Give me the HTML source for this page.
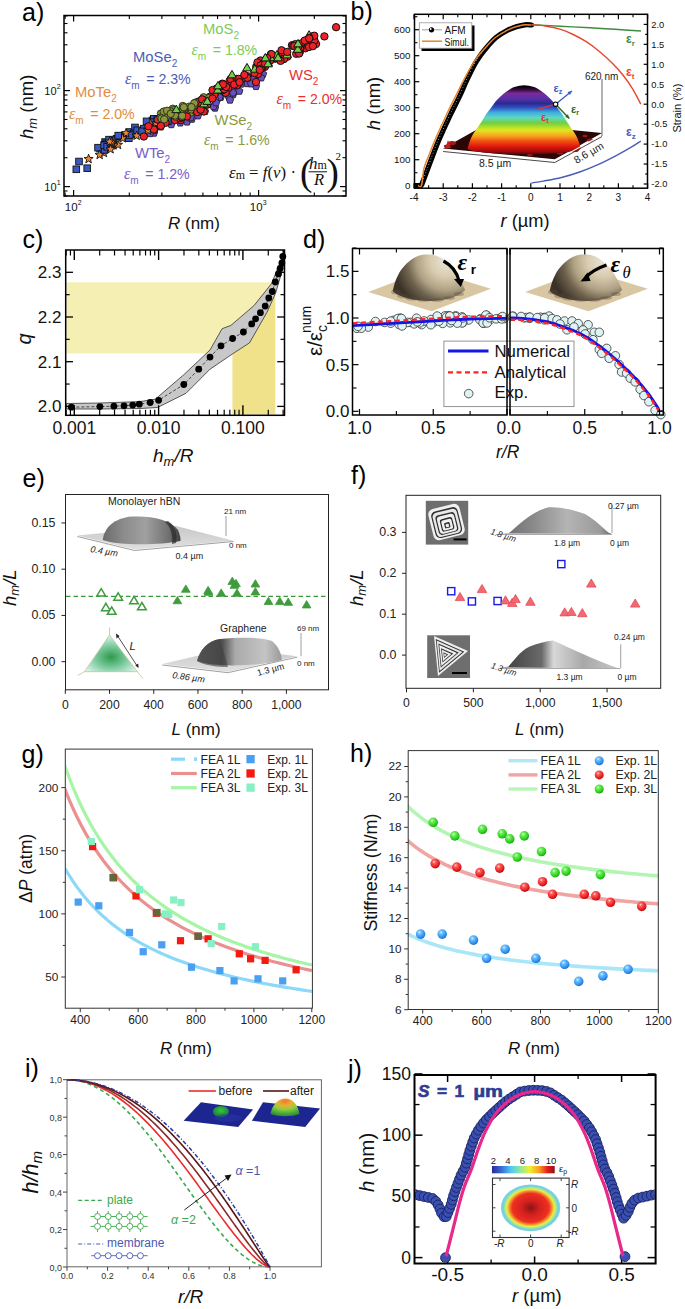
<!DOCTYPE html>
<html><head><meta charset="utf-8"><title>figure</title>
<style>html,body{margin:0;padding:0;background:#fff;overflow:hidden;} svg{display:block;}</style></head>
<body><svg width="685" height="1309" viewBox="0 0 685 1309">
<defs><linearGradient id="rainbow" gradientUnits="userSpaceOnUse" x1="0" y1="86.5" x2="0" y2="154.5">
<stop offset="0" stop-color="#0a000a"/><stop offset="0.05" stop-color="#3a0c40"/><stop offset="0.1" stop-color="#7a2a9a"/>
<stop offset="0.175" stop-color="#5a30a8"/><stop offset="0.25" stop-color="#2a2a90"/><stop offset="0.31" stop-color="#3050c0"/>
<stop offset="0.385" stop-color="#40b0e0"/><stop offset="0.46" stop-color="#60d8c0"/><stop offset="0.535" stop-color="#70d040"/>
<stop offset="0.64" stop-color="#e0e820"/><stop offset="0.73" stop-color="#f8a020"/><stop offset="0.805" stop-color="#f05010"/>
<stop offset="0.88" stop-color="#e01810"/><stop offset="0.955" stop-color="#a00a0a"/><stop offset="1" stop-color="#500505"/></linearGradient>
<radialGradient id="beigeL" gradientUnits="userSpaceOnUse" cx="447" cy="260" r="54" fx="446" fy="261"><stop offset="0" stop-color="#ebe4d4"/><stop offset="0.3" stop-color="#d8ccb0"/><stop offset="0.55" stop-color="#b0a284"/><stop offset="0.75" stop-color="#6e624e"/><stop offset="1" stop-color="#3a3226"/></radialGradient>
<radialGradient id="beigeR" gradientUnits="userSpaceOnUse" cx="604" cy="260" r="54" fx="603" fy="261"><stop offset="0" stop-color="#ebe4d4"/><stop offset="0.3" stop-color="#d8ccb0"/><stop offset="0.55" stop-color="#b0a284"/><stop offset="0.75" stop-color="#6e624e"/><stop offset="1" stop-color="#3a3226"/></radialGradient>
<linearGradient id="grayDomeL" x1="0" y1="0" x2="1" y2="0"><stop offset="0" stop-color="#6a6a6a"/><stop offset="0.25" stop-color="#8a8a8a"/><stop offset="0.55" stop-color="#a0a0a0"/><stop offset="0.85" stop-color="#707070"/><stop offset="1" stop-color="#404040"/></linearGradient>
<linearGradient id="grayPlate" x1="0" y1="0" x2="0" y2="1"><stop offset="0" stop-color="#c8c8c8"/><stop offset="1" stop-color="#e0e0e0"/></linearGradient>
<linearGradient id="grapheneL" x1="0" y1="0" x2="1" y2="0"><stop offset="0" stop-color="#707070"/><stop offset="0.3" stop-color="#505050"/><stop offset="0.45" stop-color="#aaaaaa"/><stop offset="0.8" stop-color="#c4c4c4"/><stop offset="1" stop-color="#9a9a9a"/></linearGradient>
<radialGradient id="triG" cx="0.5" cy="0.6" r="0.6"><stop offset="0" stop-color="#2e9a4a"/><stop offset="0.5" stop-color="#7ccba0"/><stop offset="1" stop-color="#e2f5ee"/></radialGradient>
<linearGradient id="pyrA" x1="0" y1="0" x2="1" y2="0"><stop offset="0" stop-color="#6a6a6a"/><stop offset="0.3" stop-color="#8a8a8a"/><stop offset="0.6" stop-color="#b4b4b4"/><stop offset="0.9" stop-color="#9a9a9a"/><stop offset="1" stop-color="#6a6a6a"/></linearGradient>
<linearGradient id="pyrB" x1="0" y1="0" x2="1" y2="0"><stop offset="0" stop-color="#3a3a3a"/><stop offset="0.35" stop-color="#6a6a6a"/><stop offset="0.45" stop-color="#d8d8d8"/><stop offset="0.7" stop-color="#a8a8a8"/><stop offset="1" stop-color="#c8c8c8"/></linearGradient>
<radialGradient id="sphB" cx="0.38" cy="0.32" r="0.7"><stop offset="0" stop-color="#d8f0ff"/><stop offset="0.25" stop-color="#6cc0ff"/><stop offset="0.8" stop-color="#2a8ae8"/><stop offset="1" stop-color="#1a6ad0"/></radialGradient>
<radialGradient id="sphR" cx="0.38" cy="0.32" r="0.7"><stop offset="0" stop-color="#ffd8d8"/><stop offset="0.25" stop-color="#ff5a5a"/><stop offset="0.8" stop-color="#e01818"/><stop offset="1" stop-color="#b80808"/></radialGradient>
<radialGradient id="sphG" cx="0.38" cy="0.32" r="0.7"><stop offset="0" stop-color="#e0ffd8"/><stop offset="0.25" stop-color="#6cf05a"/><stop offset="0.8" stop-color="#28c818"/><stop offset="1" stop-color="#18a010"/></radialGradient>
<radialGradient id="bumpG" cx="0.5" cy="0.4" r="0.6"><stop offset="0" stop-color="#3ac83a"/><stop offset="1" stop-color="#1a7a3a"/></radialGradient>
<radialGradient id="bumpO" cx="0.5" cy="0.15" r="0.85"><stop offset="0" stop-color="#f07a30"/><stop offset="0.3" stop-color="#e8b030"/><stop offset="0.55" stop-color="#8ad040"/><stop offset="1" stop-color="#2a8a3a"/></radialGradient>
<linearGradient id="cbar" x1="0" y1="0" x2="1" y2="0"><stop offset="0" stop-color="#2a2a9a"/><stop offset="0.15" stop-color="#3a6ad8"/><stop offset="0.3" stop-color="#50c8f0"/><stop offset="0.45" stop-color="#90e8a0"/><stop offset="0.6" stop-color="#f0f030"/><stop offset="0.75" stop-color="#f8a020"/><stop offset="0.88" stop-color="#e82020"/><stop offset="1" stop-color="#901010"/></linearGradient>
<radialGradient id="ell" cx="0.5" cy="0.5" r="0.5"><stop offset="0" stop-color="#8a1414"/><stop offset="0.3" stop-color="#d42020"/><stop offset="0.62" stop-color="#ee3020"/><stop offset="0.72" stop-color="#f49030"/><stop offset="0.8" stop-color="#e8f040"/><stop offset="0.88" stop-color="#a0e0a0"/><stop offset="0.92" stop-color="#70d4e0"/><stop offset="1" stop-color="#78d0e8"/></radialGradient></defs>
<rect x="0" y="0" width="685" height="1309" fill="#fff"/>
<text x="22" y="21" fill="#000" text-anchor="start" style="font-family:'Liberation Sans', sans-serif;font-size:25px;" >a)</text>
<line x1="73.6" y1="196" x2="73.6" y2="190" stroke="#000" stroke-width="1.2" />
<line x1="73.6" y1="15.5" x2="73.6" y2="21.5" stroke="#000" stroke-width="1.2" />
<line x1="258.6" y1="196" x2="258.6" y2="190" stroke="#000" stroke-width="1.2" />
<line x1="258.6" y1="15.5" x2="258.6" y2="21.5" stroke="#000" stroke-width="1.2" />
<line x1="65.13" y1="196" x2="65.13" y2="192.5" stroke="#000" stroke-width="1.1" />
<line x1="65.13" y1="15.5" x2="65.13" y2="19" stroke="#000" stroke-width="1.1" />
<line x1="129.29" y1="196" x2="129.29" y2="192.5" stroke="#000" stroke-width="1.1" />
<line x1="129.29" y1="15.5" x2="129.29" y2="19" stroke="#000" stroke-width="1.1" />
<line x1="161.87" y1="196" x2="161.87" y2="192.5" stroke="#000" stroke-width="1.1" />
<line x1="161.87" y1="15.5" x2="161.87" y2="19" stroke="#000" stroke-width="1.1" />
<line x1="184.98" y1="196" x2="184.98" y2="192.5" stroke="#000" stroke-width="1.1" />
<line x1="184.98" y1="15.5" x2="184.98" y2="19" stroke="#000" stroke-width="1.1" />
<line x1="202.91" y1="196" x2="202.91" y2="192.5" stroke="#000" stroke-width="1.1" />
<line x1="202.91" y1="15.5" x2="202.91" y2="19" stroke="#000" stroke-width="1.1" />
<line x1="217.56" y1="196" x2="217.56" y2="192.5" stroke="#000" stroke-width="1.1" />
<line x1="217.56" y1="15.5" x2="217.56" y2="19" stroke="#000" stroke-width="1.1" />
<line x1="229.94" y1="196" x2="229.94" y2="192.5" stroke="#000" stroke-width="1.1" />
<line x1="229.94" y1="15.5" x2="229.94" y2="19" stroke="#000" stroke-width="1.1" />
<line x1="240.67" y1="196" x2="240.67" y2="192.5" stroke="#000" stroke-width="1.1" />
<line x1="240.67" y1="15.5" x2="240.67" y2="19" stroke="#000" stroke-width="1.1" />
<line x1="250.13" y1="196" x2="250.13" y2="192.5" stroke="#000" stroke-width="1.1" />
<line x1="250.13" y1="15.5" x2="250.13" y2="19" stroke="#000" stroke-width="1.1" />
<line x1="314.29" y1="196" x2="314.29" y2="192.5" stroke="#000" stroke-width="1.1" />
<line x1="314.29" y1="15.5" x2="314.29" y2="19" stroke="#000" stroke-width="1.1" />
<line x1="64" y1="186.6" x2="70" y2="186.6" stroke="#000" stroke-width="1.2" />
<line x1="346" y1="186.6" x2="340" y2="186.6" stroke="#000" stroke-width="1.2" />
<line x1="64" y1="90.6" x2="70" y2="90.6" stroke="#000" stroke-width="1.2" />
<line x1="346" y1="90.6" x2="340" y2="90.6" stroke="#000" stroke-width="1.2" />
<line x1="64" y1="195.9" x2="67.5" y2="195.9" stroke="#000" stroke-width="1.1" />
<line x1="346" y1="195.9" x2="342.5" y2="195.9" stroke="#000" stroke-width="1.1" />
<line x1="64" y1="190.99" x2="67.5" y2="190.99" stroke="#000" stroke-width="1.1" />
<line x1="346" y1="190.99" x2="342.5" y2="190.99" stroke="#000" stroke-width="1.1" />
<line x1="64" y1="157.7" x2="67.5" y2="157.7" stroke="#000" stroke-width="1.1" />
<line x1="346" y1="157.7" x2="342.5" y2="157.7" stroke="#000" stroke-width="1.1" />
<line x1="64" y1="140.8" x2="67.5" y2="140.8" stroke="#000" stroke-width="1.1" />
<line x1="346" y1="140.8" x2="342.5" y2="140.8" stroke="#000" stroke-width="1.1" />
<line x1="64" y1="128.8" x2="67.5" y2="128.8" stroke="#000" stroke-width="1.1" />
<line x1="346" y1="128.8" x2="342.5" y2="128.8" stroke="#000" stroke-width="1.1" />
<line x1="64" y1="119.5" x2="67.5" y2="119.5" stroke="#000" stroke-width="1.1" />
<line x1="346" y1="119.5" x2="342.5" y2="119.5" stroke="#000" stroke-width="1.1" />
<line x1="64" y1="111.9" x2="67.5" y2="111.9" stroke="#000" stroke-width="1.1" />
<line x1="346" y1="111.9" x2="342.5" y2="111.9" stroke="#000" stroke-width="1.1" />
<line x1="64" y1="105.47" x2="67.5" y2="105.47" stroke="#000" stroke-width="1.1" />
<line x1="346" y1="105.47" x2="342.5" y2="105.47" stroke="#000" stroke-width="1.1" />
<line x1="64" y1="99.9" x2="67.5" y2="99.9" stroke="#000" stroke-width="1.1" />
<line x1="346" y1="99.9" x2="342.5" y2="99.9" stroke="#000" stroke-width="1.1" />
<line x1="64" y1="94.99" x2="67.5" y2="94.99" stroke="#000" stroke-width="1.1" />
<line x1="346" y1="94.99" x2="342.5" y2="94.99" stroke="#000" stroke-width="1.1" />
<line x1="64" y1="61.7" x2="67.5" y2="61.7" stroke="#000" stroke-width="1.1" />
<line x1="346" y1="61.7" x2="342.5" y2="61.7" stroke="#000" stroke-width="1.1" />
<line x1="64" y1="44.8" x2="67.5" y2="44.8" stroke="#000" stroke-width="1.1" />
<line x1="346" y1="44.8" x2="342.5" y2="44.8" stroke="#000" stroke-width="1.1" />
<line x1="64" y1="32.8" x2="67.5" y2="32.8" stroke="#000" stroke-width="1.1" />
<line x1="346" y1="32.8" x2="342.5" y2="32.8" stroke="#000" stroke-width="1.1" />
<line x1="64" y1="23.5" x2="67.5" y2="23.5" stroke="#000" stroke-width="1.1" />
<line x1="346" y1="23.5" x2="342.5" y2="23.5" stroke="#000" stroke-width="1.1" />
<line x1="64" y1="15.9" x2="67.5" y2="15.9" stroke="#000" stroke-width="1.1" />
<line x1="346" y1="15.9" x2="342.5" y2="15.9" stroke="#000" stroke-width="1.1" />
<rect x="64" y="15.5" width="282" height="180.5" fill="none" stroke="#000" stroke-width="1.5" />
<polygon points="228.03,90.82 231.74,93.52 230.33,97.88 225.74,97.88 224.33,93.52" stroke="#222" fill="#6a4ec8" stroke-width="0.9" />
<polygon points="220.75,93.42 224.45,96.11 223.04,100.47 218.45,100.47 217.04,96.11" stroke="#222" fill="#6a4ec8" stroke-width="0.9" />
<polygon points="171.39,117.45 175.1,120.15 173.68,124.51 169.1,124.51 167.68,120.15" stroke="#222" fill="#6a4ec8" stroke-width="0.9" />
<polygon points="153.97,129.16 157.68,131.85 156.26,136.21 151.68,136.21 150.26,131.85" stroke="#222" fill="#6a4ec8" stroke-width="0.9" />
<polygon points="215,104.1 218.71,106.79 217.29,111.16 212.71,111.16 211.29,106.79" stroke="#222" fill="#6a4ec8" stroke-width="0.9" />
<polygon points="259.85,72.7 263.56,75.39 262.15,79.75 257.56,79.75 256.15,75.39" stroke="#222" fill="#6a4ec8" stroke-width="0.9" />
<polygon points="246.98,79.61 250.69,82.31 249.27,86.67 244.69,86.67 243.27,82.31" stroke="#222" fill="#6a4ec8" stroke-width="0.9" />
<polygon points="217.61,94.81 221.32,97.51 219.9,101.87 215.32,101.87 213.9,97.51" stroke="#222" fill="#6a4ec8" stroke-width="0.9" />
<polygon points="187.08,118.06 190.79,120.76 189.37,125.12 184.79,125.12 183.37,120.76" stroke="#222" fill="#6a4ec8" stroke-width="0.9" />
<polygon points="232.85,87.97 236.56,90.66 235.15,95.02 230.56,95.02 229.15,90.66" stroke="#222" fill="#6a4ec8" stroke-width="0.9" />
<polygon points="232.1,86.67 235.81,89.37 234.4,93.73 229.81,93.73 228.39,89.37" stroke="#222" fill="#6a4ec8" stroke-width="0.9" />
<polygon points="233.07,90.71 236.78,93.41 235.36,97.77 230.78,97.77 229.36,93.41" stroke="#222" fill="#6a4ec8" stroke-width="0.9" />
<polygon points="229.11,93.6 232.82,96.29 231.4,100.65 226.81,100.65 225.4,96.29" stroke="#222" fill="#6a4ec8" stroke-width="0.9" />
<polygon points="205.05,107.54 208.76,110.24 207.34,114.6 202.75,114.6 201.34,110.24" stroke="#222" fill="#6a4ec8" stroke-width="0.9" />
<polygon points="191.84,115.18 195.55,117.88 194.13,122.24 189.54,122.24 188.13,117.88" stroke="#222" fill="#6a4ec8" stroke-width="0.9" />
<polygon points="219.57,93.32 223.28,96.02 221.87,100.38 217.28,100.38 215.86,96.02" stroke="#222" fill="#6a4ec8" stroke-width="0.9" />
<polygon points="171.3,120.64 175.01,123.34 173.59,127.7 169.01,127.7 167.59,123.34" stroke="#222" fill="#6a4ec8" stroke-width="0.9" />
<polygon points="167.44,115.58 171.15,118.27 169.73,122.63 165.15,122.63 163.73,118.27" stroke="#222" fill="#6a4ec8" stroke-width="0.9" />
<polygon points="239.26,87.22 242.97,89.91 241.55,94.27 236.97,94.27 235.55,89.91" stroke="#222" fill="#6a4ec8" stroke-width="0.9" />
<polygon points="263,70.1 266.71,72.79 265.29,77.16 260.71,77.16 259.29,72.79" stroke="#222" fill="#6a4ec8" stroke-width="0.9" />
<polygon points="160.28,122.41 163.99,125.11 162.57,129.47 157.99,129.47 156.57,125.11" stroke="#222" fill="#6a4ec8" stroke-width="0.9" />
<polygon points="256,82.5 259.71,85.19 258.29,89.56 253.71,89.56 252.29,85.19" stroke="#222" fill="#6a4ec8" stroke-width="0.9" />
<polygon points="201.03,104.03 204.74,106.73 203.32,111.09 198.74,111.09 197.32,106.73" stroke="#222" fill="#6a4ec8" stroke-width="0.9" />
<rect x="163.45" y="117.7" width="6.6" height="6.6" fill="#3a58c4" stroke="#111" stroke-width="0.9" />
<polygon points="214.94,95.23 218.65,97.92 217.23,102.28 212.65,102.28 211.23,97.92" stroke="#222" fill="#6a4ec8" stroke-width="0.9" />
<polygon points="261.27,73.86 264.97,76.55 263.56,80.91 258.97,80.91 257.56,76.55" stroke="#222" fill="#6a4ec8" stroke-width="0.9" />
<polygon points="241,80.1 244.71,82.79 243.29,87.16 238.71,87.16 237.29,82.79" stroke="#222" fill="#6a4ec8" stroke-width="0.9" />
<rect x="149.2" y="117.08" width="6.6" height="6.6" fill="#3a58c4" stroke="#111" stroke-width="0.9" />
<rect x="96.81" y="145.29" width="6.6" height="6.6" fill="#3a58c4" stroke="#111" stroke-width="0.9" />
<rect x="108.05" y="142.34" width="6.6" height="6.6" fill="#3a58c4" stroke="#111" stroke-width="0.9" />
<polygon points="154.34,126.49 158.05,129.18 156.63,133.54 152.05,133.54 150.63,129.18" stroke="#222" fill="#6a4ec8" stroke-width="0.9" />
<rect x="158.42" y="114.19" width="6.6" height="6.6" fill="#3a58c4" stroke="#111" stroke-width="0.9" />
<polygon points="150,129.6 153.71,132.29 152.29,136.66 147.71,136.66 146.29,132.29" stroke="#222" fill="#6a4ec8" stroke-width="0.9" />
<rect x="129.68" y="131.14" width="6.6" height="6.6" fill="#3a58c4" stroke="#111" stroke-width="0.9" />
<polygon points="213.53,102.7 217.24,105.4 215.82,109.76 211.24,109.76 209.82,105.4" stroke="#222" fill="#6a4ec8" stroke-width="0.9" />
<polygon points="197.89,111.86 201.6,114.55 200.18,118.92 195.59,118.92 194.18,114.55" stroke="#222" fill="#6a4ec8" stroke-width="0.9" />
<polygon points="230,96.1 233.71,98.79 232.29,103.16 227.71,103.16 226.29,98.79" stroke="#222" fill="#6a4ec8" stroke-width="0.9" />
<rect x="162.19" y="116" width="6.6" height="6.6" fill="#3a58c4" stroke="#111" stroke-width="0.9" />
<rect x="101.77" y="138.76" width="6.6" height="6.6" fill="#3a58c4" stroke="#111" stroke-width="0.9" />
<polygon points="233.08,88.94 236.79,91.63 235.37,95.99 230.79,95.99 229.37,91.63" stroke="#222" fill="#6a4ec8" stroke-width="0.9" />
<polygon points="160.82,122.95 164.53,125.65 163.11,130.01 158.53,130.01 157.11,125.65" stroke="#222" fill="#6a4ec8" stroke-width="0.9" />
<rect x="125.54" y="134.92" width="6.6" height="6.6" fill="#3a58c4" stroke="#111" stroke-width="0.9" />
<polygon points="153.82,123.47 157.53,126.16 156.12,130.53 151.53,130.53 150.11,126.16" stroke="#222" fill="#6a4ec8" stroke-width="0.9" />
<rect x="126.71" y="128.71" width="6.6" height="6.6" fill="#3a58c4" stroke="#111" stroke-width="0.9" />
<rect x="131.69" y="124.16" width="6.6" height="6.6" fill="#3a58c4" stroke="#111" stroke-width="0.9" />
<polygon points="216.09,98.71 219.8,101.41 218.39,105.77 213.8,105.77 212.39,101.41" stroke="#222" fill="#6a4ec8" stroke-width="0.9" />
<polygon points="159.57,119.94 163.27,122.64 161.86,127 157.27,127 155.86,122.64" stroke="#222" fill="#6a4ec8" stroke-width="0.9" />
<rect x="75.7" y="158.2" width="6.6" height="6.6" fill="#3a58c4" stroke="#111" stroke-width="0.9" />
<polygon points="251.09,79.88 254.8,82.58 253.38,86.94 248.8,86.94 247.38,82.58" stroke="#222" fill="#6a4ec8" stroke-width="0.9" />
<polygon points="180.27,119.01 183.98,121.7 182.56,126.06 177.98,126.06 176.56,121.7" stroke="#222" fill="#6a4ec8" stroke-width="0.9" />
<rect x="131.04" y="130.27" width="6.6" height="6.6" fill="#3a58c4" stroke="#111" stroke-width="0.9" />
<polygon points="252.91,72.79 256.62,75.48 255.2,79.85 250.62,79.85 249.2,75.48" stroke="#222" fill="#6a4ec8" stroke-width="0.9" />
<rect x="130.25" y="130.12" width="6.6" height="6.6" fill="#3a58c4" stroke="#111" stroke-width="0.9" />
<polygon points="190.7,113.79 194.41,116.48 192.99,120.84 188.41,120.84 186.99,116.48" stroke="#222" fill="#6a4ec8" stroke-width="0.9" />
<rect x="108.01" y="137.46" width="6.6" height="6.6" fill="#3a58c4" stroke="#111" stroke-width="0.9" />
<polygon points="117.45,132.21 118.62,135.39 122.01,135.53 119.35,137.63 120.27,140.89 117.45,139.01 114.63,140.89 115.54,137.63 112.88,135.53 116.27,135.39" stroke="#111" fill="#e8873a" stroke-width="0.9" />
<rect x="102.86" y="141.83" width="6.6" height="6.6" fill="#3a58c4" stroke="#111" stroke-width="0.9" />
<polygon points="113.77,139.33 114.94,142.51 118.33,142.65 115.67,144.75 116.59,148.01 113.77,146.13 110.95,148.01 111.87,144.75 109.2,142.65 112.59,142.51" stroke="#111" fill="#e8873a" stroke-width="0.9" />
<polygon points="114.22,134.99 115.39,138.17 118.78,138.31 116.12,140.41 117.04,143.67 114.22,141.79 111.39,143.67 112.31,140.41 109.65,138.31 113.04,138.17" stroke="#111" fill="#e8873a" stroke-width="0.9" />
<rect x="102.96" y="140.03" width="6.6" height="6.6" fill="#3a58c4" stroke="#111" stroke-width="0.9" />
<polygon points="157.87,116.96 159.05,120.14 162.44,120.27 159.77,122.37 160.69,125.64 157.87,123.76 155.05,125.64 155.97,122.37 153.31,120.27 156.7,120.14" stroke="#111" fill="#e8873a" stroke-width="0.9" />
<rect x="150.49" y="115.44" width="6.6" height="6.6" fill="#3a58c4" stroke="#111" stroke-width="0.9" />
<rect x="116.77" y="132.96" width="6.6" height="6.6" fill="#3a58c4" stroke="#111" stroke-width="0.9" />
<rect x="109.6" y="136.95" width="6.6" height="6.6" fill="#3a58c4" stroke="#111" stroke-width="0.9" />
<rect x="159.39" y="113.87" width="6.6" height="6.6" fill="#3a58c4" stroke="#111" stroke-width="0.9" />
<rect x="153.52" y="119.08" width="6.6" height="6.6" fill="#3a58c4" stroke="#111" stroke-width="0.9" />
<polygon points="122.65,133.47 123.82,136.65 127.21,136.79 124.55,138.89 125.47,142.15 122.65,140.27 119.83,142.15 120.75,138.89 118.08,136.79 121.47,136.65" stroke="#111" fill="#e8873a" stroke-width="0.9" />
<rect x="148.34" y="118.85" width="6.6" height="6.6" fill="#3a58c4" stroke="#111" stroke-width="0.9" />
<rect x="126.37" y="131.69" width="6.6" height="6.6" fill="#3a58c4" stroke="#111" stroke-width="0.9" />
<rect x="163.33" y="112.07" width="6.6" height="6.6" fill="#3a58c4" stroke="#111" stroke-width="0.9" />
<rect x="133.85" y="127.01" width="6.6" height="6.6" fill="#3a58c4" stroke="#111" stroke-width="0.9" />
<rect x="140.47" y="125.33" width="6.6" height="6.6" fill="#3a58c4" stroke="#111" stroke-width="0.9" />
<rect x="161.76" y="117.01" width="6.6" height="6.6" fill="#3a58c4" stroke="#111" stroke-width="0.9" />
<rect x="138.79" y="128.03" width="6.6" height="6.6" fill="#3a58c4" stroke="#111" stroke-width="0.9" />
<polygon points="103.22,144.42 104.39,147.6 107.78,147.74 105.12,149.84 106.04,153.1 103.22,151.22 100.4,153.1 101.32,149.84 98.65,147.74 102.04,147.6" stroke="#111" fill="#e8873a" stroke-width="0.9" />
<rect x="83.9" y="164.9" width="6.6" height="6.6" fill="#3a58c4" stroke="#111" stroke-width="0.9" />
<rect x="73" y="166" width="6.6" height="6.6" fill="#3a58c4" stroke="#111" stroke-width="0.9" />
<polygon points="103.92,148.13 105.1,151.31 108.49,151.45 105.83,153.55 106.74,156.81 103.92,154.93 101.1,156.81 102.02,153.55 99.36,151.45 102.75,151.31" stroke="#111" fill="#e8873a" stroke-width="0.9" />
<polygon points="117.99,140.06 119.16,143.24 122.55,143.37 119.89,145.47 120.81,148.74 117.99,146.86 115.16,148.74 116.08,145.47 113.42,143.37 116.81,143.24" stroke="#111" fill="#e8873a" stroke-width="0.9" />
<polygon points="150.32,118.37 151.49,121.55 154.88,121.68 152.22,123.78 153.14,127.05 150.32,125.17 147.49,127.05 148.41,123.78 145.75,121.68 149.14,121.55" stroke="#111" fill="#e8873a" stroke-width="0.9" />
<rect x="101.29" y="141.44" width="6.6" height="6.6" fill="#3a58c4" stroke="#111" stroke-width="0.9" />
<rect x="105.72" y="136.34" width="6.6" height="6.6" fill="#3a58c4" stroke="#111" stroke-width="0.9" />
<rect x="99.81" y="145.44" width="6.6" height="6.6" fill="#3a58c4" stroke="#111" stroke-width="0.9" />
<rect x="101.05" y="146.62" width="6.6" height="6.6" fill="#3a58c4" stroke="#111" stroke-width="0.9" />
<polygon points="163.99,116.38 165.17,119.56 168.56,119.7 165.9,121.8 166.82,125.06 163.99,123.18 161.17,125.06 162.09,121.8 159.43,119.7 162.82,119.56" stroke="#111" fill="#e8873a" stroke-width="0.9" />
<polygon points="136.65,130.94 137.82,134.12 141.21,134.26 138.55,136.36 139.47,139.62 136.65,137.74 133.82,139.62 134.74,136.36 132.08,134.26 135.47,134.12" stroke="#111" fill="#e8873a" stroke-width="0.9" />
<rect x="94.74" y="144.37" width="6.6" height="6.6" fill="#3a58c4" stroke="#111" stroke-width="0.9" />
<polygon points="99.67,150.09 100.85,153.27 104.24,153.41 101.57,155.51 102.49,158.77 99.67,156.89 96.85,158.77 97.77,155.51 95.1,153.41 98.49,153.27" stroke="#111" fill="#e8873a" stroke-width="0.9" />
<polygon points="113.45,140.52 114.63,143.7 118.02,143.84 115.35,145.94 116.27,149.2 113.45,147.32 110.63,149.2 111.55,145.94 108.89,143.84 112.27,143.7" stroke="#111" fill="#e8873a" stroke-width="0.9" />
<rect x="164.54" y="117.7" width="6.6" height="6.6" fill="#3a58c4" stroke="#111" stroke-width="0.9" />
<rect x="100.8" y="141.98" width="6.6" height="6.6" fill="#3a58c4" stroke="#111" stroke-width="0.9" />
<rect x="103.87" y="143.55" width="6.6" height="6.6" fill="#3a58c4" stroke="#111" stroke-width="0.9" />
<polygon points="155.95,118.39 157.13,121.58 160.52,121.71 157.85,123.81 158.77,127.08 155.95,125.19 153.13,127.08 154.05,123.81 151.39,121.71 154.78,121.58" stroke="#111" fill="#e8873a" stroke-width="0.9" />
<rect x="114.93" y="132.29" width="6.6" height="6.6" fill="#3a58c4" stroke="#111" stroke-width="0.9" />
<rect x="143.24" y="118.07" width="6.6" height="6.6" fill="#3a58c4" stroke="#111" stroke-width="0.9" />
<rect x="153.96" y="115.62" width="6.6" height="6.6" fill="#3a58c4" stroke="#111" stroke-width="0.9" />
<polygon points="88.6,154.2 89.78,157.38 93.17,157.52 90.5,159.62 91.42,162.88 88.6,161 85.78,162.88 86.7,159.62 84.03,157.52 87.42,157.38" stroke="#111" fill="#e8873a" stroke-width="0.9" />
<rect x="107.63" y="140.36" width="6.6" height="6.6" fill="#3a58c4" stroke="#111" stroke-width="0.9" />
<polygon points="111.54,138.37 112.71,141.56 116.1,141.69 113.44,143.79 114.36,147.06 111.54,145.17 108.72,147.06 109.64,143.79 106.97,141.69 110.36,141.56" stroke="#111" fill="#e8873a" stroke-width="0.9" />
<polygon points="111.71,136.93 112.89,140.11 116.28,140.24 113.62,142.34 114.54,145.61 111.71,143.73 108.89,145.61 109.81,142.34 107.15,140.24 110.54,140.11" stroke="#111" fill="#e8873a" stroke-width="0.9" />
<polygon points="159.68,118.1 160.86,121.29 164.25,121.42 161.58,123.52 162.5,126.79 159.68,124.9 156.86,126.79 157.78,123.52 155.12,121.42 158.51,121.29" stroke="#111" fill="#e8873a" stroke-width="0.9" />
<polygon points="163.18,113.41 164.36,116.6 167.75,116.73 165.08,118.83 166,122.1 163.18,120.21 160.36,122.1 161.28,118.83 158.62,116.73 162,116.6" stroke="#111" fill="#e8873a" stroke-width="0.9" />
<circle cx="180.66" cy="120.12" r="3.7" fill="#ec2229" stroke="#111" stroke-width="1" />
<circle cx="157.7" cy="119.65" r="3.7" fill="#ec2229" stroke="#111" stroke-width="1" />
<circle cx="185.33" cy="112.96" r="3.7" fill="#ec2229" stroke="#111" stroke-width="1" />
<polygon points="109.62,136.93 110.79,140.12 114.18,140.25 111.52,142.35 112.44,145.62 109.62,143.73 106.79,145.62 107.71,142.35 105.05,140.25 108.44,140.12" stroke="#111" fill="#e8873a" stroke-width="0.9" />
<polygon points="126.08,128.34 127.26,131.52 130.65,131.66 127.98,133.76 128.9,137.03 126.08,135.14 123.26,137.03 124.18,133.76 121.52,131.66 124.9,131.52" stroke="#111" fill="#e8873a" stroke-width="0.9" />
<polygon points="110.56,144.42 111.74,147.6 115.13,147.74 112.47,149.84 113.39,153.1 110.56,151.22 107.74,153.1 108.66,149.84 106,147.74 109.39,147.6" stroke="#111" fill="#e8873a" stroke-width="0.9" />
<polygon points="148.02,125.74 149.2,128.92 152.59,129.06 149.92,131.16 150.84,134.43 148.02,132.54 145.2,134.43 146.12,131.16 143.46,129.06 146.84,128.92" stroke="#111" fill="#e8873a" stroke-width="0.9" />
<circle cx="164.49" cy="119.97" r="3.7" fill="#ec2229" stroke="#111" stroke-width="1" />
<circle cx="194.92" cy="106.3" r="3.7" fill="#8a983a" stroke="#2a2a1a" stroke-width="0.9" />
<circle cx="190.73" cy="112.64" r="3.7" fill="#8a983a" stroke="#2a2a1a" stroke-width="0.9" />
<circle cx="176.35" cy="114.94" r="3.7" fill="#8a983a" stroke="#2a2a1a" stroke-width="0.9" />
<circle cx="191.29" cy="107.72" r="3.7" fill="#8a983a" stroke="#2a2a1a" stroke-width="0.9" />
<circle cx="153.86" cy="129.52" r="3.7" fill="#ec2229" stroke="#111" stroke-width="1" />
<circle cx="169.93" cy="114.19" r="3.7" fill="#8a983a" stroke="#2a2a1a" stroke-width="0.9" />
<circle cx="236" cy="84" r="3.7" fill="#8a983a" stroke="#2a2a1a" stroke-width="0.9" />
<circle cx="205.29" cy="102.96" r="3.7" fill="#8a983a" stroke="#2a2a1a" stroke-width="0.9" />
<circle cx="182.34" cy="109.73" r="3.7" fill="#ec2229" stroke="#111" stroke-width="1" />
<circle cx="143.8" cy="136.5" r="3.7" fill="#ec2229" stroke="#111" stroke-width="1" />
<circle cx="175.77" cy="117.01" r="3.7" fill="#8a983a" stroke="#2a2a1a" stroke-width="0.9" />
<circle cx="174.9" cy="120.1" r="3.7" fill="#ec2229" stroke="#111" stroke-width="1" />
<circle cx="195.56" cy="111.03" r="3.7" fill="#8a983a" stroke="#2a2a1a" stroke-width="0.9" />
<circle cx="195.43" cy="106.9" r="3.7" fill="#8a983a" stroke="#2a2a1a" stroke-width="0.9" />
<circle cx="182.03" cy="115.21" r="3.7" fill="#8a983a" stroke="#2a2a1a" stroke-width="0.9" />
<circle cx="160.96" cy="113.52" r="3.7" fill="#8a983a" stroke="#2a2a1a" stroke-width="0.9" />
<circle cx="172.79" cy="108.76" r="3.7" fill="#8a983a" stroke="#2a2a1a" stroke-width="0.9" />
<circle cx="165.58" cy="122.78" r="3.7" fill="#ec2229" stroke="#111" stroke-width="1" />
<circle cx="191.5" cy="109.41" r="3.7" fill="#8a983a" stroke="#2a2a1a" stroke-width="0.9" />
<circle cx="173.84" cy="110.19" r="3.7" fill="#8a983a" stroke="#2a2a1a" stroke-width="0.9" />
<circle cx="179.94" cy="118.18" r="3.7" fill="#ec2229" stroke="#111" stroke-width="1" />
<circle cx="201.48" cy="100.82" r="3.7" fill="#8a983a" stroke="#2a2a1a" stroke-width="0.9" />
<circle cx="195.71" cy="102.49" r="3.7" fill="#8a983a" stroke="#2a2a1a" stroke-width="0.9" />
<circle cx="166.81" cy="115.8" r="3.7" fill="#8a983a" stroke="#2a2a1a" stroke-width="0.9" />
<circle cx="175.45" cy="116.58" r="3.7" fill="#8a983a" stroke="#2a2a1a" stroke-width="0.9" />
<circle cx="175.05" cy="115.44" r="3.7" fill="#8a983a" stroke="#2a2a1a" stroke-width="0.9" />
<circle cx="160.54" cy="117.45" r="3.7" fill="#8a983a" stroke="#2a2a1a" stroke-width="0.9" />
<circle cx="197.16" cy="112.09" r="3.7" fill="#ec2229" stroke="#111" stroke-width="1" />
<circle cx="201.85" cy="107.39" r="3.7" fill="#8a983a" stroke="#2a2a1a" stroke-width="0.9" />
<circle cx="198.91" cy="101.46" r="3.7" fill="#ec2229" stroke="#111" stroke-width="1" />
<circle cx="181.71" cy="117.13" r="3.7" fill="#ec2229" stroke="#111" stroke-width="1" />
<circle cx="214.98" cy="93.12" r="3.7" fill="#ec2229" stroke="#111" stroke-width="1" />
<circle cx="186.93" cy="116.49" r="3.7" fill="#ec2229" stroke="#111" stroke-width="1" />
<circle cx="160.83" cy="125.84" r="3.7" fill="#ec2229" stroke="#111" stroke-width="1" />
<circle cx="182.1" cy="115.77" r="3.7" fill="#8a983a" stroke="#2a2a1a" stroke-width="0.9" />
<circle cx="200.37" cy="109.2" r="3.7" fill="#8a983a" stroke="#2a2a1a" stroke-width="0.9" />
<circle cx="204.01" cy="100.82" r="3.7" fill="#8a983a" stroke="#2a2a1a" stroke-width="0.9" />
<circle cx="324.4" cy="36.4" r="3.7" fill="#ec2229" stroke="#111" stroke-width="1" />
<circle cx="256" cy="82" r="3.7" fill="#ec2229" stroke="#111" stroke-width="1" />
<circle cx="281.07" cy="53.55" r="3.7" fill="#ec2229" stroke="#111" stroke-width="1" />
<circle cx="148.44" cy="126.26" r="3.7" fill="#ec2229" stroke="#111" stroke-width="1" />
<circle cx="229.57" cy="80.94" r="3.7" fill="#ec2229" stroke="#111" stroke-width="1" />
<circle cx="201.38" cy="105.74" r="3.7" fill="#ec2229" stroke="#111" stroke-width="1" />
<circle cx="214.49" cy="94.38" r="3.7" fill="#ec2229" stroke="#111" stroke-width="1" />
<circle cx="262.46" cy="61.04" r="3.7" fill="#ec2229" stroke="#111" stroke-width="1" />
<circle cx="316" cy="44" r="3.7" fill="#ec2229" stroke="#111" stroke-width="1" />
<circle cx="209.77" cy="96.85" r="3.7" fill="#ec2229" stroke="#111" stroke-width="1" />
<circle cx="170.13" cy="111.26" r="3.7" fill="#8a983a" stroke="#2a2a1a" stroke-width="0.9" />
<circle cx="163.73" cy="111.57" r="3.7" fill="#8a983a" stroke="#2a2a1a" stroke-width="0.9" />
<circle cx="189.16" cy="106.62" r="3.7" fill="#8a983a" stroke="#2a2a1a" stroke-width="0.9" />
<circle cx="203.73" cy="111.47" r="3.7" fill="#ec2229" stroke="#111" stroke-width="1" />
<circle cx="275.34" cy="58.5" r="3.7" fill="#ec2229" stroke="#111" stroke-width="1" />
<circle cx="221.39" cy="88.87" r="3.7" fill="#ec2229" stroke="#111" stroke-width="1" />
<circle cx="167.04" cy="110.79" r="3.7" fill="#8a983a" stroke="#2a2a1a" stroke-width="0.9" />
<circle cx="305.4" cy="48.26" r="3.7" fill="#ec2229" stroke="#111" stroke-width="1" />
<circle cx="200.3" cy="108.74" r="3.7" fill="#8a983a" stroke="#2a2a1a" stroke-width="0.9" />
<circle cx="281.54" cy="50.28" r="3.7" fill="#ec2229" stroke="#111" stroke-width="1" />
<circle cx="258" cy="74" r="3.7" fill="#ec2229" stroke="#111" stroke-width="1" />
<circle cx="267.61" cy="58.44" r="3.7" fill="#ec2229" stroke="#111" stroke-width="1" />
<circle cx="283.15" cy="59.12" r="3.7" fill="#ec2229" stroke="#111" stroke-width="1" />
<circle cx="306.52" cy="41.9" r="3.7" fill="#ec2229" stroke="#111" stroke-width="1" />
<circle cx="182.53" cy="108.81" r="3.7" fill="#8a983a" stroke="#2a2a1a" stroke-width="0.9" />
<circle cx="287.41" cy="56.69" r="3.7" fill="#ec2229" stroke="#111" stroke-width="1" />
<circle cx="194.22" cy="103.3" r="3.7" fill="#8a983a" stroke="#2a2a1a" stroke-width="0.9" />
<circle cx="275.39" cy="58.39" r="3.7" fill="#ec2229" stroke="#111" stroke-width="1" />
<circle cx="203.64" cy="97.31" r="3.7" fill="#8a983a" stroke="#2a2a1a" stroke-width="0.9" />
<circle cx="231.77" cy="82.95" r="3.7" fill="#ec2229" stroke="#111" stroke-width="1" />
<circle cx="270.75" cy="60.2" r="3.7" fill="#ec2229" stroke="#111" stroke-width="1" />
<circle cx="200.62" cy="109.67" r="3.7" fill="#ec2229" stroke="#111" stroke-width="1" />
<circle cx="299.12" cy="49.89" r="3.7" fill="#ec2229" stroke="#111" stroke-width="1" />
<circle cx="209.1" cy="98.01" r="3.7" fill="#8a983a" stroke="#2a2a1a" stroke-width="0.9" />
<circle cx="182.74" cy="105.98" r="3.7" fill="#8a983a" stroke="#2a2a1a" stroke-width="0.9" />
<circle cx="311.6" cy="41.6" r="3.7" fill="#ec2229" stroke="#111" stroke-width="1" />
<circle cx="230.62" cy="79.11" r="3.7" fill="#ec2229" stroke="#111" stroke-width="1" />
<circle cx="170.7" cy="113.78" r="3.7" fill="#8a983a" stroke="#2a2a1a" stroke-width="0.9" />
<circle cx="299.55" cy="48.13" r="3.7" fill="#ec2229" stroke="#111" stroke-width="1" />
<circle cx="299.74" cy="52.13" r="3.7" fill="#ec2229" stroke="#111" stroke-width="1" />
<circle cx="236.78" cy="78.91" r="3.7" fill="#ec2229" stroke="#111" stroke-width="1" />
<circle cx="300.98" cy="44.92" r="3.7" fill="#ec2229" stroke="#111" stroke-width="1" />
<circle cx="235.5" cy="84.5" r="3.7" fill="#8a983a" stroke="#2a2a1a" stroke-width="0.9" />
<circle cx="260.48" cy="60.5" r="3.7" fill="#ec2229" stroke="#111" stroke-width="1" />
<circle cx="184.05" cy="107.71" r="3.7" fill="#8a983a" stroke="#2a2a1a" stroke-width="0.9" />
<circle cx="314.28" cy="40.65" r="3.7" fill="#ec2229" stroke="#111" stroke-width="1" />
<circle cx="228.24" cy="88.06" r="3.7" fill="#ec2229" stroke="#111" stroke-width="1" />
<circle cx="224.57" cy="91.7" r="3.7" fill="#ec2229" stroke="#111" stroke-width="1" />
<circle cx="312" cy="36.53" r="3.7" fill="#ec2229" stroke="#111" stroke-width="1" />
<circle cx="259.33" cy="69.23" r="3.7" fill="#ec2229" stroke="#111" stroke-width="1" />
<circle cx="161.49" cy="118.47" r="3.7" fill="#8a983a" stroke="#2a2a1a" stroke-width="0.9" />
<circle cx="282.72" cy="59.11" r="3.7" fill="#ec2229" stroke="#111" stroke-width="1" />
<circle cx="183.76" cy="107.26" r="3.7" fill="#8a983a" stroke="#2a2a1a" stroke-width="0.9" />
<circle cx="270.91" cy="54.21" r="3.7" fill="#ec2229" stroke="#111" stroke-width="1" />
<circle cx="274.27" cy="57.45" r="3.7" fill="#ec2229" stroke="#111" stroke-width="1" />
<circle cx="216.58" cy="88.58" r="3.7" fill="#ec2229" stroke="#111" stroke-width="1" />
<circle cx="284" cy="59" r="3.7" fill="#ec2229" stroke="#111" stroke-width="1" />
<circle cx="164.19" cy="119.34" r="3.7" fill="#8a983a" stroke="#2a2a1a" stroke-width="0.9" />
<circle cx="191.46" cy="107.13" r="3.7" fill="#8a983a" stroke="#2a2a1a" stroke-width="0.9" />
<circle cx="247.53" cy="76.26" r="3.7" fill="#ec2229" stroke="#111" stroke-width="1" />
<circle cx="296.25" cy="53.79" r="3.7" fill="#ec2229" stroke="#111" stroke-width="1" />
<circle cx="225.74" cy="92.79" r="3.7" fill="#ec2229" stroke="#111" stroke-width="1" />
<circle cx="254.52" cy="73.06" r="3.7" fill="#ec2229" stroke="#111" stroke-width="1" />
<circle cx="202.1" cy="99.34" r="3.7" fill="#ec2229" stroke="#111" stroke-width="1" />
<circle cx="314.39" cy="40.5" r="3.7" fill="#ec2229" stroke="#111" stroke-width="1" />
<polygon points="268.05,58.17 272.42,65.62 263.68,65.62" stroke="#111" fill="#72d048" stroke-width="1" />
<circle cx="256.23" cy="66.67" r="3.7" fill="#ec2229" stroke="#111" stroke-width="1" />
<circle cx="241.93" cy="78.75" r="3.7" fill="#ec2229" stroke="#111" stroke-width="1" />
<circle cx="266.42" cy="62.64" r="3.7" fill="#ec2229" stroke="#111" stroke-width="1" />
<circle cx="263.24" cy="64.7" r="3.7" fill="#ec2229" stroke="#111" stroke-width="1" />
<circle cx="222.59" cy="90.07" r="3.7" fill="#ec2229" stroke="#111" stroke-width="1" />
<circle cx="257.52" cy="62.43" r="3.7" fill="#ec2229" stroke="#111" stroke-width="1" />
<polygon points="276.83,50.55 281.2,58 272.46,58" stroke="#111" fill="#72d048" stroke-width="1" />
<circle cx="224.1" cy="89.34" r="3.7" fill="#ec2229" stroke="#111" stroke-width="1" />
<circle cx="207.31" cy="104.7" r="3.7" fill="#ec2229" stroke="#111" stroke-width="1" />
<circle cx="309" cy="47" r="3.7" fill="#ec2229" stroke="#111" stroke-width="1" />
<circle cx="301.1" cy="43.47" r="3.7" fill="#ec2229" stroke="#111" stroke-width="1" />
<circle cx="291.96" cy="45.29" r="3.7" fill="#ec2229" stroke="#111" stroke-width="1" />
<circle cx="212.53" cy="90.08" r="3.7" fill="#ec2229" stroke="#111" stroke-width="1" />
<circle cx="293.21" cy="45.94" r="3.7" fill="#ec2229" stroke="#111" stroke-width="1" />
<polygon points="309.1,30.7 313.47,38.15 304.73,38.15" stroke="#111" fill="#72d048" stroke-width="1" />
<circle cx="314.27" cy="35.75" r="3.7" fill="#ec2229" stroke="#111" stroke-width="1" />
<circle cx="264.94" cy="66.86" r="3.7" fill="#ec2229" stroke="#111" stroke-width="1" />
<circle cx="238.57" cy="78.89" r="3.7" fill="#ec2229" stroke="#111" stroke-width="1" />
<circle cx="280.52" cy="60.86" r="3.7" fill="#ec2229" stroke="#111" stroke-width="1" />
<polygon points="287.07,50.43 291.44,57.88 282.7,57.88" stroke="#111" fill="#72d048" stroke-width="1" />
<polygon points="254.84,64.71 259.21,72.16 250.47,72.16" stroke="#111" fill="#72d048" stroke-width="1" />
<circle cx="262.58" cy="64.29" r="3.7" fill="#ec2229" stroke="#111" stroke-width="1" />
<circle cx="287.24" cy="51.9" r="3.7" fill="#ec2229" stroke="#111" stroke-width="1" />
<circle cx="300.45" cy="48.33" r="3.7" fill="#ec2229" stroke="#111" stroke-width="1" />
<circle cx="263.57" cy="63.42" r="3.7" fill="#ec2229" stroke="#111" stroke-width="1" />
<polygon points="261.85,61.8 266.22,69.25 257.48,69.25" stroke="#111" fill="#72d048" stroke-width="1" />
<circle cx="304.73" cy="40.56" r="3.7" fill="#ec2229" stroke="#111" stroke-width="1" />
<circle cx="237.17" cy="85.18" r="3.7" fill="#ec2229" stroke="#111" stroke-width="1" />
<polygon points="176.32,105.22 180.69,112.67 171.95,112.67" stroke="#111" fill="#72d048" stroke-width="1" />
<circle cx="300" cy="48" r="3.7" fill="#ec2229" stroke="#111" stroke-width="1" />
<polygon points="270.65,53.26 275.02,60.71 266.28,60.71" stroke="#111" fill="#72d048" stroke-width="1" />
<circle cx="212.38" cy="98.51" r="3.7" fill="#ec2229" stroke="#111" stroke-width="1" />
<circle cx="271.42" cy="54.15" r="3.7" fill="#ec2229" stroke="#111" stroke-width="1" />
<circle cx="260.8" cy="65.28" r="3.7" fill="#ec2229" stroke="#111" stroke-width="1" />
<circle cx="260.95" cy="68.71" r="3.7" fill="#ec2229" stroke="#111" stroke-width="1" />
<circle cx="222.9" cy="85.2" r="3.7" fill="#ec2229" stroke="#111" stroke-width="1" />
<circle cx="267.11" cy="58.09" r="3.7" fill="#ec2229" stroke="#111" stroke-width="1" />
<polygon points="225,81.4 229.37,88.85 220.63,88.85" stroke="#111" fill="#72d048" stroke-width="1" />
<circle cx="222.3" cy="83.67" r="3.7" fill="#ec2229" stroke="#111" stroke-width="1" />
<circle cx="221.78" cy="85.6" r="3.7" fill="#ec2229" stroke="#111" stroke-width="1" />
<circle cx="247.27" cy="77.8" r="3.7" fill="#ec2229" stroke="#111" stroke-width="1" />
<polygon points="204.01,99.49 208.38,106.94 199.64,106.94" stroke="#111" fill="#72d048" stroke-width="1" />
<circle cx="265.1" cy="63.72" r="3.7" fill="#ec2229" stroke="#111" stroke-width="1" />
<polygon points="278,53.4 282.37,60.85 273.63,60.85" stroke="#111" fill="#72d048" stroke-width="1" />
<circle cx="312.91" cy="46.13" r="3.7" fill="#ec2229" stroke="#111" stroke-width="1" />
<circle cx="299.15" cy="53.49" r="3.7" fill="#ec2229" stroke="#111" stroke-width="1" />
<circle cx="234.24" cy="84.57" r="3.7" fill="#ec2229" stroke="#111" stroke-width="1" />
<circle cx="244.34" cy="74.87" r="3.7" fill="#ec2229" stroke="#111" stroke-width="1" />
<circle cx="239.53" cy="82.18" r="3.7" fill="#ec2229" stroke="#111" stroke-width="1" />
<circle cx="259.67" cy="69.9" r="3.7" fill="#ec2229" stroke="#111" stroke-width="1" />
<circle cx="295.48" cy="44.12" r="3.7" fill="#ec2229" stroke="#111" stroke-width="1" />
<circle cx="226.13" cy="86.9" r="3.7" fill="#ec2229" stroke="#111" stroke-width="1" />
<circle cx="294.38" cy="45.94" r="3.7" fill="#ec2229" stroke="#111" stroke-width="1" />
<circle cx="309.37" cy="37.89" r="3.7" fill="#ec2229" stroke="#111" stroke-width="1" />
<circle cx="309.18" cy="38.39" r="3.7" fill="#ec2229" stroke="#111" stroke-width="1" />
<circle cx="298.2" cy="47.12" r="3.7" fill="#ec2229" stroke="#111" stroke-width="1" />
<circle cx="336.1" cy="27.2" r="3.7" fill="#ec2229" stroke="#111" stroke-width="1" />
<circle cx="223.02" cy="84.38" r="3.7" fill="#ec2229" stroke="#111" stroke-width="1" />
<polygon points="232,70.4 236.37,77.85 227.63,77.85" stroke="#111" fill="#72d048" stroke-width="1" />
<polygon points="268,59.4 272.37,66.85 263.63,66.85" stroke="#111" fill="#72d048" stroke-width="1" />
<polygon points="297.84,44.87 302.21,52.32 293.47,52.32" stroke="#111" fill="#72d048" stroke-width="1" />
<polygon points="217.71,85.62 222.08,93.07 213.34,93.07" stroke="#111" fill="#72d048" stroke-width="1" />
<polygon points="265.33,53.44 269.7,60.89 260.96,60.89" stroke="#111" fill="#72d048" stroke-width="1" />
<polygon points="298,39.4 302.37,46.85 293.63,46.85" stroke="#111" fill="#72d048" stroke-width="1" />
<polygon points="247,63.4 251.37,70.85 242.63,70.85" stroke="#111" fill="#72d048" stroke-width="1" />
<polygon points="218,81.4 222.37,88.85 213.63,88.85" stroke="#111" fill="#72d048" stroke-width="1" />
<polygon points="207.28,96.9 211.65,104.36 202.91,104.36" stroke="#111" fill="#72d048" stroke-width="1" />
<text x="203" y="33.7" fill="#7ccc55" style="font-family:'Liberation Sans', sans-serif;font-size:14.8px">MoS<tspan font-size="10" dy="5">2</tspan></text>
<text x="191.5" y="55.3" fill="#7ccc55" style="font-family:'Liberation Sans', sans-serif;font-size:14.2px"><tspan font-family="Liberation Serif" font-style="italic" font-size="16">ε</tspan><tspan font-size="10" dy="5">m</tspan><tspan dy="-5" dx="6.5">= 1.8%</tspan></text>
<text x="133" y="61.5" fill="#4c5bb5" style="font-family:'Liberation Sans', sans-serif;font-size:14.8px">MoSe<tspan font-size="10" dy="5">2</tspan></text>
<text x="125" y="84" fill="#4c5bb5" style="font-family:'Liberation Sans', sans-serif;font-size:14.2px"><tspan font-family="Liberation Serif" font-style="italic" font-size="16">ε</tspan><tspan font-size="10" dy="5">m</tspan><tspan dy="-5" dx="6.5">= 2.3%</tspan></text>
<text x="75" y="97.2" fill="#e48a3c" style="font-family:'Liberation Sans', sans-serif;font-size:14.8px">MoTe<tspan font-size="10" dy="5">2</tspan></text>
<text x="69" y="118.7" fill="#e48a3c" style="font-family:'Liberation Sans', sans-serif;font-size:14.2px"><tspan font-family="Liberation Serif" font-style="italic" font-size="16">ε</tspan><tspan font-size="10" dy="5">m</tspan><tspan dy="-5" dx="6.5">= 2.0%</tspan></text>
<text x="289" y="79.9" fill="#e8312f" style="font-family:'Liberation Sans', sans-serif;font-size:14.8px">WS<tspan font-size="10" dy="5">2</tspan></text>
<text x="276.5" y="103.8" fill="#e8312f" style="font-family:'Liberation Sans', sans-serif;font-size:14.2px"><tspan font-family="Liberation Serif" font-style="italic" font-size="16">ε</tspan><tspan font-size="10" dy="5">m</tspan><tspan dy="-5" dx="6.5">= 2.0%</tspan></text>
<text x="214.5" y="124.5" fill="#8a9a3c" style="font-family:'Liberation Sans', sans-serif;font-size:14.8px">WSe<tspan font-size="10" dy="5">2</tspan></text>
<text x="204" y="145" fill="#8a9a3c" style="font-family:'Liberation Sans', sans-serif;font-size:14.2px"><tspan font-family="Liberation Serif" font-style="italic" font-size="16">ε</tspan><tspan font-size="10" dy="5">m</tspan><tspan dy="-5" dx="6.5">= 1.6%</tspan></text>
<text x="135" y="157.9" fill="#7a5ccc" style="font-family:'Liberation Sans', sans-serif;font-size:14.8px">WTe<tspan font-size="10" dy="5">2</tspan></text>
<text x="124" y="179" fill="#7a5ccc" style="font-family:'Liberation Sans', sans-serif;font-size:14.2px"><tspan font-family="Liberation Serif" font-style="italic" font-size="16">ε</tspan><tspan font-size="10" dy="5">m</tspan><tspan dy="-5" dx="6.5">= 1.2%</tspan></text>
<text x="229" y="178" fill="#111" textLength="67" lengthAdjust="spacingAndGlyphs" style="font-family:Liberation Serif;font-size:17px"><tspan font-style="italic">ε</tspan><tspan font-size="12" dy="1">m</tspan><tspan dy="-1"> = </tspan><tspan font-style="italic">f</tspan>(<tspan font-style="italic">ν</tspan>) ·</text>
<text x="300" y="185" fill="#111" style="font-family:Liberation Serif;font-size:37px">(</text>
<text x="326.5" y="185" fill="#111" style="font-family:Liberation Serif;font-size:37px">)</text>
<text x="309" y="169" fill="#111" style="font-family:Liberation Serif;font-size:17px"><tspan font-style="italic">h</tspan><tspan font-size="12">m</tspan></text>
<line x1="308.5" y1="171.8" x2="327" y2="171.8" stroke="#111" stroke-width="1" />
<text x="314" y="185.4" fill="#111" style="font-family:Liberation Serif;font-size:16.5px;font-style:italic">R</text>
<text x="335.5" y="160" fill="#111" style="font-family:Liberation Serif;font-size:11px">2</text>
<text x="77.6" y="211" fill="#111" text-anchor="end" style="font-family:'Liberation Sans', sans-serif;font-size:11.5px;" >10</text>
<text x="77.8" y="205" fill="#111" text-anchor="start" style="font-family:'Liberation Sans', sans-serif;font-size:7px;" >2</text>
<text x="262.6" y="211" fill="#111" text-anchor="end" style="font-family:'Liberation Sans', sans-serif;font-size:11.5px;" >10</text>
<text x="262.8" y="205" fill="#111" text-anchor="start" style="font-family:'Liberation Sans', sans-serif;font-size:7px;" >3</text>
<text x="56.6" y="190.6" fill="#111" text-anchor="end" style="font-family:'Liberation Sans', sans-serif;font-size:11px;" >10</text>
<text x="56.8" y="185.1" fill="#111" text-anchor="start" style="font-family:'Liberation Sans', sans-serif;font-size:7px;" >1</text>
<text x="56.6" y="94.6" fill="#111" text-anchor="end" style="font-family:'Liberation Sans', sans-serif;font-size:11px;" >10</text>
<text x="56.8" y="89.1" fill="#111" text-anchor="start" style="font-family:'Liberation Sans', sans-serif;font-size:7px;" >2</text>
<text x="168" y="229" fill="#111" text-anchor="start" style="font-family:'Liberation Sans', sans-serif;font-size:17px;" ><tspan font-style="italic">R</tspan> (nm)</text>
<text transform="translate(33,139) rotate(-90)" style="font-family:'Liberation Sans', sans-serif;font-size:18.5px;" fill="#111"><tspan font-style="italic">h</tspan><tspan font-style="italic" font-size="13" dy="4">m</tspan><tspan dy="-4"> (nm)</tspan></text>
<text x="350.5" y="20" fill="#000" text-anchor="start" style="font-family:'Liberation Sans', sans-serif;font-size:25px;" >b)</text>
<line x1="414" y1="188.2" x2="414" y2="183.2" stroke="#000" stroke-width="1.2" />
<line x1="414" y1="14.3" x2="414" y2="19.3" stroke="#000" stroke-width="1.2" />
<line x1="443.2" y1="188.2" x2="443.2" y2="183.2" stroke="#000" stroke-width="1.2" />
<line x1="443.2" y1="14.3" x2="443.2" y2="19.3" stroke="#000" stroke-width="1.2" />
<line x1="472.4" y1="188.2" x2="472.4" y2="183.2" stroke="#000" stroke-width="1.2" />
<line x1="472.4" y1="14.3" x2="472.4" y2="19.3" stroke="#000" stroke-width="1.2" />
<line x1="501.6" y1="188.2" x2="501.6" y2="183.2" stroke="#000" stroke-width="1.2" />
<line x1="501.6" y1="14.3" x2="501.6" y2="19.3" stroke="#000" stroke-width="1.2" />
<line x1="530.8" y1="188.2" x2="530.8" y2="183.2" stroke="#000" stroke-width="1.2" />
<line x1="530.8" y1="14.3" x2="530.8" y2="19.3" stroke="#000" stroke-width="1.2" />
<line x1="560" y1="188.2" x2="560" y2="183.2" stroke="#000" stroke-width="1.2" />
<line x1="560" y1="14.3" x2="560" y2="19.3" stroke="#000" stroke-width="1.2" />
<line x1="589.2" y1="188.2" x2="589.2" y2="183.2" stroke="#000" stroke-width="1.2" />
<line x1="589.2" y1="14.3" x2="589.2" y2="19.3" stroke="#000" stroke-width="1.2" />
<line x1="618.4" y1="188.2" x2="618.4" y2="183.2" stroke="#000" stroke-width="1.2" />
<line x1="618.4" y1="14.3" x2="618.4" y2="19.3" stroke="#000" stroke-width="1.2" />
<line x1="647.6" y1="188.2" x2="647.6" y2="183.2" stroke="#000" stroke-width="1.2" />
<line x1="647.6" y1="14.3" x2="647.6" y2="19.3" stroke="#000" stroke-width="1.2" />
<line x1="428.6" y1="188.2" x2="428.6" y2="185.2" stroke="#000" stroke-width="1.1" />
<line x1="428.6" y1="14.3" x2="428.6" y2="17.3" stroke="#000" stroke-width="1.1" />
<line x1="457.8" y1="188.2" x2="457.8" y2="185.2" stroke="#000" stroke-width="1.1" />
<line x1="457.8" y1="14.3" x2="457.8" y2="17.3" stroke="#000" stroke-width="1.1" />
<line x1="487" y1="188.2" x2="487" y2="185.2" stroke="#000" stroke-width="1.1" />
<line x1="487" y1="14.3" x2="487" y2="17.3" stroke="#000" stroke-width="1.1" />
<line x1="516.2" y1="188.2" x2="516.2" y2="185.2" stroke="#000" stroke-width="1.1" />
<line x1="516.2" y1="14.3" x2="516.2" y2="17.3" stroke="#000" stroke-width="1.1" />
<line x1="545.4" y1="188.2" x2="545.4" y2="185.2" stroke="#000" stroke-width="1.1" />
<line x1="545.4" y1="14.3" x2="545.4" y2="17.3" stroke="#000" stroke-width="1.1" />
<line x1="574.6" y1="188.2" x2="574.6" y2="185.2" stroke="#000" stroke-width="1.1" />
<line x1="574.6" y1="14.3" x2="574.6" y2="17.3" stroke="#000" stroke-width="1.1" />
<line x1="603.8" y1="188.2" x2="603.8" y2="185.2" stroke="#000" stroke-width="1.1" />
<line x1="603.8" y1="14.3" x2="603.8" y2="17.3" stroke="#000" stroke-width="1.1" />
<line x1="633" y1="188.2" x2="633" y2="185.2" stroke="#000" stroke-width="1.1" />
<line x1="633" y1="14.3" x2="633" y2="17.3" stroke="#000" stroke-width="1.1" />
<line x1="414.5" y1="185.7" x2="419.3" y2="185.7" stroke="#000" stroke-width="1.2" />
<line x1="414.5" y1="159.7" x2="419.3" y2="159.7" stroke="#000" stroke-width="1.2" />
<line x1="414.5" y1="133.7" x2="419.3" y2="133.7" stroke="#000" stroke-width="1.2" />
<line x1="414.5" y1="107.7" x2="419.3" y2="107.7" stroke="#000" stroke-width="1.2" />
<line x1="414.5" y1="81.7" x2="419.3" y2="81.7" stroke="#000" stroke-width="1.2" />
<line x1="414.5" y1="55.7" x2="419.3" y2="55.7" stroke="#000" stroke-width="1.2" />
<line x1="414.5" y1="29.7" x2="419.3" y2="29.7" stroke="#000" stroke-width="1.2" />
<line x1="414.5" y1="172.7" x2="417.4" y2="172.7" stroke="#000" stroke-width="1.1" />
<line x1="414.5" y1="146.7" x2="417.4" y2="146.7" stroke="#000" stroke-width="1.1" />
<line x1="414.5" y1="120.7" x2="417.4" y2="120.7" stroke="#000" stroke-width="1.1" />
<line x1="414.5" y1="94.7" x2="417.4" y2="94.7" stroke="#000" stroke-width="1.1" />
<line x1="414.5" y1="68.7" x2="417.4" y2="68.7" stroke="#000" stroke-width="1.1" />
<line x1="414.5" y1="42.7" x2="417.4" y2="42.7" stroke="#000" stroke-width="1.1" />
<line x1="414.5" y1="16.7" x2="417.4" y2="16.7" stroke="#000" stroke-width="1.1" />
<line x1="647.5" y1="184" x2="643.7" y2="184" stroke="#000" stroke-width="1.2" />
<line x1="647.5" y1="164.05" x2="643.7" y2="164.05" stroke="#000" stroke-width="1.2" />
<line x1="647.5" y1="144.1" x2="643.7" y2="144.1" stroke="#000" stroke-width="1.2" />
<line x1="647.5" y1="124.15" x2="643.7" y2="124.15" stroke="#000" stroke-width="1.2" />
<line x1="647.5" y1="104.2" x2="643.7" y2="104.2" stroke="#000" stroke-width="1.2" />
<line x1="647.5" y1="84.25" x2="643.7" y2="84.25" stroke="#000" stroke-width="1.2" />
<line x1="647.5" y1="64.3" x2="643.7" y2="64.3" stroke="#000" stroke-width="1.2" />
<line x1="647.5" y1="44.35" x2="643.7" y2="44.35" stroke="#000" stroke-width="1.2" />
<line x1="647.5" y1="24.4" x2="643.7" y2="24.4" stroke="#000" stroke-width="1.2" />
<line x1="647.5" y1="174.03" x2="645.1" y2="174.03" stroke="#000" stroke-width="1.1" />
<line x1="647.5" y1="154.07" x2="645.1" y2="154.07" stroke="#000" stroke-width="1.1" />
<line x1="647.5" y1="134.12" x2="645.1" y2="134.12" stroke="#000" stroke-width="1.1" />
<line x1="647.5" y1="114.17" x2="645.1" y2="114.17" stroke="#000" stroke-width="1.1" />
<line x1="647.5" y1="94.23" x2="645.1" y2="94.23" stroke="#000" stroke-width="1.1" />
<line x1="647.5" y1="74.28" x2="645.1" y2="74.28" stroke="#000" stroke-width="1.1" />
<line x1="647.5" y1="54.33" x2="645.1" y2="54.33" stroke="#000" stroke-width="1.1" />
<line x1="647.5" y1="34.38" x2="645.1" y2="34.38" stroke="#000" stroke-width="1.1" />
<line x1="647.5" y1="14.43" x2="645.1" y2="14.43" stroke="#000" stroke-width="1.1" />
<rect x="414.5" y="183" width="8" height="5" fill="#000" stroke="none" stroke-width="1" />
<path d="M421.8,184.5 C422.77,181.95 425.72,174.18 427.6,169.2 C429.48,164.22 431.22,159.47 433.1,154.6 C434.98,149.73 436.03,146.6 438.9,140 C441.77,133.4 446.95,122.08 450.3,115 C453.65,107.92 456.23,103.33 459,97.5 C461.77,91.67 464.23,85.62 466.9,80 C469.57,74.38 472.7,67.97 475,63.8 C477.3,59.63 478.58,57.92 480.7,55 C482.82,52.08 485.15,49.22 487.7,46.3 C490.25,43.38 492.7,40.17 496,37.5 C499.3,34.83 504.12,32.08 507.5,30.3 C510.88,28.52 513.38,27.72 516.3,26.8 C519.22,25.88 522.45,25.1 525,24.8 C527.55,24.5 530.5,24.97 531.6,25" stroke="#000" fill="none" stroke-width="5.2" stroke-linecap="round"/>
<path d="M421.2,184.5 C422.17,181.95 425.12,174.18 427,169.2 C428.88,164.22 430.62,159.47 432.5,154.6 C434.38,149.73 435.43,146.6 438.3,140 C441.17,133.4 446.35,122.08 449.7,115 C453.05,107.92 455.63,103.33 458.4,97.5 C461.17,91.67 463.63,85.62 466.3,80 C468.97,74.38 472.1,67.97 474.4,63.8 C476.7,59.63 477.98,57.92 480.1,55 C482.22,52.08 484.55,49.22 487.1,46.3 C489.65,43.38 492.1,40.17 495.4,37.5 C498.7,34.83 503.52,32.08 506.9,30.3 C510.28,28.52 512.78,27.72 515.7,26.8 C518.62,25.88 521.85,25.1 524.4,24.8 C526.95,24.5 529.9,24.97 531,25" stroke="#fff" fill="none" stroke-width="0.9" stroke-dasharray="0.8 2.2" opacity="0.85"/>
<path d="M418,185.6 C418.58,185.6 420.5,188.47 421.5,185.6 C422.5,182.73 422.67,173.7 424,168.4 C425.33,163.1 427.62,158.67 429.5,153.8 C431.38,148.93 432.43,145.8 435.3,139.2 C438.17,132.6 443.35,121.28 446.7,114.2 C450.05,107.12 452.5,102.5 455.4,96.7 C458.3,90.9 461.16,84.95 464.1,79.4 C467.04,73.85 470.54,67.53 473.06,63.42 C475.59,59.3 476.96,57.61 479.23,54.73 C481.51,51.86 483.99,49.03 486.7,46.15 C489.4,43.27 492.07,40.11 495.47,37.47 C498.87,34.83 503.69,32.08 507.1,30.3 C510.51,28.52 512.98,27.72 515.9,26.8 C518.82,25.88 522.05,25.1 524.6,24.8 C527.15,24.5 530.1,24.97 531.2,25" stroke="#e8852a" fill="none" stroke-width="1.5" />
<path d="M531.5,24.7 C536.25,24.95 550.25,25.68 560,26.2 C569.75,26.72 580.83,27.28 590,27.8 C599.17,28.32 606.5,28.77 615,29.3 C623.5,29.83 636.67,30.72 641,31" stroke="#3d8c3d" fill="none" stroke-width="1.4" />
<path d="M531.5,24.7 C533.75,24.92 540.25,25.25 545,26 C549.75,26.75 555.32,27.78 560,29.2 C564.68,30.62 568.72,32.42 573.1,34.5 C577.48,36.58 581.92,38.87 586.3,41.7 C590.68,44.53 595.02,47.88 599.4,51.5 C603.78,55.12 608.65,59.45 612.6,63.4 C616.55,67.35 619.82,71.05 623.1,75.2 C626.38,79.35 629.35,83.48 632.3,88.3 C635.25,93.12 639.38,101.47 640.8,104.1" stroke="#e8452e" fill="none" stroke-width="1.4" />
<path d="M531.4,183 C533.37,182.68 538.18,182.02 543.2,181.1 C548.22,180.18 555.42,179.02 561.5,177.5 C567.58,175.98 573.62,174.13 579.7,172 C585.78,169.87 591.92,167.43 598,164.7 C604.08,161.97 610.73,158.48 616.2,155.6 C621.67,152.72 626.68,149.83 630.8,147.4 C634.92,144.97 639.22,142.07 640.9,141" stroke="#4a5cb8" fill="none" stroke-width="1.4" />
<text x="626" y="43" fill="#3d8c3d" style="font-family:'Liberation Sans', sans-serif;font-size:12px;font-weight:bold">ε<tspan font-size="8" dy="3">r</tspan></text>
<text x="626" y="76" fill="#e8452e" style="font-family:'Liberation Sans', sans-serif;font-size:12px;font-weight:bold">ε<tspan font-size="8" dy="3">t</tspan></text>
<text x="626" y="136" fill="#4a5cb8" style="font-family:'Liberation Sans', sans-serif;font-size:12px;font-weight:bold">ε<tspan font-size="8" dy="3">z</tspan></text>
<rect x="421.5" y="25.5" width="53" height="25.5" fill="#000" stroke="none" stroke-width="1" />
<rect x="419.3" y="22.8" width="52.5" height="25.4" fill="#fff" stroke="#999" stroke-width="0.8" />
<line x1="422" y1="29.8" x2="442" y2="29.8" stroke="#888" stroke-width="0.8" />
<circle cx="431.5" cy="29.8" r="2.6" fill="#000" stroke="none" stroke-width="1" />
<circle cx="430.7" cy="29" r="0.9" fill="#fff" stroke="none" stroke-width="1" />
<line x1="422" y1="41.2" x2="442" y2="41.2" stroke="#e8852a" stroke-width="1.5" />
<text x="444.5" y="33.5" fill="#111" text-anchor="start" style="font-family:'Liberation Sans', sans-serif;font-size:10px;" >AFM</text>
<text x="444.5" y="45.5" fill="#111" textLength="24.5" lengthAdjust="spacingAndGlyphs" style="font-family:'Liberation Sans', sans-serif;font-size:10px">Simul.</text>
<polygon points="443.1,148.5 490.3,122 602,133 554.8,159.3" stroke="none" fill="#2a0606" stroke-width="1" />
<ellipse cx="447" cy="146" rx="3.2" ry="1.6" fill="#a01818" stroke="none" stroke-width="1" />
<ellipse cx="452" cy="143" rx="4" ry="2" fill="#a01818" stroke="none" stroke-width="1" />
<ellipse cx="560" cy="153" rx="3.2" ry="1.6" fill="#a01818" stroke="none" stroke-width="1" />
<ellipse cx="575" cy="150" rx="4" ry="2" fill="#a01818" stroke="none" stroke-width="1" />
<ellipse cx="590" cy="140" rx="3.2" ry="1.6" fill="#a01818" stroke="none" stroke-width="1" />
<ellipse cx="585" cy="136" rx="2.56" ry="1.28" fill="#a01818" stroke="none" stroke-width="1" />
<ellipse cx="530" cy="155" rx="2.88" ry="1.44" fill="#a01818" stroke="none" stroke-width="1" />
<ellipse cx="505" cy="152" rx="3.2" ry="1.6" fill="#a01818" stroke="none" stroke-width="1" />
<polygon points="445,149 448,140 451,148" stroke="none" fill="#c02020" stroke-width="1" />
<path d="M467.7,149 C467.78,148.53 467.45,148.42 468.2,146.2 C468.95,143.98 469.98,139.77 472.2,135.7 C474.42,131.63 479.22,125.33 481.5,121.8 C483.78,118.27 484.25,116.93 485.9,114.5 C487.55,112.07 489.57,109.63 491.4,107.2 C493.23,104.77 494.6,102.33 496.9,99.9 C499.2,97.47 502.82,94.5 505.2,92.6 C507.58,90.7 509.49,89.47 511.2,88.5 C512.91,87.53 513.28,87.33 515.45,86.8 C517.62,86.27 521.28,85.3 524.2,85.3 C527.12,85.3 530.78,86.27 532.95,86.8 C535.12,87.33 535.49,87.53 537.2,88.5 C538.91,89.47 540.82,90.7 543.2,92.6 C545.58,94.5 549.2,97.47 551.5,99.9 C553.8,102.33 555.17,104.77 557,107.2 C558.83,109.63 560.85,112.07 562.5,114.5 C564.15,116.93 564.62,118.27 566.9,121.8 C569.18,125.33 573.98,131.63 576.2,135.7 C578.42,139.77 579.45,143.98 580.2,146.2 C580.95,148.42 580.62,148.53 580.7,149 C568,156 480,156 467.7,149 Z" stroke="none" fill="url(#rainbow)" stroke-width="1" />
<polyline points="443.1,150 554.8,161 602,135" stroke="#fff" fill="none" stroke-width="1.2" />
<polyline points="443.1,151.5 554.8,162.5 602,136.5" stroke="#333" fill="none" stroke-width="0.9" />
<line x1="602" y1="79" x2="602" y2="136" stroke="#555" stroke-width="0.9" />
<text x="585" y="80" fill="#222" text-anchor="start" style="font-family:'Liberation Sans', sans-serif;font-size:10px;" >620 nm</text>
<text x="479" y="167" fill="#222" text-anchor="start" style="font-family:'Liberation Sans', sans-serif;font-size:10.5px;" >8.5 µm</text>
<text transform="translate(576.5,164) rotate(-30)" style="font-family:'Liberation Sans', sans-serif;font-size:10.5px" fill="#222">8.6 µm</text>
<line x1="555.6" y1="104.2" x2="571.9" y2="91" stroke="#3a5cc8" stroke-width="1.4" />
<polygon points="571.9,91 569.98,95.07 567.52,92.03" stroke="none" fill="#3a5cc8" stroke-width="1" />
<line x1="555.6" y1="104.2" x2="537.7" y2="109.4" stroke="#e8303a" stroke-width="1.4" />
<polygon points="537.7,109.4 541.05,106.39 542.14,110.15" stroke="none" fill="#e8303a" stroke-width="1" />
<line x1="555.6" y1="104.2" x2="569.3" y2="118.6" stroke="#2a6a2a" stroke-width="1.4" />
<polygon points="569.3,118.6 565.09,117.01 567.93,114.32" stroke="none" fill="#2a6a2a" stroke-width="1" />
<circle cx="555.6" cy="104.2" r="2.2" fill="#fff" stroke="#000" stroke-width="1.1" />
<text x="553.5" y="92" fill="#3a5cc8" style="font-family:'Liberation Sans', sans-serif;font-size:11px;font-weight:bold">ε<tspan font-size="7" dy="2">z</tspan></text>
<text x="541" y="121" fill="#e8303a" style="font-family:'Liberation Sans', sans-serif;font-size:11px;font-weight:bold">ε<tspan font-size="7" dy="2">t</tspan></text>
<text x="571" y="113" fill="#2a6a2a" style="font-family:'Liberation Sans', sans-serif;font-size:11px;font-weight:bold">ε<tspan font-size="7" dy="2">r</tspan></text>
<rect x="414.5" y="14.3" width="233" height="173.9" fill="none" stroke="#000" stroke-width="1.5" />
<text x="410.4" y="189.1" fill="#111" text-anchor="end" style="font-family:'Liberation Sans', sans-serif;font-size:9.8px;" >0</text>
<text x="410.4" y="163.1" fill="#111" text-anchor="end" style="font-family:'Liberation Sans', sans-serif;font-size:9.8px;" >100</text>
<text x="410.4" y="137.1" fill="#111" text-anchor="end" style="font-family:'Liberation Sans', sans-serif;font-size:9.8px;" >200</text>
<text x="410.4" y="111.1" fill="#111" text-anchor="end" style="font-family:'Liberation Sans', sans-serif;font-size:9.8px;" >300</text>
<text x="410.4" y="85.1" fill="#111" text-anchor="end" style="font-family:'Liberation Sans', sans-serif;font-size:9.8px;" >400</text>
<text x="410.4" y="59.1" fill="#111" text-anchor="end" style="font-family:'Liberation Sans', sans-serif;font-size:9.8px;" >500</text>
<text x="410.4" y="33.1" fill="#111" text-anchor="end" style="font-family:'Liberation Sans', sans-serif;font-size:9.8px;" >600</text>
<text x="651.3" y="187.3" fill="#111" text-anchor="start" style="font-family:'Liberation Sans', sans-serif;font-size:9.3px;" >-2.0</text>
<text x="651.3" y="167.35" fill="#111" text-anchor="start" style="font-family:'Liberation Sans', sans-serif;font-size:9.3px;" >-1.5</text>
<text x="651.3" y="147.4" fill="#111" text-anchor="start" style="font-family:'Liberation Sans', sans-serif;font-size:9.3px;" >-1.0</text>
<text x="651.3" y="127.45" fill="#111" text-anchor="start" style="font-family:'Liberation Sans', sans-serif;font-size:9.3px;" >-0.5</text>
<text x="651.3" y="107.5" fill="#111" text-anchor="start" style="font-family:'Liberation Sans', sans-serif;font-size:9.3px;" >0.0</text>
<text x="651.3" y="87.55" fill="#111" text-anchor="start" style="font-family:'Liberation Sans', sans-serif;font-size:9.3px;" >0.5</text>
<text x="651.3" y="67.6" fill="#111" text-anchor="start" style="font-family:'Liberation Sans', sans-serif;font-size:9.3px;" >1.0</text>
<text x="651.3" y="47.65" fill="#111" text-anchor="start" style="font-family:'Liberation Sans', sans-serif;font-size:9.3px;" >1.5</text>
<text x="651.3" y="27.7" fill="#111" text-anchor="start" style="font-family:'Liberation Sans', sans-serif;font-size:9.3px;" >2.0</text>
<text x="414" y="201" fill="#111" text-anchor="middle" style="font-family:'Liberation Sans', sans-serif;font-size:10px;" >-4</text>
<text x="443.2" y="201" fill="#111" text-anchor="middle" style="font-family:'Liberation Sans', sans-serif;font-size:10px;" >-3</text>
<text x="472.4" y="201" fill="#111" text-anchor="middle" style="font-family:'Liberation Sans', sans-serif;font-size:10px;" >-2</text>
<text x="501.6" y="201" fill="#111" text-anchor="middle" style="font-family:'Liberation Sans', sans-serif;font-size:10px;" >-1</text>
<text x="530.8" y="201" fill="#111" text-anchor="middle" style="font-family:'Liberation Sans', sans-serif;font-size:10px;" >0</text>
<text x="560" y="201" fill="#111" text-anchor="middle" style="font-family:'Liberation Sans', sans-serif;font-size:10px;" >1</text>
<text x="589.2" y="201" fill="#111" text-anchor="middle" style="font-family:'Liberation Sans', sans-serif;font-size:10px;" >2</text>
<text x="618.4" y="201" fill="#111" text-anchor="middle" style="font-family:'Liberation Sans', sans-serif;font-size:10px;" >3</text>
<text x="647.6" y="201" fill="#111" text-anchor="middle" style="font-family:'Liberation Sans', sans-serif;font-size:10px;" >4</text>
<text x="500.5" y="226.5" fill="#111" text-anchor="start" style="font-family:'Liberation Sans', sans-serif;font-size:18.3px;" ><tspan font-style="italic">r</tspan> (µm)</text>
<text transform="translate(380.1,130.2) rotate(-90)" style="font-family:'Liberation Sans', sans-serif;font-size:18.5px;" fill="#111"><tspan font-style="italic">h</tspan> (nm)</text>
<text transform="translate(680.9,132.6) rotate(-90)" style="font-family:'Liberation Sans', sans-serif;font-size:11px;" fill="#111">Strain (%)</text>
<text x="22.5" y="247.5" fill="#000" text-anchor="start" style="font-family:'Liberation Sans', sans-serif;font-size:25px;" >c)</text>
<rect x="66.4" y="282.3" width="207.2" height="71.1" fill="#f5efb3" stroke="none" stroke-width="1" />
<polygon points="232.4,353.4 232.4,340 262,318 270,300 275.3,290 275.3,414.6 232.4,414.6" stroke="none" fill="#f0e28a" stroke-width="1" />
<polygon points="66.4,403.5 100,403 140,401.6 155.3,399.2 183.8,374.7 210,350 222.1,328.7 230.9,325.4 253.9,305.7 271.4,283.8 282.3,257.5 284,250 284,262 283.4,266.3 275.8,292.6 267,312.3 249.5,342.9 234.2,352.8 210,369.2 186,393.3 157.5,407.5 140,408.5 100,409 66.4,409" stroke="#333" fill="#c8c8c8" stroke-width="0.8" />
<polyline points="71.4,407.2 99.9,406.6 113.9,406.2 124,405.8 132.7,405.1 139.3,404.2 150.2,402.5 158.6,400.3 183.8,384.5 198.7,369.2 210,357.1 221,345.8 232.6,338.5 243.4,332 251.7,323.9 255.6,318.8 260.4,312.7 265.2,306.1 268.8,298 272.3,291.5 275.3,282 278.4,273.9 280.1,268.5 281.9,263 282.8,256.4" stroke="#222" fill="none" stroke-width="0.8" stroke-dasharray="3 2"/>
<circle cx="71.4" cy="407.2" r="3.4" fill="#000" stroke="none" stroke-width="1" />
<circle cx="99.9" cy="406.6" r="3.4" fill="#000" stroke="none" stroke-width="1" />
<circle cx="113.9" cy="406.2" r="3.4" fill="#000" stroke="none" stroke-width="1" />
<circle cx="124" cy="405.8" r="3.4" fill="#000" stroke="none" stroke-width="1" />
<circle cx="132.7" cy="405.1" r="3.4" fill="#000" stroke="none" stroke-width="1" />
<circle cx="139.3" cy="404.2" r="3.4" fill="#000" stroke="none" stroke-width="1" />
<circle cx="150.2" cy="402.5" r="3.4" fill="#000" stroke="none" stroke-width="1" />
<circle cx="158.6" cy="400.3" r="3.4" fill="#000" stroke="none" stroke-width="1" />
<circle cx="183.8" cy="384.5" r="3.4" fill="#000" stroke="none" stroke-width="1" />
<circle cx="198.7" cy="369.2" r="3.4" fill="#000" stroke="none" stroke-width="1" />
<circle cx="210" cy="357.1" r="3.4" fill="#000" stroke="none" stroke-width="1" />
<circle cx="221" cy="345.8" r="3.4" fill="#000" stroke="none" stroke-width="1" />
<circle cx="232.6" cy="338.5" r="3.4" fill="#000" stroke="none" stroke-width="1" />
<circle cx="243.4" cy="332" r="3.4" fill="#000" stroke="none" stroke-width="1" />
<circle cx="251.7" cy="323.9" r="3.4" fill="#000" stroke="none" stroke-width="1" />
<circle cx="255.6" cy="318.8" r="3.4" fill="#000" stroke="none" stroke-width="1" />
<circle cx="260.4" cy="312.7" r="3.4" fill="#000" stroke="none" stroke-width="1" />
<circle cx="265.2" cy="306.1" r="3.4" fill="#000" stroke="none" stroke-width="1" />
<circle cx="268.8" cy="298" r="3.4" fill="#000" stroke="none" stroke-width="1" />
<circle cx="272.3" cy="291.5" r="3.4" fill="#000" stroke="none" stroke-width="1" />
<circle cx="275.3" cy="282" r="3.4" fill="#000" stroke="none" stroke-width="1" />
<circle cx="278.4" cy="273.9" r="3.4" fill="#000" stroke="none" stroke-width="1" />
<circle cx="280.1" cy="268.5" r="3.4" fill="#000" stroke="none" stroke-width="1" />
<circle cx="281.9" cy="263" r="3.4" fill="#000" stroke="none" stroke-width="1" />
<circle cx="282.8" cy="256.4" r="3.4" fill="#000" stroke="none" stroke-width="1" />
<line x1="74.3" y1="415.3" x2="74.3" y2="405.3" stroke="#000" stroke-width="1.4" />
<line x1="74.3" y1="250" x2="74.3" y2="260" stroke="#000" stroke-width="1.4" />
<line x1="158.6" y1="415.3" x2="158.6" y2="405.3" stroke="#000" stroke-width="1.4" />
<line x1="158.6" y1="250" x2="158.6" y2="260" stroke="#000" stroke-width="1.4" />
<line x1="242.9" y1="415.3" x2="242.9" y2="405.3" stroke="#000" stroke-width="1.4" />
<line x1="242.9" y1="250" x2="242.9" y2="260" stroke="#000" stroke-width="1.4" />
<line x1="66.13" y1="415.3" x2="66.13" y2="409.8" stroke="#000" stroke-width="1.2" />
<line x1="66.13" y1="250" x2="66.13" y2="255.5" stroke="#000" stroke-width="1.2" />
<line x1="70.44" y1="415.3" x2="70.44" y2="409.8" stroke="#000" stroke-width="1.2" />
<line x1="70.44" y1="250" x2="70.44" y2="255.5" stroke="#000" stroke-width="1.2" />
<line x1="99.68" y1="415.3" x2="99.68" y2="409.8" stroke="#000" stroke-width="1.2" />
<line x1="99.68" y1="250" x2="99.68" y2="255.5" stroke="#000" stroke-width="1.2" />
<line x1="114.52" y1="415.3" x2="114.52" y2="409.8" stroke="#000" stroke-width="1.2" />
<line x1="114.52" y1="250" x2="114.52" y2="255.5" stroke="#000" stroke-width="1.2" />
<line x1="125.05" y1="415.3" x2="125.05" y2="409.8" stroke="#000" stroke-width="1.2" />
<line x1="125.05" y1="250" x2="125.05" y2="255.5" stroke="#000" stroke-width="1.2" />
<line x1="133.22" y1="415.3" x2="133.22" y2="409.8" stroke="#000" stroke-width="1.2" />
<line x1="133.22" y1="250" x2="133.22" y2="255.5" stroke="#000" stroke-width="1.2" />
<line x1="139.9" y1="415.3" x2="139.9" y2="409.8" stroke="#000" stroke-width="1.2" />
<line x1="139.9" y1="250" x2="139.9" y2="255.5" stroke="#000" stroke-width="1.2" />
<line x1="145.54" y1="415.3" x2="145.54" y2="409.8" stroke="#000" stroke-width="1.2" />
<line x1="145.54" y1="250" x2="145.54" y2="255.5" stroke="#000" stroke-width="1.2" />
<line x1="150.43" y1="415.3" x2="150.43" y2="409.8" stroke="#000" stroke-width="1.2" />
<line x1="150.43" y1="250" x2="150.43" y2="255.5" stroke="#000" stroke-width="1.2" />
<line x1="154.74" y1="415.3" x2="154.74" y2="409.8" stroke="#000" stroke-width="1.2" />
<line x1="154.74" y1="250" x2="154.74" y2="255.5" stroke="#000" stroke-width="1.2" />
<line x1="183.98" y1="415.3" x2="183.98" y2="409.8" stroke="#000" stroke-width="1.2" />
<line x1="183.98" y1="250" x2="183.98" y2="255.5" stroke="#000" stroke-width="1.2" />
<line x1="198.82" y1="415.3" x2="198.82" y2="409.8" stroke="#000" stroke-width="1.2" />
<line x1="198.82" y1="250" x2="198.82" y2="255.5" stroke="#000" stroke-width="1.2" />
<line x1="209.35" y1="415.3" x2="209.35" y2="409.8" stroke="#000" stroke-width="1.2" />
<line x1="209.35" y1="250" x2="209.35" y2="255.5" stroke="#000" stroke-width="1.2" />
<line x1="217.52" y1="415.3" x2="217.52" y2="409.8" stroke="#000" stroke-width="1.2" />
<line x1="217.52" y1="250" x2="217.52" y2="255.5" stroke="#000" stroke-width="1.2" />
<line x1="224.2" y1="415.3" x2="224.2" y2="409.8" stroke="#000" stroke-width="1.2" />
<line x1="224.2" y1="250" x2="224.2" y2="255.5" stroke="#000" stroke-width="1.2" />
<line x1="229.84" y1="415.3" x2="229.84" y2="409.8" stroke="#000" stroke-width="1.2" />
<line x1="229.84" y1="250" x2="229.84" y2="255.5" stroke="#000" stroke-width="1.2" />
<line x1="234.73" y1="415.3" x2="234.73" y2="409.8" stroke="#000" stroke-width="1.2" />
<line x1="234.73" y1="250" x2="234.73" y2="255.5" stroke="#000" stroke-width="1.2" />
<line x1="239.04" y1="415.3" x2="239.04" y2="409.8" stroke="#000" stroke-width="1.2" />
<line x1="239.04" y1="250" x2="239.04" y2="255.5" stroke="#000" stroke-width="1.2" />
<line x1="268.28" y1="415.3" x2="268.28" y2="409.8" stroke="#000" stroke-width="1.2" />
<line x1="268.28" y1="250" x2="268.28" y2="255.5" stroke="#000" stroke-width="1.2" />
<line x1="283.12" y1="415.3" x2="283.12" y2="409.8" stroke="#000" stroke-width="1.2" />
<line x1="283.12" y1="250" x2="283.12" y2="255.5" stroke="#000" stroke-width="1.2" />
<line x1="65.7" y1="406.4" x2="73" y2="406.4" stroke="#000" stroke-width="1.3" />
<line x1="284.5" y1="406.4" x2="277.2" y2="406.4" stroke="#000" stroke-width="1.3" />
<line x1="65.7" y1="361.7" x2="73" y2="361.7" stroke="#000" stroke-width="1.3" />
<line x1="284.5" y1="361.7" x2="277.2" y2="361.7" stroke="#000" stroke-width="1.3" />
<line x1="65.7" y1="317" x2="73" y2="317" stroke="#000" stroke-width="1.3" />
<line x1="284.5" y1="317" x2="277.2" y2="317" stroke="#000" stroke-width="1.3" />
<line x1="65.7" y1="272.3" x2="73" y2="272.3" stroke="#000" stroke-width="1.3" />
<line x1="284.5" y1="272.3" x2="277.2" y2="272.3" stroke="#000" stroke-width="1.3" />
<line x1="65.7" y1="384.05" x2="69.7" y2="384.05" stroke="#000" stroke-width="1.2" />
<line x1="284.5" y1="384.05" x2="280.5" y2="384.05" stroke="#000" stroke-width="1.2" />
<line x1="65.7" y1="339.35" x2="69.7" y2="339.35" stroke="#000" stroke-width="1.2" />
<line x1="284.5" y1="339.35" x2="280.5" y2="339.35" stroke="#000" stroke-width="1.2" />
<line x1="65.7" y1="294.65" x2="69.7" y2="294.65" stroke="#000" stroke-width="1.2" />
<line x1="284.5" y1="294.65" x2="280.5" y2="294.65" stroke="#000" stroke-width="1.2" />
<rect x="65.7" y="250" width="218.8" height="165.3" fill="none" stroke="#000" stroke-width="1.5" />
<text x="61.5" y="412.4" fill="#111" text-anchor="end" style="font-family:'Liberation Sans', sans-serif;font-size:17px;" >2.0</text>
<text x="61.5" y="367.7" fill="#111" text-anchor="end" style="font-family:'Liberation Sans', sans-serif;font-size:17px;" >2.1</text>
<text x="61.5" y="323" fill="#111" text-anchor="end" style="font-family:'Liberation Sans', sans-serif;font-size:17px;" >2.2</text>
<text x="61.5" y="278.3" fill="#111" text-anchor="end" style="font-family:'Liberation Sans', sans-serif;font-size:17px;" >2.3</text>
<text x="74.3" y="434" fill="#111" text-anchor="middle" style="font-family:'Liberation Sans', sans-serif;font-size:17.5px;" >0.001</text>
<text x="158.6" y="434" fill="#111" text-anchor="middle" style="font-family:'Liberation Sans', sans-serif;font-size:17.5px;" >0.010</text>
<text x="242.9" y="434" fill="#111" text-anchor="middle" style="font-family:'Liberation Sans', sans-serif;font-size:17.5px;" >0.100</text>
<text x="153" y="462" style="font-family:'Liberation Sans', sans-serif;font-size:19px;" fill="#111"><tspan font-style="italic">h</tspan><tspan font-style="italic" font-size="13" dy="3.5">m</tspan><tspan dy="-3.5" font-style="italic">/R</tspan></text>
<text transform="translate(30.5,344.5) rotate(-90)" style="font-family:'Liberation Sans', sans-serif;font-size:20px;font-style:italic" fill="#111">q</text>
<text x="303" y="247.5" fill="#000" text-anchor="start" style="font-family:'Liberation Sans', sans-serif;font-size:25px;" >d)</text>
<polygon points="368.2,291.9 427.5,269.4 490.8,288.8 431.5,311.3" stroke="none" fill="#d9c6a3" stroke-width="1" />
<path d="M392.7,291 C393.17,289.33 394.12,284.5 395.5,281 C396.88,277.5 398.75,273.25 401,270 C403.25,266.75 406.17,263.83 409,261.5 C411.83,259.17 414.93,257.17 418,256 C421.07,254.83 424.23,254.5 427.4,254.5 C430.57,254.5 433.9,254.83 437,256 C440.1,257.17 443.17,259.25 446,261.5 C448.83,263.75 451.67,266.58 454,269.5 C456.33,272.42 458.13,275.58 460,279 C461.87,282.42 464.33,288.17 465.2,290 C458,297 445,301 430,301 C414,301 398,297 392.7,291 Z" stroke="none" fill="url(#beigeL)" stroke-width="1" />
<ellipse cx="396" cy="292" rx="5" ry="2.5" fill="#5a5040" stroke="none" stroke-width="1" opacity="0.35"/>
<ellipse cx="403" cy="296" rx="6" ry="2.5" fill="#5a5040" stroke="none" stroke-width="1" opacity="0.35"/>
<ellipse cx="412" cy="298.5" rx="7" ry="2" fill="#5a5040" stroke="none" stroke-width="1" opacity="0.35"/>
<ellipse cx="424" cy="300" rx="7" ry="1.8" fill="#5a5040" stroke="none" stroke-width="1" opacity="0.35"/>
<ellipse cx="437" cy="300" rx="7" ry="1.8" fill="#5a5040" stroke="none" stroke-width="1" opacity="0.35"/>
<ellipse cx="449" cy="298" rx="6" ry="1.8" fill="#5a5040" stroke="none" stroke-width="1" opacity="0.35"/>
<ellipse cx="459" cy="294" rx="5" ry="2" fill="#5a5040" stroke="none" stroke-width="1" opacity="0.35"/>
<polygon points="525.2,291.9 584.5,269.4 647.8,288.8 588.5,311.3" stroke="none" fill="#d9c6a3" stroke-width="1" />
<path d="M549.7,291 C550.17,289.33 551.12,284.5 552.5,281 C553.88,277.5 555.75,273.25 558,270 C560.25,266.75 563.17,263.83 566,261.5 C568.83,259.17 571.93,257.17 575,256 C578.07,254.83 581.23,254.5 584.4,254.5 C587.57,254.5 590.9,254.83 594,256 C597.1,257.17 600.17,259.25 603,261.5 C605.83,263.75 608.67,266.58 611,269.5 C613.33,272.42 615.13,275.58 617,279 C618.87,282.42 621.33,288.17 622.2,290 C615,297 602,301 587,301 C571,301 555,297 549.7,291 Z" stroke="none" fill="url(#beigeR)" stroke-width="1" />
<ellipse cx="553" cy="292" rx="5" ry="2.5" fill="#5a5040" stroke="none" stroke-width="1" opacity="0.35"/>
<ellipse cx="560" cy="296" rx="6" ry="2.5" fill="#5a5040" stroke="none" stroke-width="1" opacity="0.35"/>
<ellipse cx="569" cy="298.5" rx="7" ry="2" fill="#5a5040" stroke="none" stroke-width="1" opacity="0.35"/>
<ellipse cx="581" cy="300" rx="7" ry="1.8" fill="#5a5040" stroke="none" stroke-width="1" opacity="0.35"/>
<ellipse cx="594" cy="300" rx="7" ry="1.8" fill="#5a5040" stroke="none" stroke-width="1" opacity="0.35"/>
<ellipse cx="606" cy="298" rx="6" ry="1.8" fill="#5a5040" stroke="none" stroke-width="1" opacity="0.35"/>
<ellipse cx="616" cy="294" rx="5" ry="2" fill="#5a5040" stroke="none" stroke-width="1" opacity="0.35"/>
<path d="M443.5,261 C451,265 457,272 459,281" stroke="#000" fill="none" stroke-width="3.2" />
<polygon points="454,279 464,279 460.8,287" stroke="none" fill="#000" stroke-width="1" />
<path d="M606.5,265 C598,268 591,272 586,277" stroke="#000" fill="none" stroke-width="3.2" />
<polygon points="587.5,272.5 590.5,281 580.5,281.5" stroke="none" fill="#000" stroke-width="1" />
<text x="457.5" y="269.8" fill="#000" style="font-family:Liberation Serif;font-size:23.5px;font-style:italic;font-weight:bold">ε</text>
<text x="470.8" y="274" fill="#000" style="font-family:'Liberation Sans', sans-serif;font-size:13.5px;font-weight:bold">r</text>
<text x="610.5" y="272" fill="#000" style="font-family:Liberation Serif;font-size:23.5px;font-style:italic;font-weight:bold">ε</text>
<text x="622.5" y="278" fill="#000" style="font-family:Liberation Serif;font-size:16.5px;font-style:italic">θ</text>
<circle cx="390.69" cy="323.17" r="4.3" fill="#def3f3" stroke="#333" stroke-width="0.8" />
<circle cx="410.49" cy="322.42" r="4.3" fill="#def3f3" stroke="#333" stroke-width="0.8" />
<circle cx="448.86" cy="316.07" r="4.3" fill="#def3f3" stroke="#333" stroke-width="0.8" />
<circle cx="356.98" cy="328.34" r="4.3" fill="#def3f3" stroke="#333" stroke-width="0.8" />
<circle cx="393.9" cy="320.31" r="4.3" fill="#def3f3" stroke="#333" stroke-width="0.8" />
<circle cx="504.35" cy="318.5" r="4.3" fill="#def3f3" stroke="#333" stroke-width="0.8" />
<circle cx="480.47" cy="318.76" r="4.3" fill="#def3f3" stroke="#333" stroke-width="0.8" />
<circle cx="450.86" cy="316.72" r="4.3" fill="#def3f3" stroke="#333" stroke-width="0.8" />
<circle cx="450.23" cy="322.84" r="4.3" fill="#def3f3" stroke="#333" stroke-width="0.8" />
<circle cx="433.48" cy="322.42" r="4.3" fill="#def3f3" stroke="#333" stroke-width="0.8" />
<circle cx="455.71" cy="315.83" r="4.3" fill="#def3f3" stroke="#333" stroke-width="0.8" />
<circle cx="468.73" cy="319.96" r="4.3" fill="#def3f3" stroke="#333" stroke-width="0.8" />
<circle cx="400.19" cy="318.17" r="4.3" fill="#def3f3" stroke="#333" stroke-width="0.8" />
<circle cx="484.83" cy="318.67" r="4.3" fill="#def3f3" stroke="#333" stroke-width="0.8" />
<circle cx="462.82" cy="322.55" r="4.3" fill="#def3f3" stroke="#333" stroke-width="0.8" />
<circle cx="462.12" cy="322.93" r="4.3" fill="#def3f3" stroke="#333" stroke-width="0.8" />
<circle cx="414.24" cy="323.88" r="4.3" fill="#def3f3" stroke="#333" stroke-width="0.8" />
<circle cx="421.69" cy="324.63" r="4.3" fill="#def3f3" stroke="#333" stroke-width="0.8" />
<circle cx="486.83" cy="315.45" r="4.3" fill="#def3f3" stroke="#333" stroke-width="0.8" />
<circle cx="375.4" cy="321.52" r="4.3" fill="#def3f3" stroke="#333" stroke-width="0.8" />
<circle cx="499.82" cy="318.22" r="4.3" fill="#def3f3" stroke="#333" stroke-width="0.8" />
<circle cx="449" cy="318.06" r="4.3" fill="#def3f3" stroke="#333" stroke-width="0.8" />
<circle cx="431.09" cy="319.5" r="4.3" fill="#def3f3" stroke="#333" stroke-width="0.8" />
<circle cx="407.64" cy="322.42" r="4.3" fill="#def3f3" stroke="#333" stroke-width="0.8" />
<circle cx="442.64" cy="323.42" r="4.3" fill="#def3f3" stroke="#333" stroke-width="0.8" />
<circle cx="457.3" cy="323.13" r="4.3" fill="#def3f3" stroke="#333" stroke-width="0.8" />
<circle cx="483.46" cy="323.09" r="4.3" fill="#def3f3" stroke="#333" stroke-width="0.8" />
<circle cx="455.69" cy="316.67" r="4.3" fill="#def3f3" stroke="#333" stroke-width="0.8" />
<circle cx="484.1" cy="322.86" r="4.3" fill="#def3f3" stroke="#333" stroke-width="0.8" />
<circle cx="490.7" cy="319.42" r="4.3" fill="#def3f3" stroke="#333" stroke-width="0.8" />
<circle cx="462.07" cy="316.9" r="4.3" fill="#def3f3" stroke="#333" stroke-width="0.8" />
<circle cx="479.74" cy="319.6" r="4.3" fill="#def3f3" stroke="#333" stroke-width="0.8" />
<circle cx="397.74" cy="318.61" r="4.3" fill="#def3f3" stroke="#333" stroke-width="0.8" />
<circle cx="483.09" cy="323.08" r="4.3" fill="#def3f3" stroke="#333" stroke-width="0.8" />
<circle cx="368.28" cy="327.05" r="4.3" fill="#def3f3" stroke="#333" stroke-width="0.8" />
<circle cx="416.57" cy="318.22" r="4.3" fill="#def3f3" stroke="#333" stroke-width="0.8" />
<circle cx="399.08" cy="324.51" r="4.3" fill="#def3f3" stroke="#333" stroke-width="0.8" />
<circle cx="485.92" cy="315.01" r="4.3" fill="#def3f3" stroke="#333" stroke-width="0.8" />
<circle cx="447.18" cy="315.95" r="4.3" fill="#def3f3" stroke="#333" stroke-width="0.8" />
<circle cx="462.77" cy="317.9" r="4.3" fill="#def3f3" stroke="#333" stroke-width="0.8" />
<circle cx="487.14" cy="322.95" r="4.3" fill="#def3f3" stroke="#333" stroke-width="0.8" />
<circle cx="430.81" cy="324.72" r="4.3" fill="#def3f3" stroke="#333" stroke-width="0.8" />
<circle cx="401.45" cy="318.48" r="4.3" fill="#def3f3" stroke="#333" stroke-width="0.8" />
<circle cx="444.96" cy="315.92" r="4.3" fill="#def3f3" stroke="#333" stroke-width="0.8" />
<circle cx="384.61" cy="322.44" r="4.3" fill="#def3f3" stroke="#333" stroke-width="0.8" />
<circle cx="446.57" cy="316.92" r="4.3" fill="#def3f3" stroke="#333" stroke-width="0.8" />
<circle cx="361.37" cy="328.21" r="4.3" fill="#def3f3" stroke="#333" stroke-width="0.8" />
<circle cx="402.07" cy="325.94" r="4.3" fill="#def3f3" stroke="#333" stroke-width="0.8" />
<circle cx="489.5" cy="317.8" r="4.3" fill="#def3f3" stroke="#333" stroke-width="0.8" />
<circle cx="424.06" cy="320.98" r="4.3" fill="#def3f3" stroke="#333" stroke-width="0.8" />
<circle cx="451.58" cy="320.48" r="4.3" fill="#def3f3" stroke="#333" stroke-width="0.8" />
<circle cx="438.89" cy="321.16" r="4.3" fill="#def3f3" stroke="#333" stroke-width="0.8" />
<circle cx="496.09" cy="318.85" r="4.3" fill="#def3f3" stroke="#333" stroke-width="0.8" />
<circle cx="419.68" cy="322.9" r="4.3" fill="#def3f3" stroke="#333" stroke-width="0.8" />
<circle cx="390.65" cy="321.1" r="4.3" fill="#def3f3" stroke="#333" stroke-width="0.8" />
<circle cx="501.67" cy="318.94" r="4.3" fill="#def3f3" stroke="#333" stroke-width="0.8" />
<circle cx="437.26" cy="316.05" r="4.3" fill="#def3f3" stroke="#333" stroke-width="0.8" />
<circle cx="417.28" cy="321.83" r="4.3" fill="#def3f3" stroke="#333" stroke-width="0.8" />
<circle cx="358.01" cy="326.37" r="4.3" fill="#def3f3" stroke="#333" stroke-width="0.8" />
<circle cx="449.83" cy="315.99" r="4.3" fill="#def3f3" stroke="#333" stroke-width="0.8" />
<circle cx="542.11" cy="317.87" r="4.3" fill="#def3f3" stroke="#333" stroke-width="0.8" />
<circle cx="544.61" cy="317.41" r="4.3" fill="#def3f3" stroke="#333" stroke-width="0.8" />
<circle cx="545.93" cy="318.95" r="4.3" fill="#def3f3" stroke="#333" stroke-width="0.8" />
<circle cx="513.06" cy="316.24" r="4.3" fill="#def3f3" stroke="#333" stroke-width="0.8" />
<circle cx="544.45" cy="319.85" r="4.3" fill="#def3f3" stroke="#333" stroke-width="0.8" />
<circle cx="524.05" cy="317.83" r="4.3" fill="#def3f3" stroke="#333" stroke-width="0.8" />
<circle cx="540.45" cy="317.28" r="4.3" fill="#def3f3" stroke="#333" stroke-width="0.8" />
<circle cx="529.47" cy="317.25" r="4.3" fill="#def3f3" stroke="#333" stroke-width="0.8" />
<circle cx="529.72" cy="318.38" r="4.3" fill="#def3f3" stroke="#333" stroke-width="0.8" />
<circle cx="526.42" cy="317.51" r="4.3" fill="#def3f3" stroke="#333" stroke-width="0.8" />
<circle cx="549.07" cy="316.11" r="4.3" fill="#def3f3" stroke="#333" stroke-width="0.8" />
<circle cx="539.32" cy="318.94" r="4.3" fill="#def3f3" stroke="#333" stroke-width="0.8" />
<circle cx="502.5" cy="316.5" r="4.3" fill="#def3f3" stroke="#333" stroke-width="0.8" />
<circle cx="512.4" cy="316.3" r="4.3" fill="#def3f3" stroke="#333" stroke-width="0.8" />
<circle cx="521.1" cy="316.5" r="4.3" fill="#def3f3" stroke="#333" stroke-width="0.8" />
<circle cx="529.8" cy="317.2" r="4.3" fill="#def3f3" stroke="#333" stroke-width="0.8" />
<circle cx="537.2" cy="317.6" r="4.3" fill="#def3f3" stroke="#333" stroke-width="0.8" />
<circle cx="544.7" cy="318" r="4.3" fill="#def3f3" stroke="#333" stroke-width="0.8" />
<circle cx="552.1" cy="318.6" r="4.3" fill="#def3f3" stroke="#333" stroke-width="0.8" />
<circle cx="557" cy="319.9" r="4.3" fill="#def3f3" stroke="#333" stroke-width="0.8" />
<circle cx="564.5" cy="321" r="4.3" fill="#def3f3" stroke="#333" stroke-width="0.8" />
<circle cx="572" cy="321" r="4.3" fill="#def3f3" stroke="#333" stroke-width="0.8" />
<circle cx="578.2" cy="323.6" r="4.3" fill="#def3f3" stroke="#333" stroke-width="0.8" />
<circle cx="588.1" cy="324.8" r="4.3" fill="#def3f3" stroke="#333" stroke-width="0.8" />
<circle cx="594.3" cy="332.3" r="4.3" fill="#def3f3" stroke="#333" stroke-width="0.8" />
<circle cx="599.3" cy="332.3" r="4.3" fill="#def3f3" stroke="#333" stroke-width="0.8" />
<circle cx="593" cy="339.7" r="4.3" fill="#def3f3" stroke="#333" stroke-width="0.8" />
<circle cx="567" cy="329.8" r="4.3" fill="#def3f3" stroke="#333" stroke-width="0.8" />
<circle cx="599.3" cy="349.6" r="4.3" fill="#def3f3" stroke="#333" stroke-width="0.8" />
<circle cx="601.7" cy="353.3" r="4.3" fill="#def3f3" stroke="#333" stroke-width="0.8" />
<circle cx="606.7" cy="348.4" r="4.3" fill="#def3f3" stroke="#333" stroke-width="0.8" />
<circle cx="609.2" cy="358.3" r="4.3" fill="#def3f3" stroke="#333" stroke-width="0.8" />
<circle cx="615.4" cy="355.8" r="4.3" fill="#def3f3" stroke="#333" stroke-width="0.8" />
<circle cx="619.1" cy="364.5" r="4.3" fill="#def3f3" stroke="#333" stroke-width="0.8" />
<circle cx="621.6" cy="372" r="4.3" fill="#def3f3" stroke="#333" stroke-width="0.8" />
<circle cx="626.6" cy="373.2" r="4.3" fill="#def3f3" stroke="#333" stroke-width="0.8" />
<circle cx="630.3" cy="378.2" r="4.3" fill="#def3f3" stroke="#333" stroke-width="0.8" />
<circle cx="635.2" cy="381.9" r="4.3" fill="#def3f3" stroke="#333" stroke-width="0.8" />
<circle cx="640.2" cy="389.3" r="4.3" fill="#def3f3" stroke="#333" stroke-width="0.8" />
<circle cx="643.9" cy="395.5" r="4.3" fill="#def3f3" stroke="#333" stroke-width="0.8" />
<circle cx="648.9" cy="401.7" r="4.3" fill="#def3f3" stroke="#333" stroke-width="0.8" />
<circle cx="655.1" cy="410.4" r="4.3" fill="#def3f3" stroke="#333" stroke-width="0.8" />
<circle cx="660.8" cy="414.6" r="4.3" fill="#def3f3" stroke="#333" stroke-width="0.8" />
<circle cx="583" cy="330" r="4.3" fill="#def3f3" stroke="#333" stroke-width="0.8" />
<circle cx="574" cy="327" r="4.3" fill="#def3f3" stroke="#333" stroke-width="0.8" />
<circle cx="560" cy="324" r="4.3" fill="#def3f3" stroke="#333" stroke-width="0.8" />
<circle cx="585" cy="334" r="4.3" fill="#def3f3" stroke="#333" stroke-width="0.8" />
<path d="M352.5,325.6 C357.08,325.33 370.42,324.55 380,324 C389.58,323.45 400,322.88 410,322.3 C420,321.72 430,321.05 440,320.5 C450,319.95 458.83,319.37 470,319 C481.17,318.63 500.83,318.42 507,318.3" stroke="#1515e6" fill="none" stroke-width="2.8" />
<path d="M352.5,323.3 C357.08,323.03 370.42,322.25 380,321.7 C389.58,321.15 400,320.58 410,320 C420,319.42 430,318.75 440,318.2 C450,317.65 458.83,317.07 470,316.7 C481.17,316.33 500.83,316.12 507,316" stroke="#ff2424" fill="none" stroke-width="2.3" stroke-dasharray="5 3.5"/>
<path d="M510,317.9 C512.47,318.02 518.2,317.87 524.8,318.6 C531.4,319.33 541.33,320.23 549.6,322.3 C557.87,324.37 568.2,328.52 574.4,331 C580.6,333.48 582.65,334.72 586.8,337.2 C590.95,339.68 595.15,342.8 599.3,345.9 C603.45,349 607.58,352.28 611.7,355.8 C615.82,359.32 619.87,363.07 624,367 C628.13,370.93 632.35,374.85 636.5,379.4 C640.65,383.95 645.18,389.33 648.9,394.3 C652.62,399.27 657.15,406.72 658.8,409.2" stroke="#1515e6" fill="none" stroke-width="2.8" />
<path d="M510,319.5 C512.47,319.62 518.2,319.47 524.8,320.2 C531.4,320.93 541.33,321.83 549.6,323.9 C557.87,325.97 568.2,330.12 574.4,332.6 C580.6,335.08 582.65,336.32 586.8,338.8 C590.95,341.28 595.15,344.4 599.3,347.5 C603.45,350.6 607.58,353.88 611.7,357.4 C615.82,360.92 619.87,364.67 624,368.6 C628.13,372.53 632.35,376.45 636.5,381 C640.65,385.55 645.18,390.93 648.9,395.9 C652.62,400.87 657.15,408.32 658.8,410.8" stroke="#ff2424" fill="none" stroke-width="2.3" stroke-dasharray="5 3.5"/>
<rect x="443.9" y="341.1" width="130.1" height="65.5" fill="#fff" stroke="#888" stroke-width="0.9" />
<line x1="448" y1="351" x2="488.5" y2="351" stroke="#1515e6" stroke-width="2.8" />
<line x1="448" y1="372.3" x2="488.5" y2="372.3" stroke="#ff2424" stroke-width="2.3" stroke-dasharray="5 3.5"/>
<circle cx="468.7" cy="393.6" r="4.3" fill="#def3f3" stroke="#333" stroke-width="0.8" />
<text x="494.5" y="357" fill="#111" text-anchor="start" style="font-family:'Liberation Sans', sans-serif;font-size:16.8px;" >Numerical</text>
<text x="494.5" y="377.5" fill="#111" text-anchor="start" style="font-family:'Liberation Sans', sans-serif;font-size:16.8px;" >Analytical</text>
<text x="494.5" y="397.5" fill="#111" text-anchor="start" style="font-family:'Liberation Sans', sans-serif;font-size:16.8px;" >Exp.</text>
<text transform="translate(321.5,356) rotate(-90)" style="font-family:'Liberation Sans', sans-serif;font-size:20.5px" fill="#111">ε/ε<tspan font-size="14" dy="5">c</tspan><tspan font-size="14" dy="-16" dx="-8">num</tspan></text>
<line x1="507" y1="415" x2="507" y2="409" stroke="#000" stroke-width="1.2" />
<line x1="507" y1="248.5" x2="507" y2="254.5" stroke="#000" stroke-width="1.2" />
<line x1="433.25" y1="415" x2="433.25" y2="409" stroke="#000" stroke-width="1.2" />
<line x1="433.25" y1="248.5" x2="433.25" y2="254.5" stroke="#000" stroke-width="1.2" />
<line x1="359.5" y1="415" x2="359.5" y2="409" stroke="#000" stroke-width="1.2" />
<line x1="359.5" y1="248.5" x2="359.5" y2="254.5" stroke="#000" stroke-width="1.2" />
<line x1="470.12" y1="415" x2="470.12" y2="411" stroke="#000" stroke-width="1.1" />
<line x1="470.12" y1="248.5" x2="470.12" y2="252.5" stroke="#000" stroke-width="1.1" />
<line x1="396.38" y1="415" x2="396.38" y2="411" stroke="#000" stroke-width="1.1" />
<line x1="396.38" y1="248.5" x2="396.38" y2="252.5" stroke="#000" stroke-width="1.1" />
<line x1="352.5" y1="411.3" x2="358.5" y2="411.3" stroke="#000" stroke-width="1.2" />
<line x1="352.5" y1="387.98" x2="356.5" y2="387.98" stroke="#000" stroke-width="1.1" />
<line x1="352.5" y1="364.65" x2="358.5" y2="364.65" stroke="#000" stroke-width="1.2" />
<line x1="352.5" y1="341.33" x2="356.5" y2="341.33" stroke="#000" stroke-width="1.1" />
<line x1="352.5" y1="318" x2="358.5" y2="318" stroke="#000" stroke-width="1.2" />
<line x1="352.5" y1="294.68" x2="356.5" y2="294.68" stroke="#000" stroke-width="1.1" />
<line x1="352.5" y1="271.35" x2="358.5" y2="271.35" stroke="#000" stroke-width="1.2" />
<line x1="352.5" y1="248.03" x2="356.5" y2="248.03" stroke="#000" stroke-width="1.1" />
<rect x="352.5" y="248.5" width="154.5" height="166.5" fill="none" stroke="#000" stroke-width="1.5" />
<line x1="510" y1="415" x2="510" y2="409" stroke="#000" stroke-width="1.2" />
<line x1="510" y1="248.5" x2="510" y2="254.5" stroke="#000" stroke-width="1.2" />
<line x1="584.75" y1="415" x2="584.75" y2="409" stroke="#000" stroke-width="1.2" />
<line x1="584.75" y1="248.5" x2="584.75" y2="254.5" stroke="#000" stroke-width="1.2" />
<line x1="659.5" y1="415" x2="659.5" y2="409" stroke="#000" stroke-width="1.2" />
<line x1="659.5" y1="248.5" x2="659.5" y2="254.5" stroke="#000" stroke-width="1.2" />
<line x1="547.38" y1="415" x2="547.38" y2="411" stroke="#000" stroke-width="1.1" />
<line x1="547.38" y1="248.5" x2="547.38" y2="252.5" stroke="#000" stroke-width="1.1" />
<line x1="622.12" y1="415" x2="622.12" y2="411" stroke="#000" stroke-width="1.1" />
<line x1="622.12" y1="248.5" x2="622.12" y2="252.5" stroke="#000" stroke-width="1.1" />
<line x1="663.3" y1="411.3" x2="657.3" y2="411.3" stroke="#000" stroke-width="1.2" />
<line x1="663.3" y1="387.98" x2="659.3" y2="387.98" stroke="#000" stroke-width="1.1" />
<line x1="663.3" y1="364.65" x2="657.3" y2="364.65" stroke="#000" stroke-width="1.2" />
<line x1="663.3" y1="341.33" x2="659.3" y2="341.33" stroke="#000" stroke-width="1.1" />
<line x1="663.3" y1="318" x2="657.3" y2="318" stroke="#000" stroke-width="1.2" />
<line x1="663.3" y1="294.68" x2="659.3" y2="294.68" stroke="#000" stroke-width="1.1" />
<line x1="663.3" y1="271.35" x2="657.3" y2="271.35" stroke="#000" stroke-width="1.2" />
<line x1="663.3" y1="248.03" x2="659.3" y2="248.03" stroke="#000" stroke-width="1.1" />
<rect x="510" y="248.5" width="153.3" height="166.5" fill="none" stroke="#000" stroke-width="1.5" />
<text x="349.5" y="417.3" fill="#111" text-anchor="end" style="font-family:'Liberation Sans', sans-serif;font-size:17px;" >0.0</text>
<text x="349.5" y="370.65" fill="#111" text-anchor="end" style="font-family:'Liberation Sans', sans-serif;font-size:17px;" >0.5</text>
<text x="349.5" y="324" fill="#111" text-anchor="end" style="font-family:'Liberation Sans', sans-serif;font-size:17px;" >1.0</text>
<text x="349.5" y="277.35" fill="#111" text-anchor="end" style="font-family:'Liberation Sans', sans-serif;font-size:17px;" >1.5</text>
<text x="359.5" y="433.6" fill="#111" text-anchor="middle" style="font-family:'Liberation Sans', sans-serif;font-size:17.5px;" >1.0</text>
<text x="433.25" y="433.6" fill="#111" text-anchor="middle" style="font-family:'Liberation Sans', sans-serif;font-size:17.5px;" >0.5</text>
<text x="508.7" y="433.6" fill="#111" text-anchor="middle" style="font-family:'Liberation Sans', sans-serif;font-size:17.5px;" >0.0</text>
<text x="584.75" y="433.6" fill="#111" text-anchor="middle" style="font-family:'Liberation Sans', sans-serif;font-size:17.5px;" >0.5</text>
<text x="659.5" y="433.6" fill="#111" text-anchor="middle" style="font-family:'Liberation Sans', sans-serif;font-size:17.5px;" >1.0</text>
<text x="496" y="458" style="font-family:'Liberation Sans', sans-serif;font-size:17.5px;font-style:italic" fill="#111">r/R</text>
<text x="22.5" y="487" fill="#000" text-anchor="start" style="font-family:'Liberation Sans', sans-serif;font-size:25px;" >e)</text>
<text x="107.9" y="505.2" fill="#222" text-anchor="start" style="font-family:'Liberation Sans', sans-serif;font-size:10.5px;" >Monolayer hBN</text>
<polygon points="77.4,535.6 176,526 233.6,540.7 134.6,549.6" stroke="none" fill="url(#grayPlate)" stroke-width="1" />
<polyline points="77.4,536.5 134.6,550.5 233.6,541.5" stroke="#888" fill="none" stroke-width="0.8" />
<path d="M102.8,540 C104,528 114,518 132,516.6 C150,515.5 170,519 178,530 C180,535 181,539 180.3,541 C160,545 120,546 102.8,540 Z" stroke="none" fill="url(#grayDomeL)" stroke-width="1" />
<path d="M168,521 C175,526 178,534 176,543 L172,544 C173,535 171,527 165,522 Z" stroke="none" fill="#2a2a2a" stroke-width="1" opacity="0.7"/>
<line x1="226" y1="516" x2="226" y2="536" stroke="#777" stroke-width="0.7" />
<text x="224" y="514" fill="#222" text-anchor="start" style="font-family:'Liberation Sans', sans-serif;font-size:8px;" >21 nm</text>
<text x="229" y="548" fill="#222" text-anchor="start" style="font-family:'Liberation Sans', sans-serif;font-size:8px;" >0 nm</text>
<text transform="translate(90,552) rotate(9)" style="font-family:'Liberation Sans', sans-serif;font-size:9px;font-style:italic" fill="#222">0.4 µm</text>
<text x="175.5" y="559" fill="#222" text-anchor="start" style="font-family:'Liberation Sans', sans-serif;font-size:9px;" >0.4 µm</text>
<text x="220" y="631.5" fill="#222" text-anchor="start" style="font-family:'Liberation Sans', sans-serif;font-size:10.5px;" >Graphene</text>
<polygon points="162.3,664 231,648 297.2,656.2 227.9,671.7" stroke="none" fill="url(#grayPlate)" stroke-width="1" />
<polyline points="162.3,665 227.9,672.7 297.2,657.2" stroke="#888" fill="none" stroke-width="0.8" />
<path d="M197,661 C200,650 207,641 220,639 C240,637 262,637 272,641 C278,646 281,652 281.8,660 C260,666 215,668 197,661 Z" stroke="none" fill="url(#grapheneL)" stroke-width="1" />
<path d="M197,661 C200,650 207,641 220,639 L228,667 C215,667 204,665 197,661 Z" stroke="none" fill="#404040" stroke-width="1" opacity="0.6"/>
<line x1="301" y1="633" x2="301" y2="656" stroke="#777" stroke-width="0.7" />
<text x="297" y="631" fill="#222" text-anchor="start" style="font-family:'Liberation Sans', sans-serif;font-size:8px;" >69 nm</text>
<text x="297" y="665.5" fill="#222" text-anchor="start" style="font-family:'Liberation Sans', sans-serif;font-size:8px;" >0 nm</text>
<text transform="translate(172,678) rotate(8)" style="font-family:'Liberation Sans', sans-serif;font-size:9px;font-style:italic" fill="#222">0.86 µm</text>
<text transform="translate(258,676) rotate(-15)" style="font-family:'Liberation Sans', sans-serif;font-size:9px" fill="#222">1.3 µm</text>
<polygon points="109.5,635 84.5,671.7 137.3,671.7" stroke="#b8c890" fill="url(#triG)" stroke-width="0.8" />
<line x1="109.5" y1="635" x2="109.5" y2="627.3" stroke="#b8c890" stroke-width="0.8" />
<line x1="84.5" y1="671.7" x2="77.6" y2="675.5" stroke="#b8c890" stroke-width="0.8" />
<line x1="137.3" y1="671.7" x2="143" y2="678.6" stroke="#b8c890" stroke-width="0.8" />
<line x1="117" y1="635" x2="137.5" y2="666.5" stroke="#222" stroke-width="0.8" />
<polygon points="116,633.5 116.5,638.5 119.5,636" stroke="none" fill="#222" stroke-width="1" />
<polygon points="138.6,668 135.3,665.5 138.2,663.5" stroke="none" fill="#222" stroke-width="1" />
<text x="129.5" y="650" style="font-family:'Liberation Sans', sans-serif;font-size:11px;font-style:italic" fill="#222">L</text>
<line x1="66" y1="596.3" x2="328" y2="596.3" stroke="#3a9a3a" stroke-width="1.3" stroke-dasharray="4.5 3"/>
<polygon points="101.2,588.6 105.57,595.96 96.83,595.96" stroke="#3f9c3c" fill="#fff" stroke-width="1.5" />
<polygon points="105.9,603.3 110.27,610.66 101.53,610.66" stroke="#3f9c3c" fill="#fff" stroke-width="1.5" />
<polygon points="111.7,606.9 116.07,614.26 107.33,614.26" stroke="#3f9c3c" fill="#fff" stroke-width="1.5" />
<polygon points="118.2,592.8 122.57,600.16 113.83,600.16" stroke="#3f9c3c" fill="#fff" stroke-width="1.5" />
<polygon points="134,596.4 138.37,603.76 129.63,603.76" stroke="#3f9c3c" fill="#fff" stroke-width="1.5" />
<polygon points="141.9,602.5 146.27,609.86 137.53,609.86" stroke="#3f9c3c" fill="#fff" stroke-width="1.5" />
<polygon points="177.4,596.4 181.77,603.76 173.03,603.76" stroke="#3f9c3c" fill="#3f9c3c" stroke-width="0.8" />
<polygon points="185.8,584.9 190.17,592.26 181.43,592.26" stroke="#3f9c3c" fill="#3f9c3c" stroke-width="0.8" />
<polygon points="208.1,586.3 212.47,593.66 203.73,593.66" stroke="#3f9c3c" fill="#3f9c3c" stroke-width="0.8" />
<polygon points="208.5,588 212.87,595.36 204.13,595.36" stroke="#3f9c3c" fill="#3f9c3c" stroke-width="0.8" />
<polygon points="221.2,588.9 225.57,596.26 216.83,596.26" stroke="#3f9c3c" fill="#3f9c3c" stroke-width="0.8" />
<polygon points="232.3,577.1 236.67,584.46 227.93,584.46" stroke="#3f9c3c" fill="#3f9c3c" stroke-width="0.8" />
<polygon points="234.4,581 238.77,588.36 230.03,588.36" stroke="#3f9c3c" fill="#3f9c3c" stroke-width="0.8" />
<polygon points="236,579.3 240.37,586.66 231.63,586.66" stroke="#3f9c3c" fill="#3f9c3c" stroke-width="0.8" />
<polygon points="237,588.9 241.37,596.26 232.63,596.26" stroke="#3f9c3c" fill="#3f9c3c" stroke-width="0.8" />
<polygon points="255.4,579.7 259.77,587.06 251.03,587.06" stroke="#3f9c3c" fill="#3f9c3c" stroke-width="0.8" />
<polygon points="255.4,587.6 259.77,594.96 251.03,594.96" stroke="#3f9c3c" fill="#3f9c3c" stroke-width="0.8" />
<polygon points="268.5,597.2 272.87,604.56 264.13,604.56" stroke="#3f9c3c" fill="#3f9c3c" stroke-width="0.8" />
<polygon points="279.8,597.2 284.17,604.56 275.43,604.56" stroke="#3f9c3c" fill="#3f9c3c" stroke-width="0.8" />
<polygon points="288.2,598 292.57,605.36 283.83,605.36" stroke="#3f9c3c" fill="#3f9c3c" stroke-width="0.8" />
<polygon points="306.6,600.6 310.97,607.96 302.23,607.96" stroke="#3f9c3c" fill="#3f9c3c" stroke-width="0.8" />
<rect x="65.5" y="494.5" width="263" height="195.3" fill="none" stroke="#222" stroke-width="1" />
<line x1="65.5" y1="661.7" x2="61.5" y2="661.7" stroke="#222" stroke-width="1" />
<text x="55.5" y="665.5" fill="#222" text-anchor="end" style="font-family:'Liberation Sans', sans-serif;font-size:12.4px;" >0.00</text>
<line x1="65.5" y1="615.45" x2="61.5" y2="615.45" stroke="#222" stroke-width="1" />
<text x="55.5" y="619.25" fill="#222" text-anchor="end" style="font-family:'Liberation Sans', sans-serif;font-size:12.4px;" >0.05</text>
<line x1="65.5" y1="569.2" x2="61.5" y2="569.2" stroke="#222" stroke-width="1" />
<text x="55.5" y="573" fill="#222" text-anchor="end" style="font-family:'Liberation Sans', sans-serif;font-size:12.4px;" >0.10</text>
<line x1="65.5" y1="522.95" x2="61.5" y2="522.95" stroke="#222" stroke-width="1" />
<text x="55.5" y="526.75" fill="#222" text-anchor="end" style="font-family:'Liberation Sans', sans-serif;font-size:12.4px;" >0.15</text>
<line x1="65.3" y1="689.8" x2="65.3" y2="693.8" stroke="#222" stroke-width="1" />
<text x="65.3" y="709" fill="#222" text-anchor="middle" style="font-family:'Liberation Sans', sans-serif;font-size:12.2px;" >0</text>
<line x1="109.52" y1="689.8" x2="109.52" y2="693.8" stroke="#222" stroke-width="1" />
<text x="109.52" y="709" fill="#222" text-anchor="middle" style="font-family:'Liberation Sans', sans-serif;font-size:12.2px;" >200</text>
<line x1="153.74" y1="689.8" x2="153.74" y2="693.8" stroke="#222" stroke-width="1" />
<text x="153.74" y="709" fill="#222" text-anchor="middle" style="font-family:'Liberation Sans', sans-serif;font-size:12.2px;" >400</text>
<line x1="197.96" y1="689.8" x2="197.96" y2="693.8" stroke="#222" stroke-width="1" />
<text x="197.96" y="709" fill="#222" text-anchor="middle" style="font-family:'Liberation Sans', sans-serif;font-size:12.2px;" >600</text>
<line x1="242.18" y1="689.8" x2="242.18" y2="693.8" stroke="#222" stroke-width="1" />
<text x="242.18" y="709" fill="#222" text-anchor="middle" style="font-family:'Liberation Sans', sans-serif;font-size:12.2px;" >800</text>
<line x1="286.4" y1="689.8" x2="286.4" y2="693.8" stroke="#222" stroke-width="1" />
<text x="286.4" y="709" fill="#222" text-anchor="middle" style="font-family:'Liberation Sans', sans-serif;font-size:12.2px;" >1,000</text>
<text x="171.5" y="734.5" fill="#111" text-anchor="start" style="font-family:'Liberation Sans', sans-serif;font-size:17px;" ><tspan font-style="italic">L</tspan> (nm)</text>
<text transform="translate(15.5,606) rotate(-90)" style="font-family:'Liberation Sans', sans-serif;font-size:18.5px;" fill="#111"><tspan font-style="italic">h</tspan><tspan font-style="italic" font-size="13" dy="3.5">m</tspan><tspan dy="-3.5" font-style="italic">/L</tspan></text>
<text x="351" y="483.5" fill="#000" text-anchor="start" style="font-family:'Liberation Sans', sans-serif;font-size:25px;" >f)</text>
<rect x="425.8" y="500.8" width="42.4" height="43.8" fill="#6e6e6e" stroke="none" stroke-width="1" />
<g transform="translate(446.5,522) rotate(-14)">
<rect x="-16" y="-16" width="32" height="32" fill="#f0f0f0" stroke="none" stroke-width="1" rx="5.6"/>
<rect x="-13.6" y="-13" width="27.2" height="27.2" fill="#303030" stroke="none" stroke-width="1" rx="4.8"/>
<rect x="-12.4" y="-11.5" width="24.8" height="24.8" fill="#e8e8e8" stroke="none" stroke-width="1" rx="4.3"/>
<rect x="-10" y="-8.5" width="20" height="20" fill="#303030" stroke="none" stroke-width="1" rx="3.5"/>
<rect x="-8.8" y="-7" width="17.6" height="17.6" fill="#f0f0f0" stroke="none" stroke-width="1" rx="3.1"/>
<rect x="-6.4" y="-4" width="12.8" height="12.8" fill="#303030" stroke="none" stroke-width="1" rx="2.2"/>
<rect x="-5.2" y="-2.5" width="10.4" height="10.4" fill="#f0f0f0" stroke="none" stroke-width="1" rx="1.8"/>
<rect x="-2.8" y="0.5" width="5.6" height="5.6" fill="#303030" stroke="none" stroke-width="1" rx="1.0"/>
<rect x="-1.6" y="2" width="3.2" height="3.2" fill="#f0f0f0" stroke="none" stroke-width="1" rx="0.6"/>
</g>
<rect x="453.6" y="538.4" width="13" height="2" fill="#000" stroke="none" stroke-width="1" />
<rect x="427.2" y="635.3" width="42.8" height="42.7" fill="#6e6e6e" stroke="none" stroke-width="1" />
<polygon points="434,636 468,651 438,676" stroke="none" fill="#f0f0f0" stroke-width="1" stroke-linejoin="round" stroke="#f0f0f0" stroke-width="0.6"/>
<polygon points="435.76,639.04 464.32,651.64 439.12,672.64" stroke="none" fill="#303030" stroke-width="1" stroke-linejoin="round" stroke="#303030" stroke-width="0.6"/>
<polygon points="436.64,640.56 462.48,651.96 439.68,670.96" stroke="none" fill="#e8e8e8" stroke-width="1" stroke-linejoin="round" stroke="#e8e8e8" stroke-width="0.6"/>
<polygon points="438.4,643.6 458.8,652.6 440.8,667.6" stroke="none" fill="#303030" stroke-width="1" stroke-linejoin="round" stroke="#303030" stroke-width="0.6"/>
<polygon points="439.28,645.12 456.96,652.92 441.36,665.92" stroke="none" fill="#f0f0f0" stroke-width="1" stroke-linejoin="round" stroke="#f0f0f0" stroke-width="0.6"/>
<polygon points="441.04,648.16 453.28,653.56 442.48,662.56" stroke="none" fill="#303030" stroke-width="1" stroke-linejoin="round" stroke="#303030" stroke-width="0.6"/>
<polygon points="441.92,649.68 451.44,653.88 443.04,660.88" stroke="none" fill="#f0f0f0" stroke-width="1" stroke-linejoin="round" stroke="#f0f0f0" stroke-width="0.6"/>
<polygon points="443.46,652.34 448.22,654.44 444.02,657.94" stroke="none" fill="#303030" stroke-width="1" stroke-linejoin="round" stroke="#303030" stroke-width="0.6"/>
<polygon points="444.12,653.48 446.84,654.68 444.44,656.68" stroke="none" fill="#f0f0f0" stroke-width="1" stroke-linejoin="round" stroke="#f0f0f0" stroke-width="0.6"/>
<rect x="452" y="672" width="15" height="2" fill="#000" stroke="none" stroke-width="1" />
<path d="M500,533.5 L509,533 C518,526 530,512 548.5,507.3 C560,506.5 574,510 585,514 C594,519 602,527 608.3,532.4 L612,534 Z" stroke="none" fill="url(#pyrA)" stroke-width="1" />
<line x1="496" y1="534.5" x2="612" y2="534.5" stroke="#aaa" stroke-width="1" />
<line x1="612" y1="505" x2="612" y2="533" stroke="#777" stroke-width="0.7" />
<text x="608" y="509" fill="#222" text-anchor="start" style="font-family:'Liberation Sans', sans-serif;font-size:8.5px;" >0.27 µm</text>
<text x="610" y="545.5" fill="#222" text-anchor="start" style="font-family:'Liberation Sans', sans-serif;font-size:8.5px;" >0 µm</text>
<text x="554" y="545.5" fill="#222" text-anchor="start" style="font-family:'Liberation Sans', sans-serif;font-size:8.5px;" >1.8 µm</text>
<text transform="translate(490,534) rotate(18)" style="font-family:'Liberation Sans', sans-serif;font-size:8.5px;font-style:italic" fill="#222">1.8 µm</text>
<path d="M500,667.5 L508.3,666.7 C514,661 519,652 529.2,646.8 C537,643.5 546,641 553.3,640.4 C570,648 595,660 619.1,668.4 Z" stroke="none" fill="url(#pyrB)" stroke-width="1" />
<line x1="498" y1="668.5" x2="620" y2="668.5" stroke="#aaa" stroke-width="1" />
<line x1="620.7" y1="644.3" x2="620.7" y2="668.4" stroke="#777" stroke-width="0.7" />
<text x="614" y="639.5" fill="#222" text-anchor="start" style="font-family:'Liberation Sans', sans-serif;font-size:8.5px;" >0.24 µm</text>
<text x="617.5" y="679.5" fill="#222" text-anchor="start" style="font-family:'Liberation Sans', sans-serif;font-size:8.5px;" >0 µm</text>
<text x="556.5" y="679.5" fill="#222" text-anchor="start" style="font-family:'Liberation Sans', sans-serif;font-size:8.5px;" >1.3 µm</text>
<text transform="translate(490.6,668) rotate(18)" style="font-family:'Liberation Sans', sans-serif;font-size:8.5px;font-style:italic" fill="#222">1.3 µm</text>
<rect x="447.6" y="587.6" width="7.2" height="7.2" fill="#fff" stroke="#1a1aee" stroke-width="1.4" />
<rect x="468.3" y="597.8" width="7.2" height="7.2" fill="#fff" stroke="#1a1aee" stroke-width="1.4" />
<rect x="494" y="597.4" width="7.2" height="7.2" fill="#fff" stroke="#1a1aee" stroke-width="1.4" />
<rect x="557.7" y="560.5" width="7.2" height="7.2" fill="#fff" stroke="#1a1aee" stroke-width="1.4" />
<polygon points="460,592.5 464.75,600.6 455.25,600.6" stroke="#e84a55" fill="#ef6a72" stroke-width="0.8" />
<polygon points="482,584.5 486.75,592.6 477.25,592.6" stroke="#e84a55" fill="#ef6a72" stroke-width="0.8" />
<polygon points="505.5,595.8 510.25,603.9 500.75,603.9" stroke="#e84a55" fill="#ef6a72" stroke-width="0.8" />
<polygon points="512.2,598.3 516.95,606.4 507.45,606.4" stroke="#e84a55" fill="#ef6a72" stroke-width="0.8" />
<polygon points="515.5,594.5 520.25,602.6 510.75,602.6" stroke="#e84a55" fill="#ef6a72" stroke-width="0.8" />
<polygon points="530.4,597.2 535.15,605.3 525.65,605.3" stroke="#e84a55" fill="#ef6a72" stroke-width="0.8" />
<polygon points="564.7,607.8 569.45,615.9 559.95,615.9" stroke="#e84a55" fill="#ef6a72" stroke-width="0.8" />
<polygon points="571.4,607.4 576.15,615.5 566.65,615.5" stroke="#e84a55" fill="#ef6a72" stroke-width="0.8" />
<polygon points="582.3,608.6 587.05,616.7 577.55,616.7" stroke="#e84a55" fill="#ef6a72" stroke-width="0.8" />
<polygon points="591.3,579 596.05,587.1 586.55,587.1" stroke="#e84a55" fill="#ef6a72" stroke-width="0.8" />
<polygon points="635.2,599 639.95,607.1 630.45,607.1" stroke="#e84a55" fill="#ef6a72" stroke-width="0.8" />
<rect x="406" y="495.3" width="254.7" height="193" fill="none" stroke="#222" stroke-width="1" />
<line x1="406" y1="655.1" x2="402" y2="655.1" stroke="#222" stroke-width="1" />
<text x="396.5" y="658.7" fill="#222" text-anchor="end" style="font-family:'Liberation Sans', sans-serif;font-size:12.4px;" >0.0</text>
<line x1="406" y1="614.2" x2="402" y2="614.2" stroke="#222" stroke-width="1" />
<text x="396.5" y="617.8" fill="#222" text-anchor="end" style="font-family:'Liberation Sans', sans-serif;font-size:12.4px;" >0.1</text>
<line x1="406" y1="573.3" x2="402" y2="573.3" stroke="#222" stroke-width="1" />
<text x="396.5" y="576.9" fill="#222" text-anchor="end" style="font-family:'Liberation Sans', sans-serif;font-size:12.4px;" >0.2</text>
<line x1="406" y1="532.4" x2="402" y2="532.4" stroke="#222" stroke-width="1" />
<text x="396.5" y="536" fill="#222" text-anchor="end" style="font-family:'Liberation Sans', sans-serif;font-size:12.4px;" >0.3</text>
<line x1="406.5" y1="688.3" x2="406.5" y2="692.3" stroke="#222" stroke-width="1" />
<text x="406.5" y="707.2" fill="#222" text-anchor="middle" style="font-family:'Liberation Sans', sans-serif;font-size:12.2px;" >0</text>
<line x1="473.35" y1="688.3" x2="473.35" y2="692.3" stroke="#222" stroke-width="1" />
<text x="473.35" y="707.2" fill="#222" text-anchor="middle" style="font-family:'Liberation Sans', sans-serif;font-size:12.2px;" >500</text>
<line x1="540.2" y1="688.3" x2="540.2" y2="692.3" stroke="#222" stroke-width="1" />
<text x="540.2" y="707.2" fill="#222" text-anchor="middle" style="font-family:'Liberation Sans', sans-serif;font-size:12.2px;" >1,000</text>
<line x1="607.05" y1="688.3" x2="607.05" y2="692.3" stroke="#222" stroke-width="1" />
<text x="607.05" y="707.2" fill="#222" text-anchor="middle" style="font-family:'Liberation Sans', sans-serif;font-size:12.2px;" >1,500</text>
<text x="515" y="734.5" fill="#111" text-anchor="start" style="font-family:'Liberation Sans', sans-serif;font-size:17px;" ><tspan font-style="italic">L</tspan> (nm)</text>
<text transform="translate(362.5,606) rotate(-90)" style="font-family:'Liberation Sans', sans-serif;font-size:18.5px;" fill="#111"><tspan font-style="italic">h</tspan><tspan font-style="italic" font-size="13" dy="3.5">m</tspan><tspan dy="-3.5" font-style="italic">/L</tspan></text>
<text x="21.5" y="762.6" fill="#000" text-anchor="start" style="font-family:'Liberation Sans', sans-serif;font-size:25px;" >g)</text>
<defs><clipPath id="clipg"><rect x="65.8" y="749.5" width="246.2" height="258.3"/></clipPath></defs>
<g clip-path="url(#clipg)">
<path d="M64.35,764.55 L68.69,776.52 L73.03,787.51 L77.38,797.63 L81.72,807 L86.06,815.67 L90.4,823.74 L94.74,831.26 L99.08,838.28 L103.42,844.86 L107.76,851.02 L112.1,856.82 L116.44,862.28 L120.79,867.43 L125.13,872.3 L129.47,876.9 L133.81,881.26 L138.15,885.4 L142.49,889.34 L146.83,893.08 L151.17,896.65 L155.51,900.05 L159.85,903.29 L164.2,906.39 L168.54,909.36 L172.88,912.2 L177.22,914.92 L181.56,917.53 L185.9,920.04 L190.24,922.45 L194.58,924.76 L198.92,926.99 L203.26,929.14 L207.61,931.2 L211.95,933.19 L216.29,935.12 L220.63,936.97 L224.97,938.77 L229.31,940.5 L233.65,942.17 L237.99,943.8 L242.33,945.37 L246.68,946.89 L251.02,948.36 L255.36,949.79 L259.7,951.17 L264.04,952.52 L268.38,953.82 L272.72,955.09 L277.06,956.32 L281.4,957.52 L285.74,958.68 L290.08,959.82 L294.43,960.92 L298.77,961.99 L303.11,963.03 L307.45,964.05 L311.79,965.04" stroke="#a6f5a6" fill="none" stroke-width="3.2" />
<path d="M64.35,787.66 L68.69,798.53 L73.03,808.52 L77.38,817.72 L81.72,826.23 L86.06,834.13 L90.4,841.47 L94.74,848.31 L99.08,854.71 L103.42,860.7 L107.76,866.32 L112.1,871.6 L116.44,876.58 L120.79,881.27 L125.13,885.71 L129.47,889.91 L133.81,893.89 L138.15,897.67 L142.49,901.26 L146.83,904.68 L151.17,907.93 L155.51,911.04 L159.85,914.01 L164.2,916.84 L168.54,919.55 L172.88,922.15 L177.22,924.64 L181.56,927.03 L185.9,929.32 L190.24,931.52 L194.58,933.64 L198.92,935.68 L203.26,937.64 L207.61,939.53 L211.95,941.36 L216.29,943.12 L220.63,944.82 L224.97,946.46 L229.31,948.05 L233.65,949.58 L237.99,951.07 L242.33,952.51 L246.68,953.9 L251.02,955.25 L255.36,956.56 L259.7,957.83 L264.04,959.07 L268.38,960.26 L272.72,961.43 L277.06,962.56 L281.4,963.65 L285.74,964.72 L290.08,965.76 L294.43,966.77 L298.77,967.76 L303.11,968.72 L307.45,969.65 L311.79,970.56" stroke="#ea9090" fill="none" stroke-width="3.2" />
<path d="M64.35,867.43 L68.69,874.72 L73.03,881.43 L77.38,887.62 L81.72,893.34 L86.06,898.66 L90.4,903.6 L94.74,908.22 L99.08,912.53 L103.42,916.57 L107.76,920.37 L112.1,923.94 L116.44,927.31 L120.79,930.49 L125.13,933.49 L129.47,936.34 L133.81,939.03 L138.15,941.6 L142.49,944.03 L146.83,946.35 L151.17,948.56 L155.51,950.67 L159.85,952.69 L164.2,954.62 L168.54,956.46 L172.88,958.23 L177.22,959.92 L181.56,961.55 L185.9,963.11 L190.24,964.61 L194.58,966.06 L198.92,967.45 L203.26,968.79 L207.61,970.08 L211.95,971.33 L216.29,972.53 L220.63,973.69 L224.97,974.82 L229.31,975.9 L233.65,976.95 L237.99,977.97 L242.33,978.95 L246.68,979.91 L251.02,980.83 L255.36,981.73 L259.7,982.6 L264.04,983.45 L268.38,984.27 L272.72,985.07 L277.06,985.84 L281.4,986.6 L285.74,987.33 L290.08,988.04 L294.43,988.74 L298.77,989.42 L303.11,990.07 L307.45,990.72 L311.79,991.34" stroke="#8cd8f8" fill="none" stroke-width="3.2" />
<rect x="74.6" y="898.5" width="7.2" height="7.2" fill="#4aa0f0" stroke="none" stroke-width="1" opacity="1"/>
<rect x="95.2" y="902.2" width="7.2" height="7.2" fill="#4aa0f0" stroke="none" stroke-width="1" opacity="1"/>
<rect x="125.9" y="928.8" width="7.2" height="7.2" fill="#4aa0f0" stroke="none" stroke-width="1" opacity="1"/>
<rect x="139.6" y="948.1" width="7.2" height="7.2" fill="#4aa0f0" stroke="none" stroke-width="1" opacity="1"/>
<rect x="158.2" y="941.2" width="7.2" height="7.2" fill="#4aa0f0" stroke="none" stroke-width="1" opacity="1"/>
<rect x="187.9" y="963.6" width="7.2" height="7.2" fill="#4aa0f0" stroke="none" stroke-width="1" opacity="1"/>
<rect x="216.3" y="967" width="7.2" height="7.2" fill="#4aa0f0" stroke="none" stroke-width="1" opacity="1"/>
<rect x="230.5" y="977.3" width="7.2" height="7.2" fill="#4aa0f0" stroke="none" stroke-width="1" opacity="1"/>
<rect x="254.4" y="975.2" width="7.2" height="7.2" fill="#4aa0f0" stroke="none" stroke-width="1" opacity="1"/>
<rect x="279.1" y="977.3" width="7.2" height="7.2" fill="#4aa0f0" stroke="none" stroke-width="1" opacity="1"/>
<rect x="89" y="843" width="7.2" height="7.2" fill="#f51a10" stroke="none" stroke-width="1" opacity="1"/>
<rect x="110" y="874.2" width="7.2" height="7.2" fill="#f51a10" stroke="none" stroke-width="1" opacity="1"/>
<rect x="132.4" y="892.3" width="7.2" height="7.2" fill="#f51a10" stroke="none" stroke-width="1" opacity="1"/>
<rect x="152.7" y="909.7" width="7.2" height="7.2" fill="#f51a10" stroke="none" stroke-width="1" opacity="1"/>
<rect x="176.9" y="937.1" width="7.2" height="7.2" fill="#f51a10" stroke="none" stroke-width="1" opacity="1"/>
<rect x="194.5" y="932.6" width="7.2" height="7.2" fill="#f51a10" stroke="none" stroke-width="1" opacity="1"/>
<rect x="204.5" y="935.2" width="7.2" height="7.2" fill="#f51a10" stroke="none" stroke-width="1" opacity="1"/>
<rect x="235.7" y="950.2" width="7.2" height="7.2" fill="#f51a10" stroke="none" stroke-width="1" opacity="1"/>
<rect x="247" y="955.2" width="7.2" height="7.2" fill="#f51a10" stroke="none" stroke-width="1" opacity="1"/>
<rect x="261.5" y="956.8" width="7.2" height="7.2" fill="#f51a10" stroke="none" stroke-width="1" opacity="1"/>
<rect x="292.5" y="966.2" width="7.2" height="7.2" fill="#f51a10" stroke="none" stroke-width="1" opacity="1"/>
<rect x="87.7" y="837.9" width="7.2" height="7.2" fill="#88f0c4" stroke="none" stroke-width="1" opacity="1"/>
<rect x="135.9" y="886.1" width="7.2" height="7.2" fill="#88f0c4" stroke="none" stroke-width="1" opacity="1"/>
<rect x="165.1" y="910.9" width="7.2" height="7.2" fill="#88f0c4" stroke="none" stroke-width="1" opacity="1"/>
<rect x="161.7" y="910.3" width="7.2" height="7.2" fill="#88f0c4" stroke="none" stroke-width="1" opacity="1"/>
<rect x="170.1" y="896.4" width="7.2" height="7.2" fill="#88f0c4" stroke="none" stroke-width="1" opacity="1"/>
<rect x="177.4" y="899" width="7.2" height="7.2" fill="#88f0c4" stroke="none" stroke-width="1" opacity="1"/>
<rect x="207.6" y="940" width="7.2" height="7.2" fill="#88f0c4" stroke="none" stroke-width="1" opacity="1"/>
<rect x="218.1" y="922.9" width="7.2" height="7.2" fill="#88f0c4" stroke="none" stroke-width="1" opacity="1"/>
<rect x="251.8" y="943.1" width="7.2" height="7.2" fill="#88f0c4" stroke="none" stroke-width="1" opacity="1"/>
<rect x="109.4" y="873.9" width="7.2" height="7.2" fill="#5e6a3c" stroke="none" stroke-width="1" opacity="1"/>
<rect x="153.4" y="908.9" width="7.2" height="7.2" fill="#5e6a3c" stroke="none" stroke-width="1" opacity="1"/>
<rect x="194.5" y="932.6" width="7.2" height="7.2" fill="#5e6a3c" stroke="none" stroke-width="1" opacity="1"/>
</g>
<line x1="171" y1="759.2" x2="196.8" y2="759.2" stroke="#8cd8f8" stroke-width="3.2" />
<text x="200.5" y="763.5" fill="#222" text-anchor="start" style="font-family:'Liberation Sans', sans-serif;font-size:12.2px;" >FEA 1L</text>
<rect x="246.4" y="755" width="8.3" height="8.3" fill="#4aa0f0" stroke="none" stroke-width="1" />
<text x="267.2" y="763.5" fill="#222" text-anchor="start" style="font-family:'Liberation Sans', sans-serif;font-size:12px;" >Exp. 1L</text>
<line x1="171" y1="773.5" x2="196.8" y2="773.5" stroke="#ea9090" stroke-width="3.2" />
<text x="200.5" y="777.8" fill="#222" text-anchor="start" style="font-family:'Liberation Sans', sans-serif;font-size:12.2px;" >FEA 2L</text>
<rect x="246.4" y="769.3" width="8.3" height="8.3" fill="#f51a10" stroke="none" stroke-width="1" />
<text x="267.2" y="777.8" fill="#222" text-anchor="start" style="font-family:'Liberation Sans', sans-serif;font-size:12px;" >Exp. 2L</text>
<line x1="171" y1="787.7" x2="196.8" y2="787.7" stroke="#a6f5a6" stroke-width="3.2" />
<text x="200.5" y="792" fill="#222" text-anchor="start" style="font-family:'Liberation Sans', sans-serif;font-size:12.2px;" >FEA 3L</text>
<rect x="246.4" y="783.5" width="8.3" height="8.3" fill="#88f0c4" stroke="none" stroke-width="1" />
<text x="267.2" y="792" fill="#222" text-anchor="start" style="font-family:'Liberation Sans', sans-serif;font-size:12px;" >Exp. 3L</text>
<rect x="185" y="755" width="9" height="8" fill="#fff" stroke="none" stroke-width="1" />
<line x1="194" y1="759.2" x2="196.8" y2="759.2" stroke="#8cd8f8" stroke-width="3.2" />
<rect x="65.3" y="749.1" width="247.1" height="259.1" fill="none" stroke="#333" stroke-width="1" />
<line x1="65.3" y1="977" x2="61.3" y2="977" stroke="#333" stroke-width="1" />
<text x="58.3" y="981" fill="#222" text-anchor="end" style="font-family:'Liberation Sans', sans-serif;font-size:11.8px;" >50</text>
<line x1="65.3" y1="913.87" x2="61.3" y2="913.87" stroke="#333" stroke-width="1" />
<text x="58.3" y="917.87" fill="#222" text-anchor="end" style="font-family:'Liberation Sans', sans-serif;font-size:11.8px;" >100</text>
<line x1="65.3" y1="850.74" x2="61.3" y2="850.74" stroke="#333" stroke-width="1" />
<text x="58.3" y="854.74" fill="#222" text-anchor="end" style="font-family:'Liberation Sans', sans-serif;font-size:11.8px;" >150</text>
<line x1="65.3" y1="787.6" x2="61.3" y2="787.6" stroke="#333" stroke-width="1" />
<text x="58.3" y="791.6" fill="#222" text-anchor="end" style="font-family:'Liberation Sans', sans-serif;font-size:11.8px;" >200</text>
<line x1="65.3" y1="945.44" x2="62.8" y2="945.44" stroke="#333" stroke-width="1" />
<line x1="65.3" y1="882.3" x2="62.8" y2="882.3" stroke="#333" stroke-width="1" />
<line x1="65.3" y1="819.17" x2="62.8" y2="819.17" stroke="#333" stroke-width="1" />
<line x1="80.27" y1="1008.2" x2="80.27" y2="1012.2" stroke="#333" stroke-width="1" />
<text x="80.27" y="1024" fill="#222" text-anchor="middle" style="font-family:'Liberation Sans', sans-serif;font-size:12px;" >400</text>
<line x1="138.15" y1="1008.2" x2="138.15" y2="1012.2" stroke="#333" stroke-width="1" />
<text x="138.15" y="1024" fill="#222" text-anchor="middle" style="font-family:'Liberation Sans', sans-serif;font-size:12px;" >600</text>
<line x1="196.03" y1="1008.2" x2="196.03" y2="1012.2" stroke="#333" stroke-width="1" />
<text x="196.03" y="1024" fill="#222" text-anchor="middle" style="font-family:'Liberation Sans', sans-serif;font-size:12px;" >800</text>
<line x1="253.91" y1="1008.2" x2="253.91" y2="1012.2" stroke="#333" stroke-width="1" />
<text x="253.91" y="1024" fill="#222" text-anchor="middle" style="font-family:'Liberation Sans', sans-serif;font-size:12px;" >1000</text>
<line x1="311.79" y1="1008.2" x2="311.79" y2="1012.2" stroke="#333" stroke-width="1" />
<text x="311.79" y="1024" fill="#222" text-anchor="middle" style="font-family:'Liberation Sans', sans-serif;font-size:12px;" >1200</text>
<line x1="109.21" y1="1008.2" x2="109.21" y2="1010.7" stroke="#333" stroke-width="1" />
<line x1="167.09" y1="1008.2" x2="167.09" y2="1010.7" stroke="#333" stroke-width="1" />
<line x1="224.97" y1="1008.2" x2="224.97" y2="1010.7" stroke="#333" stroke-width="1" />
<line x1="282.85" y1="1008.2" x2="282.85" y2="1010.7" stroke="#333" stroke-width="1" />
<text x="160" y="1054" fill="#111" text-anchor="start" style="font-family:'Liberation Sans', sans-serif;font-size:17px;" ><tspan font-style="italic">R</tspan> (nm)</text>
<text transform="translate(31.6,903) rotate(-90)" style="font-family:'Liberation Sans', sans-serif;font-size:17.5px;" fill="#111">Δ<tspan font-style="italic">P</tspan> (atm)</text>
<text x="350" y="762.3" fill="#000" text-anchor="start" style="font-family:'Liberation Sans', sans-serif;font-size:25px;" >h)</text>
<defs><clipPath id="cliph"><rect x="408" y="751" width="250" height="258"/></clipPath></defs>
<g clip-path="url(#cliph)">
<path d="M406.53,805.21 L410.94,809.35 L415.36,813.15 L419.78,816.66 L424.2,819.92 L428.62,822.94 L433.03,825.75 L437.45,828.37 L441.87,830.83 L446.28,833.13 L450.7,835.29 L455.12,837.33 L459.54,839.25 L463.95,841.06 L468.37,842.77 L472.79,844.4 L477.21,845.94 L481.62,847.4 L486.04,848.79 L490.46,850.12 L494.88,851.38 L499.3,852.59 L503.71,853.74 L508.13,854.85 L512.55,855.9 L516.97,856.91 L521.38,857.88 L525.8,858.82 L530.22,859.71 L534.63,860.57 L539.05,861.4 L543.47,862.2 L547.89,862.97 L552.3,863.71 L556.72,864.42 L561.14,865.11 L565.56,865.78 L569.98,866.43 L574.39,867.05 L578.81,867.65 L583.23,868.24 L587.64,868.8 L592.06,869.35 L596.48,869.89 L600.9,870.4 L605.32,870.9 L609.73,871.39 L614.15,871.86 L618.57,872.32 L622.99,872.77 L627.4,873.2 L631.82,873.63 L636.24,874.04 L640.65,874.44 L645.07,874.83 L649.49,875.21 L653.91,875.58 L658.33,875.94" stroke="#b4f5b4" fill="none" stroke-width="3.6" />
<path d="M406.53,839.69 L410.94,843.45 L415.36,846.9 L419.78,850.09 L424.2,853.04 L428.62,855.79 L433.03,858.34 L437.45,860.72 L441.87,862.95 L446.28,865.04 L450.7,867 L455.12,868.85 L459.54,870.59 L463.95,872.24 L468.37,873.79 L472.79,875.27 L477.21,876.67 L481.62,878 L486.04,879.26 L490.46,880.46 L494.88,881.61 L499.3,882.71 L503.71,883.75 L508.13,884.76 L512.55,885.71 L516.97,886.63 L521.38,887.51 L525.8,888.36 L530.22,889.17 L534.63,889.96 L539.05,890.71 L543.47,891.43 L547.89,892.13 L552.3,892.8 L556.72,893.45 L561.14,894.08 L565.56,894.69 L569.98,895.27 L574.39,895.84 L578.81,896.39 L583.23,896.92 L587.64,897.43 L592.06,897.93 L596.48,898.41 L600.9,898.88 L605.32,899.34 L609.73,899.78 L614.15,900.21 L618.57,900.62 L622.99,901.03 L627.4,901.42 L631.82,901.81 L636.24,902.18 L640.65,902.54 L645.07,902.9 L649.49,903.24 L653.91,903.58 L658.33,903.91" stroke="#f0a4a4" fill="none" stroke-width="3.6" />
<path d="M406.53,933.41 L410.94,935.59 L415.36,937.6 L419.78,939.46 L424.2,941.18 L428.62,942.78 L433.03,944.26 L437.45,945.65 L441.87,946.95 L446.28,948.16 L450.7,949.31 L455.12,950.38 L459.54,951.39 L463.95,952.35 L468.37,953.26 L472.79,954.12 L477.21,954.93 L481.62,955.7 L486.04,956.44 L490.46,957.14 L494.88,957.81 L499.3,958.45 L503.71,959.06 L508.13,959.64 L512.55,960.2 L516.97,960.73 L521.38,961.25 L525.8,961.74 L530.22,962.21 L534.63,962.67 L539.05,963.1 L543.47,963.53 L547.89,963.93 L552.3,964.32 L556.72,964.7 L561.14,965.07 L565.56,965.42 L569.98,965.76 L574.39,966.09 L578.81,966.41 L583.23,966.72 L587.64,967.02 L592.06,967.31 L596.48,967.59 L600.9,967.86 L605.32,968.13 L609.73,968.38 L614.15,968.63 L618.57,968.88 L622.99,969.11 L627.4,969.34 L631.82,969.56 L636.24,969.78 L640.65,969.99 L645.07,970.2 L649.49,970.4 L653.91,970.6 L658.33,970.79" stroke="#a8e6f8" fill="none" stroke-width="3.6" />
<circle cx="433.2" cy="822.3" r="4.8" fill="url(#sphG)" stroke="none" stroke-width="1" />
<circle cx="454.8" cy="835.9" r="4.8" fill="url(#sphG)" stroke="none" stroke-width="1" />
<circle cx="482.5" cy="829.3" r="4.8" fill="url(#sphG)" stroke="none" stroke-width="1" />
<circle cx="502.2" cy="833.8" r="4.8" fill="url(#sphG)" stroke="none" stroke-width="1" />
<circle cx="509.7" cy="838.9" r="4.8" fill="url(#sphG)" stroke="none" stroke-width="1" />
<circle cx="524.3" cy="835.9" r="4.8" fill="url(#sphG)" stroke="none" stroke-width="1" />
<circle cx="517.3" cy="857" r="4.8" fill="url(#sphG)" stroke="none" stroke-width="1" />
<circle cx="541.5" cy="851.5" r="4.8" fill="url(#sphG)" stroke="none" stroke-width="1" />
<circle cx="555.1" cy="872.6" r="4.8" fill="url(#sphG)" stroke="none" stroke-width="1" />
<circle cx="566.1" cy="871.1" r="4.8" fill="url(#sphG)" stroke="none" stroke-width="1" />
<circle cx="600.4" cy="874.6" r="4.8" fill="url(#sphG)" stroke="none" stroke-width="1" />
<circle cx="435.2" cy="863.6" r="4.8" fill="url(#sphR)" stroke="none" stroke-width="1" />
<circle cx="456.8" cy="867.1" r="4.8" fill="url(#sphR)" stroke="none" stroke-width="1" />
<circle cx="480" cy="872.6" r="4.8" fill="url(#sphR)" stroke="none" stroke-width="1" />
<circle cx="499.7" cy="868.1" r="4.8" fill="url(#sphR)" stroke="none" stroke-width="1" />
<circle cx="524.8" cy="887.2" r="4.8" fill="url(#sphR)" stroke="none" stroke-width="1" />
<circle cx="542.5" cy="881.7" r="4.8" fill="url(#sphR)" stroke="none" stroke-width="1" />
<circle cx="552.5" cy="894.3" r="4.8" fill="url(#sphR)" stroke="none" stroke-width="1" />
<circle cx="584.3" cy="894.3" r="4.8" fill="url(#sphR)" stroke="none" stroke-width="1" />
<circle cx="595.8" cy="895.8" r="4.8" fill="url(#sphR)" stroke="none" stroke-width="1" />
<circle cx="610.5" cy="902.3" r="4.8" fill="url(#sphR)" stroke="none" stroke-width="1" />
<circle cx="641.7" cy="906.4" r="4.8" fill="url(#sphR)" stroke="none" stroke-width="1" />
<circle cx="420.6" cy="934.1" r="4.8" fill="url(#sphB)" stroke="none" stroke-width="1" />
<circle cx="442.2" cy="934.1" r="4.8" fill="url(#sphB)" stroke="none" stroke-width="1" />
<circle cx="473.5" cy="940.1" r="4.8" fill="url(#sphB)" stroke="none" stroke-width="1" />
<circle cx="486.6" cy="958.3" r="4.8" fill="url(#sphB)" stroke="none" stroke-width="1" />
<circle cx="505.2" cy="949.2" r="4.8" fill="url(#sphB)" stroke="none" stroke-width="1" />
<circle cx="535.9" cy="958.3" r="4.8" fill="url(#sphB)" stroke="none" stroke-width="1" />
<circle cx="564.6" cy="964.3" r="4.8" fill="url(#sphB)" stroke="none" stroke-width="1" />
<circle cx="578.7" cy="981.4" r="4.8" fill="url(#sphB)" stroke="none" stroke-width="1" />
<circle cx="602.9" cy="975.9" r="4.8" fill="url(#sphB)" stroke="none" stroke-width="1" />
<circle cx="628.1" cy="969.3" r="4.8" fill="url(#sphB)" stroke="none" stroke-width="1" />
</g>
<line x1="508.5" y1="760.7" x2="537.5" y2="760.7" stroke="#b0e8f8" stroke-width="3.4" />
<text x="540.5" y="765" fill="#222" text-anchor="start" style="font-family:'Liberation Sans', sans-serif;font-size:12.3px;" >FEA 1L</text>
<circle cx="599.2" cy="760.7" r="4.5" fill="url(#sphB)" stroke="none" stroke-width="1" />
<text x="615.5" y="765" fill="#222" text-anchor="start" style="font-family:'Liberation Sans', sans-serif;font-size:12.3px;" >Exp. 1L</text>
<line x1="508.5" y1="774.9" x2="537.5" y2="774.9" stroke="#f0a4a4" stroke-width="3.4" />
<text x="540.5" y="779.2" fill="#222" text-anchor="start" style="font-family:'Liberation Sans', sans-serif;font-size:12.3px;" >FEA 2L</text>
<circle cx="599.2" cy="774.9" r="4.5" fill="url(#sphR)" stroke="none" stroke-width="1" />
<text x="615.5" y="779.2" fill="#222" text-anchor="start" style="font-family:'Liberation Sans', sans-serif;font-size:12.3px;" >Exp. 2L</text>
<line x1="508.5" y1="789" x2="537.5" y2="789" stroke="#b8f5b8" stroke-width="3.4" />
<text x="540.5" y="793.3" fill="#222" text-anchor="start" style="font-family:'Liberation Sans', sans-serif;font-size:12.3px;" >FEA 3L</text>
<circle cx="599.2" cy="789" r="4.5" fill="url(#sphG)" stroke="none" stroke-width="1" />
<text x="615.5" y="793.3" fill="#222" text-anchor="start" style="font-family:'Liberation Sans', sans-serif;font-size:12.3px;" >Exp. 3L</text>
<rect x="408.2" y="750.6" width="250.1" height="258.9" fill="none" stroke="#333" stroke-width="1" />
<line x1="408.2" y1="1009.7" x2="404.2" y2="1009.7" stroke="#333" stroke-width="1" />
<text x="401.5" y="1013.6" fill="#222" text-anchor="end" style="font-family:'Liberation Sans', sans-serif;font-size:11.8px;" >6</text>
<line x1="408.2" y1="979.3" x2="404.2" y2="979.3" stroke="#333" stroke-width="1" />
<text x="401.5" y="983.2" fill="#222" text-anchor="end" style="font-family:'Liberation Sans', sans-serif;font-size:11.8px;" >8</text>
<line x1="408.2" y1="948.9" x2="404.2" y2="948.9" stroke="#333" stroke-width="1" />
<text x="401.5" y="952.8" fill="#222" text-anchor="end" style="font-family:'Liberation Sans', sans-serif;font-size:11.8px;" >10</text>
<line x1="408.2" y1="918.5" x2="404.2" y2="918.5" stroke="#333" stroke-width="1" />
<text x="401.5" y="922.4" fill="#222" text-anchor="end" style="font-family:'Liberation Sans', sans-serif;font-size:11.8px;" >12</text>
<line x1="408.2" y1="888.1" x2="404.2" y2="888.1" stroke="#333" stroke-width="1" />
<text x="401.5" y="892" fill="#222" text-anchor="end" style="font-family:'Liberation Sans', sans-serif;font-size:11.8px;" >14</text>
<line x1="408.2" y1="857.7" x2="404.2" y2="857.7" stroke="#333" stroke-width="1" />
<text x="401.5" y="861.6" fill="#222" text-anchor="end" style="font-family:'Liberation Sans', sans-serif;font-size:11.8px;" >16</text>
<line x1="408.2" y1="827.3" x2="404.2" y2="827.3" stroke="#333" stroke-width="1" />
<text x="401.5" y="831.2" fill="#222" text-anchor="end" style="font-family:'Liberation Sans', sans-serif;font-size:11.8px;" >18</text>
<line x1="408.2" y1="796.9" x2="404.2" y2="796.9" stroke="#333" stroke-width="1" />
<text x="401.5" y="800.8" fill="#222" text-anchor="end" style="font-family:'Liberation Sans', sans-serif;font-size:11.8px;" >20</text>
<line x1="408.2" y1="766.5" x2="404.2" y2="766.5" stroke="#333" stroke-width="1" />
<text x="401.5" y="770.4" fill="#222" text-anchor="end" style="font-family:'Liberation Sans', sans-serif;font-size:11.8px;" >22</text>
<line x1="408.2" y1="994.5" x2="405.7" y2="994.5" stroke="#333" stroke-width="1" />
<line x1="408.2" y1="964.1" x2="405.7" y2="964.1" stroke="#333" stroke-width="1" />
<line x1="408.2" y1="933.7" x2="405.7" y2="933.7" stroke="#333" stroke-width="1" />
<line x1="408.2" y1="903.3" x2="405.7" y2="903.3" stroke="#333" stroke-width="1" />
<line x1="408.2" y1="872.9" x2="405.7" y2="872.9" stroke="#333" stroke-width="1" />
<line x1="408.2" y1="842.5" x2="405.7" y2="842.5" stroke="#333" stroke-width="1" />
<line x1="408.2" y1="812.1" x2="405.7" y2="812.1" stroke="#333" stroke-width="1" />
<line x1="408.2" y1="781.7" x2="405.7" y2="781.7" stroke="#333" stroke-width="1" />
<line x1="422.73" y1="1009.5" x2="422.73" y2="1013.5" stroke="#333" stroke-width="1" />
<text x="422.73" y="1025" fill="#222" text-anchor="middle" style="font-family:'Liberation Sans', sans-serif;font-size:12px;" >400</text>
<line x1="481.62" y1="1009.5" x2="481.62" y2="1013.5" stroke="#333" stroke-width="1" />
<text x="481.62" y="1025" fill="#222" text-anchor="middle" style="font-family:'Liberation Sans', sans-serif;font-size:12px;" >600</text>
<line x1="540.52" y1="1009.5" x2="540.52" y2="1013.5" stroke="#333" stroke-width="1" />
<text x="540.52" y="1025" fill="#222" text-anchor="middle" style="font-family:'Liberation Sans', sans-serif;font-size:12px;" >800</text>
<line x1="599.42" y1="1009.5" x2="599.42" y2="1013.5" stroke="#333" stroke-width="1" />
<text x="599.42" y="1025" fill="#222" text-anchor="middle" style="font-family:'Liberation Sans', sans-serif;font-size:12px;" >1000</text>
<line x1="658.33" y1="1009.5" x2="658.33" y2="1013.5" stroke="#333" stroke-width="1" />
<text x="658.33" y="1025" fill="#222" text-anchor="middle" style="font-family:'Liberation Sans', sans-serif;font-size:12px;" >1200</text>
<line x1="452.18" y1="1009.5" x2="452.18" y2="1012" stroke="#333" stroke-width="1" />
<line x1="511.07" y1="1009.5" x2="511.07" y2="1012" stroke="#333" stroke-width="1" />
<line x1="569.98" y1="1009.5" x2="569.98" y2="1012" stroke="#333" stroke-width="1" />
<line x1="628.88" y1="1009.5" x2="628.88" y2="1012" stroke="#333" stroke-width="1" />
<text x="508" y="1054" fill="#111" text-anchor="start" style="font-family:'Liberation Sans', sans-serif;font-size:17px;" ><tspan font-style="italic">R</tspan> (nm)</text>
<text transform="translate(376.9,931.6) rotate(-90)" textLength="118" lengthAdjust="spacingAndGlyphs" style="font-family:'Liberation Sans', sans-serif;font-size:18.5px;" fill="#111">Stiffness (N/m)</text>
<text x="25" y="1077.2" fill="#000" text-anchor="start" style="font-family:'Liberation Sans', sans-serif;font-size:25px;" >i)</text>
<rect x="67" y="1079.8" width="254.4" height="187" fill="none" stroke="#666" stroke-width="1" />
<path d="M67,1079.7 L69.03,1079.74 L71.06,1079.85 L73.09,1080.04 L75.12,1080.3 L77.15,1080.64 L79.18,1081.05 L81.21,1081.53 L83.24,1082.09 L85.27,1082.72 L87.3,1083.43 L89.33,1084.21 L91.36,1085.06 L93.39,1085.98 L95.42,1086.97 L97.45,1088.03 L99.48,1089.17 L101.51,1090.37 L103.54,1091.64 L105.57,1092.98 L107.6,1094.38 L109.63,1095.86 L111.66,1097.39 L113.69,1098.99 L115.72,1100.66 L117.75,1102.38 L119.78,1104.17 L121.81,1106.01 L123.84,1107.92 L125.87,1109.88 L127.9,1111.9 L129.93,1113.97 L131.96,1116.1 L133.99,1118.27 L136.02,1120.5 L138.05,1122.78 L140.08,1125.1 L142.11,1127.47 L144.14,1129.89 L146.17,1132.34 L148.2,1134.84 L150.23,1137.38 L152.26,1139.95 L154.29,1142.56 L156.32,1145.2 L158.35,1147.88 L160.38,1150.58 L162.41,1153.31 L164.44,1156.07 L166.47,1158.84 L168.5,1161.64 L170.53,1164.46 L172.56,1167.3 L174.59,1170.15 L176.62,1173.01 L178.65,1175.88 L180.68,1178.75 L182.71,1181.64 L184.74,1184.52 L186.77,1187.4 L188.8,1190.28 L190.83,1193.16 L192.86,1196.02 L194.89,1198.87 L196.92,1201.71 L198.95,1204.53 L200.98,1207.34 L203.01,1210.11 L205.04,1212.87 L207.07,1215.59 L209.1,1218.28 L211.13,1220.94 L213.16,1223.56 L215.19,1226.13 L217.22,1228.67 L219.25,1231.15 L221.28,1233.58 L223.31,1235.96 L225.34,1238.28 L227.37,1240.53 L229.4,1242.73 L231.43,1244.85 L233.46,1246.9 L235.49,1248.87 L237.52,1250.77 L239.55,1252.58 L241.58,1254.3 L243.61,1255.93 L245.64,1257.47 L247.67,1258.9 L249.7,1260.24 L251.73,1261.47 L253.76,1262.58 L255.79,1263.58 L257.82,1264.46 L259.85,1265.22 L261.88,1265.85 L263.91,1266.35 L265.94,1266.71 L267.97,1266.93 L270,1267" stroke="#3aaa4a" fill="none" stroke-width="1.6" stroke-dasharray="4 3"/>
<path d="M67,1079.7 L69.03,1079.73 L71.06,1079.81 L73.09,1079.96 L75.12,1080.16 L77.15,1080.42 L79.18,1080.73 L81.21,1081.11 L83.24,1081.54 L85.27,1082.02 L87.3,1082.57 L89.33,1083.17 L91.36,1083.82 L93.39,1084.54 L95.42,1085.31 L97.45,1086.13 L99.48,1087.01 L101.51,1087.94 L103.54,1088.93 L105.57,1089.98 L107.6,1091.08 L109.63,1092.23 L111.66,1093.43 L113.69,1094.69 L115.72,1096 L117.75,1097.37 L119.78,1098.78 L121.81,1100.25 L123.84,1101.76 L125.87,1103.33 L127.9,1104.94 L129.93,1106.61 L131.96,1108.32 L133.99,1110.08 L136.02,1111.89 L138.05,1113.74 L140.08,1115.64 L142.11,1117.59 L144.14,1119.57 L146.17,1121.61 L148.2,1123.68 L150.23,1125.8 L152.26,1127.95 L154.29,1130.15 L156.32,1132.39 L158.35,1134.66 L160.38,1136.97 L162.41,1139.32 L164.44,1141.7 L166.47,1144.11 L168.5,1146.56 L170.53,1149.04 L172.56,1151.56 L174.59,1154.1 L176.62,1156.66 L178.65,1159.26 L180.68,1161.88 L182.71,1164.53 L184.74,1167.19 L186.77,1169.88 L188.8,1172.59 L190.83,1175.31 L192.86,1178.06 L194.89,1180.81 L196.92,1183.58 L198.95,1186.37 L200.98,1189.16 L203.01,1191.95 L205.04,1194.76 L207.07,1197.56 L209.1,1200.37 L211.13,1203.18 L213.16,1205.98 L215.19,1208.78 L217.22,1211.57 L219.25,1214.35 L221.28,1217.11 L223.31,1219.86 L225.34,1222.58 L227.37,1225.29 L229.4,1227.96 L231.43,1230.61 L233.46,1233.23 L235.49,1235.8 L237.52,1238.33 L239.55,1240.82 L241.58,1243.26 L243.61,1245.63 L245.64,1247.95 L247.67,1250.19 L249.7,1252.36 L251.73,1254.45 L253.76,1256.44 L255.79,1258.33 L257.82,1260.1 L259.85,1261.74 L261.88,1263.24 L263.91,1264.56 L265.94,1265.68 L267.97,1266.54 L270,1267" stroke="#ee2a2a" fill="none" stroke-width="1.6" />
<path d="M67,1079.7 L69.03,1079.72 L71.06,1079.8 L73.09,1079.92 L75.12,1080.09 L77.15,1080.31 L79.18,1080.58 L81.21,1080.89 L83.24,1081.26 L85.27,1081.67 L87.3,1082.13 L89.33,1082.64 L91.36,1083.2 L93.39,1083.8 L95.42,1084.46 L97.45,1085.16 L99.48,1085.91 L101.51,1086.71 L103.54,1087.55 L105.57,1088.44 L107.6,1089.38 L109.63,1090.37 L111.66,1091.4 L113.69,1092.48 L115.72,1093.6 L117.75,1094.77 L119.78,1095.99 L121.81,1097.25 L123.84,1098.56 L125.87,1099.91 L127.9,1101.31 L129.93,1102.75 L131.96,1104.24 L133.99,1105.77 L136.02,1107.35 L138.05,1108.96 L140.08,1110.62 L142.11,1112.33 L144.14,1114.07 L146.17,1115.86 L148.2,1117.69 L150.23,1119.55 L152.26,1121.46 L154.29,1123.41 L156.32,1125.4 L158.35,1127.43 L160.38,1129.5 L162.41,1131.6 L164.44,1133.75 L166.47,1135.92 L168.5,1138.14 L170.53,1140.39 L172.56,1142.68 L174.59,1145 L176.62,1147.35 L178.65,1149.74 L180.68,1152.16 L182.71,1154.61 L184.74,1157.1 L186.77,1159.61 L188.8,1162.15 L190.83,1164.72 L192.86,1167.32 L194.89,1169.94 L196.92,1172.59 L198.95,1175.26 L200.98,1177.96 L203.01,1180.67 L205.04,1183.41 L207.07,1186.17 L209.1,1188.95 L211.13,1191.74 L213.16,1194.55 L215.19,1197.37 L217.22,1200.21 L219.25,1203.05 L221.28,1205.91 L223.31,1208.77 L225.34,1211.64 L227.37,1214.5 L229.4,1217.37 L231.43,1220.24 L233.46,1223.1 L235.49,1225.95 L237.52,1228.79 L239.55,1231.62 L241.58,1234.43 L243.61,1237.21 L245.64,1239.97 L247.67,1242.69 L249.7,1245.38 L251.73,1248.02 L253.76,1250.6 L255.79,1253.12 L257.82,1255.56 L259.85,1257.92 L261.88,1260.16 L263.91,1262.26 L265.94,1264.18 L267.97,1265.85 L270,1267" stroke="#8a2a2a" fill="none" stroke-width="1.6" />
<path d="M67,1079.7 L69.03,1079.72 L71.06,1079.78 L73.09,1079.89 L75.12,1080.03 L77.15,1080.22 L79.18,1080.45 L81.21,1080.71 L83.24,1081.03 L85.27,1081.38 L87.3,1081.77 L89.33,1082.2 L91.36,1082.68 L93.39,1083.2 L95.42,1083.76 L97.45,1084.36 L99.48,1085 L101.51,1085.68 L103.54,1086.4 L105.57,1087.16 L107.6,1087.97 L109.63,1088.81 L111.66,1089.7 L113.69,1090.63 L115.72,1091.59 L117.75,1092.6 L119.78,1093.65 L121.81,1094.74 L123.84,1095.87 L125.87,1097.04 L127.9,1098.25 L129.93,1099.5 L131.96,1100.79 L133.99,1102.12 L136.02,1103.49 L138.05,1104.91 L140.08,1106.36 L142.11,1107.84 L144.14,1109.37 L146.17,1110.94 L148.2,1112.55 L150.23,1114.2 L152.26,1115.88 L154.29,1117.6 L156.32,1119.37 L158.35,1121.17 L160.38,1123.01 L162.41,1124.89 L164.44,1126.8 L166.47,1128.75 L168.5,1130.74 L170.53,1132.77 L172.56,1134.84 L174.59,1136.94 L176.62,1139.08 L178.65,1141.25 L180.68,1143.46 L182.71,1145.71 L184.74,1147.99 L186.77,1150.31 L188.8,1152.67 L190.83,1155.06 L192.86,1157.48 L194.89,1159.93 L196.92,1162.43 L198.95,1164.95 L200.98,1167.51 L203.01,1170.1 L205.04,1172.72 L207.07,1175.37 L209.1,1178.06 L211.13,1180.77 L213.16,1183.52 L215.19,1186.29 L217.22,1189.1 L219.25,1191.93 L221.28,1194.79 L223.31,1197.68 L225.34,1200.59 L227.37,1203.53 L229.4,1206.49 L231.43,1209.48 L233.46,1212.49 L235.49,1215.51 L237.52,1218.56 L239.55,1221.63 L241.58,1224.71 L243.61,1227.81 L245.64,1230.91 L247.67,1234.03 L249.7,1237.16 L251.73,1240.29 L253.76,1243.41 L255.79,1246.53 L257.82,1249.64 L259.85,1252.73 L261.88,1255.79 L263.91,1258.8 L265.94,1261.73 L267.97,1264.54 L270,1267" stroke="#5a1616" fill="none" stroke-width="1.6" />
<path d="M67,1079.7 L69.03,1079.72 L71.06,1079.77 L73.09,1079.87 L75.12,1080 L77.15,1080.17 L79.18,1080.37 L81.21,1080.62 L83.24,1080.9 L85.27,1081.22 L87.3,1081.57 L89.33,1081.97 L91.36,1082.4 L93.39,1082.87 L95.42,1083.37 L97.45,1083.91 L99.48,1084.49 L101.51,1085.11 L103.54,1085.77 L105.57,1086.46 L107.6,1087.19 L109.63,1087.96 L111.66,1088.77 L113.69,1089.61 L115.72,1090.49 L117.75,1091.41 L119.78,1092.36 L121.81,1093.35 L123.84,1094.38 L125.87,1095.45 L127.9,1096.56 L129.93,1097.7 L131.96,1098.88 L133.99,1100.1 L136.02,1101.35 L138.05,1102.64 L140.08,1103.97 L142.11,1105.34 L144.14,1106.75 L146.17,1108.19 L148.2,1109.67 L150.23,1111.19 L152.26,1112.74 L154.29,1114.33 L156.32,1115.96 L158.35,1117.63 L160.38,1119.33 L162.41,1121.07 L164.44,1122.85 L166.47,1124.67 L168.5,1126.53 L170.53,1128.42 L172.56,1130.35 L174.59,1132.31 L176.62,1134.32 L178.65,1136.36 L180.68,1138.44 L182.71,1140.55 L184.74,1142.71 L186.77,1144.9 L188.8,1147.13 L190.83,1149.39 L192.86,1151.7 L194.89,1154.04 L196.92,1156.42 L198.95,1158.83 L200.98,1161.29 L203.01,1163.78 L205.04,1166.31 L207.07,1168.87 L209.1,1171.48 L211.13,1174.12 L213.16,1176.8 L215.19,1179.51 L217.22,1182.27 L219.25,1185.06 L221.28,1187.88 L223.31,1190.75 L225.34,1193.65 L227.37,1196.59 L229.4,1199.57 L231.43,1202.59 L233.46,1205.64 L235.49,1208.73 L237.52,1211.86 L239.55,1215.02 L241.58,1218.23 L243.61,1221.47 L245.64,1224.75 L247.67,1228.06 L249.7,1231.41 L251.73,1234.8 L253.76,1238.23 L255.79,1241.7 L257.82,1245.2 L259.85,1248.74 L261.88,1252.32 L263.91,1255.93 L265.94,1259.58 L267.97,1263.27 L270,1267" stroke="#2a3aa8" fill="none" stroke-width="1.5" stroke-dasharray="4 2 1 2"/>
<line x1="184.3" y1="1210" x2="229" y2="1176.3" stroke="#111" stroke-width="0.9" />
<polygon points="231.5,1174.5 224.5,1175.5 228,1181" stroke="none" fill="#111" stroke-width="1" />
<text x="235.5" y="1175" fill="#4a5ab0" style="font-family:'Liberation Sans', sans-serif;font-size:12.5px"><tspan font-style="italic">α</tspan> =1</text>
<text x="171" y="1224" fill="#3aaa4a" style="font-family:'Liberation Sans', sans-serif;font-size:12.5px"><tspan font-style="italic">α</tspan> =2</text>
<line x1="78.2" y1="1200.3" x2="103" y2="1200.3" stroke="#3aaa4a" stroke-width="1.2" stroke-dasharray="4 2.5"/>
<text x="107" y="1203.5" fill="#3aaa4a" text-anchor="start" style="font-family:'Liberation Sans', sans-serif;font-size:12px;" >plate</text>
<line x1="90.6" y1="1216.5" x2="147.6" y2="1216.5" stroke="#3aaa4a" stroke-width="0.9" />
<line x1="90.6" y1="1226.4" x2="147.6" y2="1226.4" stroke="#3aaa4a" stroke-width="0.9" />
<line x1="97.5" y1="1211" x2="97.5" y2="1232" stroke="#3aaa4a" stroke-width="0.9" />
<circle cx="97.5" cy="1216.5" r="3" fill="#fff" stroke="#3aaa4a" stroke-width="0.9" />
<circle cx="97.5" cy="1226.4" r="3" fill="#fff" stroke="#3aaa4a" stroke-width="0.9" />
<line x1="108.2" y1="1211" x2="108.2" y2="1232" stroke="#3aaa4a" stroke-width="0.9" />
<circle cx="108.2" cy="1216.5" r="3" fill="#fff" stroke="#3aaa4a" stroke-width="0.9" />
<circle cx="108.2" cy="1226.4" r="3" fill="#fff" stroke="#3aaa4a" stroke-width="0.9" />
<line x1="119.1" y1="1211" x2="119.1" y2="1232" stroke="#3aaa4a" stroke-width="0.9" />
<circle cx="119.1" cy="1216.5" r="3" fill="#fff" stroke="#3aaa4a" stroke-width="0.9" />
<circle cx="119.1" cy="1226.4" r="3" fill="#fff" stroke="#3aaa4a" stroke-width="0.9" />
<line x1="129.8" y1="1211" x2="129.8" y2="1232" stroke="#3aaa4a" stroke-width="0.9" />
<circle cx="129.8" cy="1216.5" r="3" fill="#fff" stroke="#3aaa4a" stroke-width="0.9" />
<circle cx="129.8" cy="1226.4" r="3" fill="#fff" stroke="#3aaa4a" stroke-width="0.9" />
<line x1="140.4" y1="1211" x2="140.4" y2="1232" stroke="#3aaa4a" stroke-width="0.9" />
<circle cx="140.4" cy="1216.5" r="3" fill="#fff" stroke="#3aaa4a" stroke-width="0.9" />
<circle cx="140.4" cy="1226.4" r="3" fill="#fff" stroke="#3aaa4a" stroke-width="0.9" />
<line x1="78.2" y1="1244" x2="104.2" y2="1244" stroke="#4a5ab0" stroke-width="1.1" stroke-dasharray="4 2 1 2"/>
<text x="107" y="1246.5" fill="#4a5ab0" text-anchor="start" style="font-family:'Liberation Sans', sans-serif;font-size:12px;" >membrane</text>
<line x1="91.3" y1="1255.7" x2="147.6" y2="1255.7" stroke="#4a5ab0" stroke-width="0.9" />
<circle cx="97.5" cy="1255.7" r="3" fill="#fff" stroke="#4a5ab0" stroke-width="0.9" />
<circle cx="108.2" cy="1255.7" r="3" fill="#fff" stroke="#4a5ab0" stroke-width="0.9" />
<circle cx="119.1" cy="1255.7" r="3" fill="#fff" stroke="#4a5ab0" stroke-width="0.9" />
<circle cx="129.8" cy="1255.7" r="3" fill="#fff" stroke="#4a5ab0" stroke-width="0.9" />
<circle cx="140.4" cy="1255.7" r="3" fill="#fff" stroke="#4a5ab0" stroke-width="0.9" />
<line x1="188.6" y1="1091" x2="215.9" y2="1091" stroke="#ee2a2a" stroke-width="1.6" />
<text x="218.5" y="1095" fill="#222" text-anchor="start" style="font-family:'Liberation Sans', sans-serif;font-size:12px;" >before</text>
<line x1="263" y1="1091" x2="289" y2="1091" stroke="#5a1616" stroke-width="1.6" />
<text x="290" y="1095" fill="#222" text-anchor="start" style="font-family:'Liberation Sans', sans-serif;font-size:12px;" >after</text>
<polygon points="183.6,1120.8 201,1102.2 253.1,1109.6 238.2,1127" stroke="none" fill="#1c2590" stroke-width="1" />
<ellipse cx="220.9" cy="1111.5" rx="8" ry="5.5" fill="url(#bumpG)" stroke="none" stroke-width="1" />
<ellipse cx="228" cy="1118" rx="14" ry="4" fill="#2a35a8" stroke="none" stroke-width="1" opacity="0.5"/>
<polygon points="251.9,1120.8 263,1102.2 320.1,1108.4 305.2,1127" stroke="none" fill="#1c2590" stroke-width="1" />
<path d="M270.5,1114 C272,1105 278,1098.5 285.4,1098.5 C293,1098.5 298,1105 299.5,1114 C292,1117 278,1117 270.5,1114 Z" stroke="none" fill="url(#bumpO)" stroke-width="1" />
<line x1="67" y1="1267" x2="63" y2="1267" stroke="#444" stroke-width="1" />
<text x="62" y="1270.5" fill="#333" text-anchor="end" style="font-family:'Liberation Sans', sans-serif;font-size:9px;" >0,0</text>
<line x1="67" y1="1248.27" x2="64.5" y2="1248.27" stroke="#444" stroke-width="1" />
<line x1="67" y1="1229.54" x2="63" y2="1229.54" stroke="#444" stroke-width="1" />
<text x="62" y="1233.04" fill="#333" text-anchor="end" style="font-family:'Liberation Sans', sans-serif;font-size:9px;" >0,2</text>
<line x1="67" y1="1210.81" x2="64.5" y2="1210.81" stroke="#444" stroke-width="1" />
<line x1="67" y1="1192.08" x2="63" y2="1192.08" stroke="#444" stroke-width="1" />
<text x="62" y="1195.58" fill="#333" text-anchor="end" style="font-family:'Liberation Sans', sans-serif;font-size:9px;" >0,4</text>
<line x1="67" y1="1173.35" x2="64.5" y2="1173.35" stroke="#444" stroke-width="1" />
<line x1="67" y1="1154.62" x2="63" y2="1154.62" stroke="#444" stroke-width="1" />
<text x="62" y="1158.12" fill="#333" text-anchor="end" style="font-family:'Liberation Sans', sans-serif;font-size:9px;" >0,6</text>
<line x1="67" y1="1135.89" x2="64.5" y2="1135.89" stroke="#444" stroke-width="1" />
<line x1="67" y1="1117.16" x2="63" y2="1117.16" stroke="#444" stroke-width="1" />
<text x="62" y="1120.66" fill="#333" text-anchor="end" style="font-family:'Liberation Sans', sans-serif;font-size:9px;" >0,8</text>
<line x1="67" y1="1098.43" x2="64.5" y2="1098.43" stroke="#444" stroke-width="1" />
<line x1="67" y1="1079.7" x2="63" y2="1079.7" stroke="#444" stroke-width="1" />
<text x="62" y="1083.2" fill="#333" text-anchor="end" style="font-family:'Liberation Sans', sans-serif;font-size:9px;" >1,0</text>
<line x1="67" y1="1266.8" x2="67" y2="1270.8" stroke="#444" stroke-width="1" />
<text x="67" y="1279" fill="#333" text-anchor="middle" style="font-family:'Liberation Sans', sans-serif;font-size:9px;" >0.0</text>
<line x1="87.3" y1="1266.8" x2="87.3" y2="1269.3" stroke="#444" stroke-width="1" />
<line x1="107.6" y1="1266.8" x2="107.6" y2="1270.8" stroke="#444" stroke-width="1" />
<text x="107.6" y="1279" fill="#333" text-anchor="middle" style="font-family:'Liberation Sans', sans-serif;font-size:9px;" >0.2</text>
<line x1="127.9" y1="1266.8" x2="127.9" y2="1269.3" stroke="#444" stroke-width="1" />
<line x1="148.2" y1="1266.8" x2="148.2" y2="1270.8" stroke="#444" stroke-width="1" />
<text x="148.2" y="1279" fill="#333" text-anchor="middle" style="font-family:'Liberation Sans', sans-serif;font-size:9px;" >0.4</text>
<line x1="168.5" y1="1266.8" x2="168.5" y2="1269.3" stroke="#444" stroke-width="1" />
<line x1="188.8" y1="1266.8" x2="188.8" y2="1270.8" stroke="#444" stroke-width="1" />
<text x="188.8" y="1279" fill="#333" text-anchor="middle" style="font-family:'Liberation Sans', sans-serif;font-size:9px;" >0.6</text>
<line x1="209.1" y1="1266.8" x2="209.1" y2="1269.3" stroke="#444" stroke-width="1" />
<line x1="229.4" y1="1266.8" x2="229.4" y2="1270.8" stroke="#444" stroke-width="1" />
<text x="229.4" y="1279" fill="#333" text-anchor="middle" style="font-family:'Liberation Sans', sans-serif;font-size:9px;" >0.8</text>
<line x1="249.7" y1="1266.8" x2="249.7" y2="1269.3" stroke="#444" stroke-width="1" />
<line x1="270" y1="1266.8" x2="270" y2="1270.8" stroke="#444" stroke-width="1" />
<text x="270" y="1279" fill="#333" text-anchor="middle" style="font-family:'Liberation Sans', sans-serif;font-size:9px;" >1.0</text>
<text x="178" y="1303" style="font-family:'Liberation Sans', sans-serif;font-size:19px;font-style:italic" fill="#111">r/R</text>
<text transform="translate(38,1193.5) rotate(-90)" style="font-family:'Liberation Sans', sans-serif;font-size:21.5px;font-style:italic" fill="#111">h/h<tspan font-size="15" dy="4">m</tspan></text>
<text x="348" y="1078" fill="#000" text-anchor="start" style="font-family:'Liberation Sans', sans-serif;font-size:25px;" >j)</text>
<line x1="447.6" y1="1263.5" x2="447.6" y2="1256.5" stroke="#000" stroke-width="1.5" />
<line x1="447.6" y1="1075" x2="447.6" y2="1082" stroke="#000" stroke-width="1.5" />
<line x1="534.6" y1="1263.5" x2="534.6" y2="1256.5" stroke="#000" stroke-width="1.5" />
<line x1="534.6" y1="1075" x2="534.6" y2="1082" stroke="#000" stroke-width="1.5" />
<line x1="621.6" y1="1263.5" x2="621.6" y2="1256.5" stroke="#000" stroke-width="1.5" />
<line x1="621.6" y1="1075" x2="621.6" y2="1082" stroke="#000" stroke-width="1.5" />
<line x1="491.1" y1="1263.5" x2="491.1" y2="1259.5" stroke="#000" stroke-width="1.3" />
<line x1="491.1" y1="1075" x2="491.1" y2="1079" stroke="#000" stroke-width="1.3" />
<line x1="578.1" y1="1263.5" x2="578.1" y2="1259.5" stroke="#000" stroke-width="1.3" />
<line x1="578.1" y1="1075" x2="578.1" y2="1079" stroke="#000" stroke-width="1.3" />
<line x1="414.5" y1="1257.6" x2="422.5" y2="1257.6" stroke="#000" stroke-width="1.5" />
<line x1="655.6" y1="1257.6" x2="647.6" y2="1257.6" stroke="#000" stroke-width="1.5" />
<line x1="414.5" y1="1196.38" x2="422.5" y2="1196.38" stroke="#000" stroke-width="1.5" />
<line x1="655.6" y1="1196.38" x2="647.6" y2="1196.38" stroke="#000" stroke-width="1.5" />
<line x1="414.5" y1="1135.16" x2="422.5" y2="1135.16" stroke="#000" stroke-width="1.5" />
<line x1="655.6" y1="1135.16" x2="647.6" y2="1135.16" stroke="#000" stroke-width="1.5" />
<line x1="414.5" y1="1073.94" x2="422.5" y2="1073.94" stroke="#000" stroke-width="1.5" />
<line x1="655.6" y1="1073.94" x2="647.6" y2="1073.94" stroke="#000" stroke-width="1.5" />
<line x1="414.5" y1="1226.99" x2="419.5" y2="1226.99" stroke="#000" stroke-width="1.3" />
<line x1="655.6" y1="1226.99" x2="650.6" y2="1226.99" stroke="#000" stroke-width="1.3" />
<line x1="414.5" y1="1165.77" x2="419.5" y2="1165.77" stroke="#000" stroke-width="1.3" />
<line x1="655.6" y1="1165.77" x2="650.6" y2="1165.77" stroke="#000" stroke-width="1.3" />
<line x1="414.5" y1="1104.55" x2="419.5" y2="1104.55" stroke="#000" stroke-width="1.3" />
<line x1="655.6" y1="1104.55" x2="650.6" y2="1104.55" stroke="#000" stroke-width="1.3" />
<defs><clipPath id="clipj"><rect x="415.5" y="1076" width="239" height="186.5"/></clipPath></defs>
<g clip-path="url(#clipj)">
<circle cx="411" cy="1194.3" r="4.9" fill="#3a50b0" stroke="#1a2060" stroke-width="0.9" />
<circle cx="415.38" cy="1194.75" r="4.9" fill="#3a50b0" stroke="#1a2060" stroke-width="0.9" />
<circle cx="419.69" cy="1195.57" r="4.9" fill="#3a50b0" stroke="#1a2060" stroke-width="0.9" />
<circle cx="423.98" cy="1196.54" r="4.9" fill="#3a50b0" stroke="#1a2060" stroke-width="0.9" />
<circle cx="428.29" cy="1197.45" r="4.9" fill="#3a50b0" stroke="#1a2060" stroke-width="0.9" />
<circle cx="432.56" cy="1198.49" r="4.9" fill="#3a50b0" stroke="#1a2060" stroke-width="0.9" />
<circle cx="435.83" cy="1201.35" r="4.9" fill="#3a50b0" stroke="#1a2060" stroke-width="0.9" />
<circle cx="438.16" cy="1205.02" r="4.9" fill="#3a50b0" stroke="#1a2060" stroke-width="0.9" />
<circle cx="439.97" cy="1209.03" r="4.9" fill="#3a50b0" stroke="#1a2060" stroke-width="0.9" />
<circle cx="441.56" cy="1213.13" r="4.9" fill="#3a50b0" stroke="#1a2060" stroke-width="0.9" />
<circle cx="444.12" cy="1216.69" r="4.9" fill="#3a50b0" stroke="#1a2060" stroke-width="0.9" />
<circle cx="446.31" cy="1216.53" r="4.9" fill="#3a50b0" stroke="#1a2060" stroke-width="0.9" />
<circle cx="447.98" cy="1212.47" r="4.9" fill="#3a50b0" stroke="#1a2060" stroke-width="0.9" />
<circle cx="449.6" cy="1208.38" r="4.9" fill="#3a50b0" stroke="#1a2060" stroke-width="0.9" />
<circle cx="451.21" cy="1204.28" r="4.9" fill="#3a50b0" stroke="#1a2060" stroke-width="0.9" />
<circle cx="452.4" cy="1200.04" r="4.9" fill="#3a50b0" stroke="#1a2060" stroke-width="0.9" />
<circle cx="453.52" cy="1195.79" r="4.9" fill="#3a50b0" stroke="#1a2060" stroke-width="0.9" />
<circle cx="454.94" cy="1191.63" r="4.9" fill="#3a50b0" stroke="#1a2060" stroke-width="0.9" />
<circle cx="456.4" cy="1187.47" r="4.9" fill="#3a50b0" stroke="#1a2060" stroke-width="0.9" />
<circle cx="457.93" cy="1183.35" r="4.9" fill="#3a50b0" stroke="#1a2060" stroke-width="0.9" />
<circle cx="459.48" cy="1179.23" r="4.9" fill="#3a50b0" stroke="#1a2060" stroke-width="0.9" />
<circle cx="461.06" cy="1175.13" r="4.9" fill="#3a50b0" stroke="#1a2060" stroke-width="0.9" />
<circle cx="463.09" cy="1171.23" r="4.9" fill="#3a50b0" stroke="#1a2060" stroke-width="0.9" />
<circle cx="465.15" cy="1167.36" r="4.9" fill="#3a50b0" stroke="#1a2060" stroke-width="0.9" />
<circle cx="466.33" cy="1163.12" r="4.9" fill="#3a50b0" stroke="#1a2060" stroke-width="0.9" />
<circle cx="467.51" cy="1158.89" r="4.9" fill="#3a50b0" stroke="#1a2060" stroke-width="0.9" />
<circle cx="468.7" cy="1154.65" r="4.9" fill="#3a50b0" stroke="#1a2060" stroke-width="0.9" />
<circle cx="469.88" cy="1150.41" r="4.9" fill="#3a50b0" stroke="#1a2060" stroke-width="0.9" />
<circle cx="471.3" cy="1146.24" r="4.9" fill="#3a50b0" stroke="#1a2060" stroke-width="0.9" />
<circle cx="472.73" cy="1142.08" r="4.9" fill="#3a50b0" stroke="#1a2060" stroke-width="0.9" />
<circle cx="474.24" cy="1137.96" r="4.9" fill="#3a50b0" stroke="#1a2060" stroke-width="0.9" />
<circle cx="476.3" cy="1134.07" r="4.9" fill="#3a50b0" stroke="#1a2060" stroke-width="0.9" />
<circle cx="478.37" cy="1130.19" r="4.9" fill="#3a50b0" stroke="#1a2060" stroke-width="0.9" />
<circle cx="480.84" cy="1126.56" r="4.9" fill="#3a50b0" stroke="#1a2060" stroke-width="0.9" />
<circle cx="483.49" cy="1123.04" r="4.9" fill="#3a50b0" stroke="#1a2060" stroke-width="0.9" />
<circle cx="486.31" cy="1119.69" r="4.9" fill="#3a50b0" stroke="#1a2060" stroke-width="0.9" />
<circle cx="489.42" cy="1116.58" r="4.9" fill="#3a50b0" stroke="#1a2060" stroke-width="0.9" />
<circle cx="492.54" cy="1113.46" r="4.9" fill="#3a50b0" stroke="#1a2060" stroke-width="0.9" />
<circle cx="495.76" cy="1110.48" r="4.9" fill="#3a50b0" stroke="#1a2060" stroke-width="0.9" />
<circle cx="499.02" cy="1107.51" r="4.9" fill="#3a50b0" stroke="#1a2060" stroke-width="0.9" />
<circle cx="502.29" cy="1104.58" r="4.9" fill="#3a50b0" stroke="#1a2060" stroke-width="0.9" />
<circle cx="505.62" cy="1101.7" r="4.9" fill="#3a50b0" stroke="#1a2060" stroke-width="0.9" />
<circle cx="509.16" cy="1099.11" r="4.9" fill="#3a50b0" stroke="#1a2060" stroke-width="0.9" />
<circle cx="512.87" cy="1096.73" r="4.9" fill="#3a50b0" stroke="#1a2060" stroke-width="0.9" />
<circle cx="516.54" cy="1094.31" r="4.9" fill="#3a50b0" stroke="#1a2060" stroke-width="0.9" />
<circle cx="520.24" cy="1091.95" r="4.9" fill="#3a50b0" stroke="#1a2060" stroke-width="0.9" />
<circle cx="524.55" cy="1091.09" r="4.9" fill="#3a50b0" stroke="#1a2060" stroke-width="0.9" />
<circle cx="528.9" cy="1090.5" r="4.9" fill="#3a50b0" stroke="#1a2060" stroke-width="0.9" />
<circle cx="533.29" cy="1090.27" r="4.9" fill="#3a50b0" stroke="#1a2060" stroke-width="0.9" />
<circle cx="537.69" cy="1090.36" r="4.9" fill="#3a50b0" stroke="#1a2060" stroke-width="0.9" />
<circle cx="542.08" cy="1090.59" r="4.9" fill="#3a50b0" stroke="#1a2060" stroke-width="0.9" />
<circle cx="546.4" cy="1091.44" r="4.9" fill="#3a50b0" stroke="#1a2060" stroke-width="0.9" />
<circle cx="550.48" cy="1092.86" r="4.9" fill="#3a50b0" stroke="#1a2060" stroke-width="0.9" />
<circle cx="554.14" cy="1095.3" r="4.9" fill="#3a50b0" stroke="#1a2060" stroke-width="0.9" />
<circle cx="557.83" cy="1097.69" r="4.9" fill="#3a50b0" stroke="#1a2060" stroke-width="0.9" />
<circle cx="561.54" cy="1100.07" r="4.9" fill="#3a50b0" stroke="#1a2060" stroke-width="0.9" />
<circle cx="564.93" cy="1102.86" r="4.9" fill="#3a50b0" stroke="#1a2060" stroke-width="0.9" />
<circle cx="568.25" cy="1105.75" r="4.9" fill="#3a50b0" stroke="#1a2060" stroke-width="0.9" />
<circle cx="571.5" cy="1108.71" r="4.9" fill="#3a50b0" stroke="#1a2060" stroke-width="0.9" />
<circle cx="574.75" cy="1111.68" r="4.9" fill="#3a50b0" stroke="#1a2060" stroke-width="0.9" />
<circle cx="577.93" cy="1114.73" r="4.9" fill="#3a50b0" stroke="#1a2060" stroke-width="0.9" />
<circle cx="581.04" cy="1117.84" r="4.9" fill="#3a50b0" stroke="#1a2060" stroke-width="0.9" />
<circle cx="584.14" cy="1120.95" r="4.9" fill="#3a50b0" stroke="#1a2060" stroke-width="0.9" />
<circle cx="586.79" cy="1124.47" r="4.9" fill="#3a50b0" stroke="#1a2060" stroke-width="0.9" />
<circle cx="589.43" cy="1127.98" r="4.9" fill="#3a50b0" stroke="#1a2060" stroke-width="0.9" />
<circle cx="591.67" cy="1131.76" r="4.9" fill="#3a50b0" stroke="#1a2060" stroke-width="0.9" />
<circle cx="593.73" cy="1135.65" r="4.9" fill="#3a50b0" stroke="#1a2060" stroke-width="0.9" />
<circle cx="595.62" cy="1139.61" r="4.9" fill="#3a50b0" stroke="#1a2060" stroke-width="0.9" />
<circle cx="597.05" cy="1143.77" r="4.9" fill="#3a50b0" stroke="#1a2060" stroke-width="0.9" />
<circle cx="598.49" cy="1147.93" r="4.9" fill="#3a50b0" stroke="#1a2060" stroke-width="0.9" />
<circle cx="599.8" cy="1152.13" r="4.9" fill="#3a50b0" stroke="#1a2060" stroke-width="0.9" />
<circle cx="600.98" cy="1156.37" r="4.9" fill="#3a50b0" stroke="#1a2060" stroke-width="0.9" />
<circle cx="602.17" cy="1160.6" r="4.9" fill="#3a50b0" stroke="#1a2060" stroke-width="0.9" />
<circle cx="603.35" cy="1164.84" r="4.9" fill="#3a50b0" stroke="#1a2060" stroke-width="0.9" />
<circle cx="604.81" cy="1168.96" r="4.9" fill="#3a50b0" stroke="#1a2060" stroke-width="0.9" />
<circle cx="607" cy="1172.78" r="4.9" fill="#3a50b0" stroke="#1a2060" stroke-width="0.9" />
<circle cx="608.78" cy="1176.79" r="4.9" fill="#3a50b0" stroke="#1a2060" stroke-width="0.9" />
<circle cx="610.36" cy="1180.9" r="4.9" fill="#3a50b0" stroke="#1a2060" stroke-width="0.9" />
<circle cx="611.89" cy="1185.02" r="4.9" fill="#3a50b0" stroke="#1a2060" stroke-width="0.9" />
<circle cx="613.4" cy="1189.15" r="4.9" fill="#3a50b0" stroke="#1a2060" stroke-width="0.9" />
<circle cx="614.84" cy="1193.31" r="4.9" fill="#3a50b0" stroke="#1a2060" stroke-width="0.9" />
<circle cx="616.13" cy="1197.51" r="4.9" fill="#3a50b0" stroke="#1a2060" stroke-width="0.9" />
<circle cx="617.26" cy="1201.77" r="4.9" fill="#3a50b0" stroke="#1a2060" stroke-width="0.9" />
<circle cx="618.64" cy="1205.94" r="4.9" fill="#3a50b0" stroke="#1a2060" stroke-width="0.9" />
<circle cx="620.25" cy="1210.03" r="4.9" fill="#3a50b0" stroke="#1a2060" stroke-width="0.9" />
<circle cx="621.89" cy="1214.11" r="4.9" fill="#3a50b0" stroke="#1a2060" stroke-width="0.9" />
<circle cx="623.57" cy="1218.18" r="4.9" fill="#3a50b0" stroke="#1a2060" stroke-width="0.9" />
<circle cx="626.15" cy="1215.27" r="4.9" fill="#3a50b0" stroke="#1a2060" stroke-width="0.9" />
<circle cx="628.29" cy="1211.47" r="4.9" fill="#3a50b0" stroke="#1a2060" stroke-width="0.9" />
<circle cx="629.87" cy="1207.37" r="4.9" fill="#3a50b0" stroke="#1a2060" stroke-width="0.9" />
<circle cx="631.84" cy="1203.43" r="4.9" fill="#3a50b0" stroke="#1a2060" stroke-width="0.9" />
<circle cx="634.65" cy="1200.11" r="4.9" fill="#3a50b0" stroke="#1a2060" stroke-width="0.9" />
<circle cx="638.37" cy="1198.07" r="4.9" fill="#3a50b0" stroke="#1a2060" stroke-width="0.9" />
<circle cx="642.66" cy="1197.07" r="4.9" fill="#3a50b0" stroke="#1a2060" stroke-width="0.9" />
<circle cx="646.96" cy="1196.17" r="4.9" fill="#3a50b0" stroke="#1a2060" stroke-width="0.9" />
<circle cx="651.24" cy="1195.15" r="4.9" fill="#3a50b0" stroke="#1a2060" stroke-width="0.9" />
<circle cx="655.6" cy="1194.56" r="4.9" fill="#3a50b0" stroke="#1a2060" stroke-width="0.9" />
<circle cx="445.5" cy="1257.7" r="4.9" fill="#3a50b0" stroke="#1a2060" stroke-width="0.9" />
<circle cx="625" cy="1256.6" r="4.9" fill="#3a50b0" stroke="#1a2060" stroke-width="0.9" />
<path d="M446.1,1256.25 C446.85,1253.34 449.09,1244.56 450.56,1238.74 C452.03,1232.93 453.46,1227.17 454.91,1221.36 C456.36,1215.54 457.66,1209.69 459.26,1203.85 C460.85,1198.01 462.4,1192.24 464.48,1186.34 C466.55,1180.44 469.43,1174.59 471.7,1168.46 C473.97,1162.34 475.87,1155.67 478.1,1149.61 C480.34,1143.55 482.28,1137.94 485.1,1132.1 C487.91,1126.26 491.59,1119.37 495,1114.59 C498.41,1109.81 501.64,1106.67 505.54,1103.45 C509.45,1100.22 513.58,1097.2 518.42,1095.24 C523.26,1093.29 529.21,1091.69 534.6,1091.69 C539.99,1091.69 545.94,1093.29 550.78,1095.24 C555.62,1097.2 559.75,1100.22 563.66,1103.45 C567.56,1106.67 570.79,1109.81 574.2,1114.59 C577.61,1119.37 581.29,1126.26 584.1,1132.1 C586.92,1137.94 588.86,1143.55 591.1,1149.61 C593.33,1155.67 595.23,1162.34 597.5,1168.46 C599.77,1174.59 602.65,1180.44 604.72,1186.34 C606.8,1192.24 608.35,1198.01 609.94,1203.85 C611.54,1209.69 612.84,1215.54 614.29,1221.36 C615.74,1227.17 617.17,1232.93 618.64,1238.74 C620.11,1244.56 622.35,1253.34 623.1,1256.25" stroke="#e8288a" fill="none" stroke-width="3.2" />
</g>
<text y="1096.5" fill="#2e3d8e" stroke="#2e3d8e" stroke-width="0.6" style="font-family:'Liberation Sans', sans-serif;font-size:17.3px;font-weight:bold"><tspan x="418" font-style="italic">S</tspan><tspan x="437">=</tspan><tspan x="454.5">1</tspan></text>
<text x="473.5" y="1096.5" textLength="29.5" lengthAdjust="spacingAndGlyphs" fill="#2e3d8e" stroke="#2e3d8e" stroke-width="0.6" style="font-family:'Liberation Sans', sans-serif;font-size:17.3px;font-weight:bold">µm</text>
<rect x="492" y="1166" width="62.7" height="7.3" fill="url(#cbar)" stroke="none" stroke-width="1" />
<text x="493.5" y="1163.5" fill="#222" text-anchor="middle" style="font-family:'Liberation Sans', sans-serif;font-size:9.5px;" >2</text>
<text x="507.9" y="1163.5" fill="#222" text-anchor="middle" style="font-family:'Liberation Sans', sans-serif;font-size:9.5px;" >4</text>
<text x="522.3" y="1163.5" fill="#222" text-anchor="middle" style="font-family:'Liberation Sans', sans-serif;font-size:9.5px;" >6</text>
<text x="536.7" y="1163.5" fill="#222" text-anchor="middle" style="font-family:'Liberation Sans', sans-serif;font-size:9.5px;" >8</text>
<text x="551.1" y="1163.5" fill="#222" text-anchor="middle" style="font-family:'Liberation Sans', sans-serif;font-size:9.5px;" >10</text>
<text x="559" y="1171.5" fill="#222" style="font-family:'Liberation Sans', sans-serif;font-size:9.5px">ε<tspan font-size="7" dy="2">p</tspan></text>
<rect x="492.5" y="1178.1" width="76.6" height="59.4" fill="#fff" stroke="#333" stroke-width="1.1" />
<ellipse cx="530.6" cy="1207.8" rx="29.7" ry="23.4" fill="url(#ell)" stroke="none" stroke-width="1" />
<line x1="569.1" y1="1184.5" x2="566.1" y2="1184.5" stroke="#333" stroke-width="0.9" />
<line x1="492.5" y1="1184.5" x2="495.5" y2="1184.5" stroke="#333" stroke-width="0.9" />
<line x1="569.1" y1="1207.8" x2="566.1" y2="1207.8" stroke="#333" stroke-width="0.9" />
<line x1="492.5" y1="1207.8" x2="495.5" y2="1207.8" stroke="#333" stroke-width="0.9" />
<line x1="569.1" y1="1231.2" x2="566.1" y2="1231.2" stroke="#333" stroke-width="0.9" />
<line x1="492.5" y1="1231.2" x2="495.5" y2="1231.2" stroke="#333" stroke-width="0.9" />
<line x1="500" y1="1237.5" x2="500" y2="1234.5" stroke="#333" stroke-width="0.9" />
<line x1="500" y1="1178.1" x2="500" y2="1181.1" stroke="#333" stroke-width="0.9" />
<line x1="530.6" y1="1237.5" x2="530.6" y2="1234.5" stroke="#333" stroke-width="0.9" />
<line x1="530.6" y1="1178.1" x2="530.6" y2="1181.1" stroke="#333" stroke-width="0.9" />
<line x1="561.2" y1="1237.5" x2="561.2" y2="1234.5" stroke="#333" stroke-width="0.9" />
<line x1="561.2" y1="1178.1" x2="561.2" y2="1181.1" stroke="#333" stroke-width="0.9" />
<text x="571" y="1188" fill="#222" style="font-family:'Liberation Sans', sans-serif;font-size:10px;font-style:italic">R</text>
<text x="571.5" y="1211.5" fill="#222" style="font-family:'Liberation Sans', sans-serif;font-size:10px">0</text>
<text x="568" y="1235" fill="#222" style="font-family:'Liberation Sans', sans-serif;font-size:10px;font-style:italic">-R</text>
<text x="494" y="1247" fill="#222" style="font-family:'Liberation Sans', sans-serif;font-size:10px;font-style:italic">-R</text>
<text x="528" y="1247" fill="#222" style="font-family:'Liberation Sans', sans-serif;font-size:10px">0</text>
<text x="556.5" y="1247" fill="#222" style="font-family:'Liberation Sans', sans-serif;font-size:10px;font-style:italic">R</text>
<rect x="414.5" y="1075" width="241.1" height="188.5" fill="none" stroke="#000" stroke-width="2" />
<text x="411" y="1263.6" fill="#111" text-anchor="end" style="font-family:'Liberation Sans', sans-serif;font-size:17.5px;" >0</text>
<text x="411" y="1202.38" fill="#111" text-anchor="end" style="font-family:'Liberation Sans', sans-serif;font-size:17.5px;" >50</text>
<text x="411" y="1141.16" fill="#111" text-anchor="end" style="font-family:'Liberation Sans', sans-serif;font-size:17.5px;" >100</text>
<text x="411" y="1079.94" fill="#111" text-anchor="end" style="font-family:'Liberation Sans', sans-serif;font-size:17.5px;" >150</text>
<text x="447.6" y="1281" fill="#111" text-anchor="middle" style="font-family:'Liberation Sans', sans-serif;font-size:19px;" >-0.5</text>
<text x="534.6" y="1281" fill="#111" text-anchor="middle" style="font-family:'Liberation Sans', sans-serif;font-size:19px;" >0.0</text>
<text x="621.6" y="1281" fill="#111" text-anchor="middle" style="font-family:'Liberation Sans', sans-serif;font-size:19px;" >0.5</text>
<text x="512" y="1302" fill="#111" text-anchor="start" style="font-family:'Liberation Sans', sans-serif;font-size:18.5px;" ><tspan font-style="italic">r</tspan> (µm)</text>
<text transform="translate(373.7,1192) rotate(-90)" style="font-family:'Liberation Sans', sans-serif;font-size:20.5px;" fill="#111"><tspan font-style="italic">h</tspan> (nm)</text>
</svg></body></html>
